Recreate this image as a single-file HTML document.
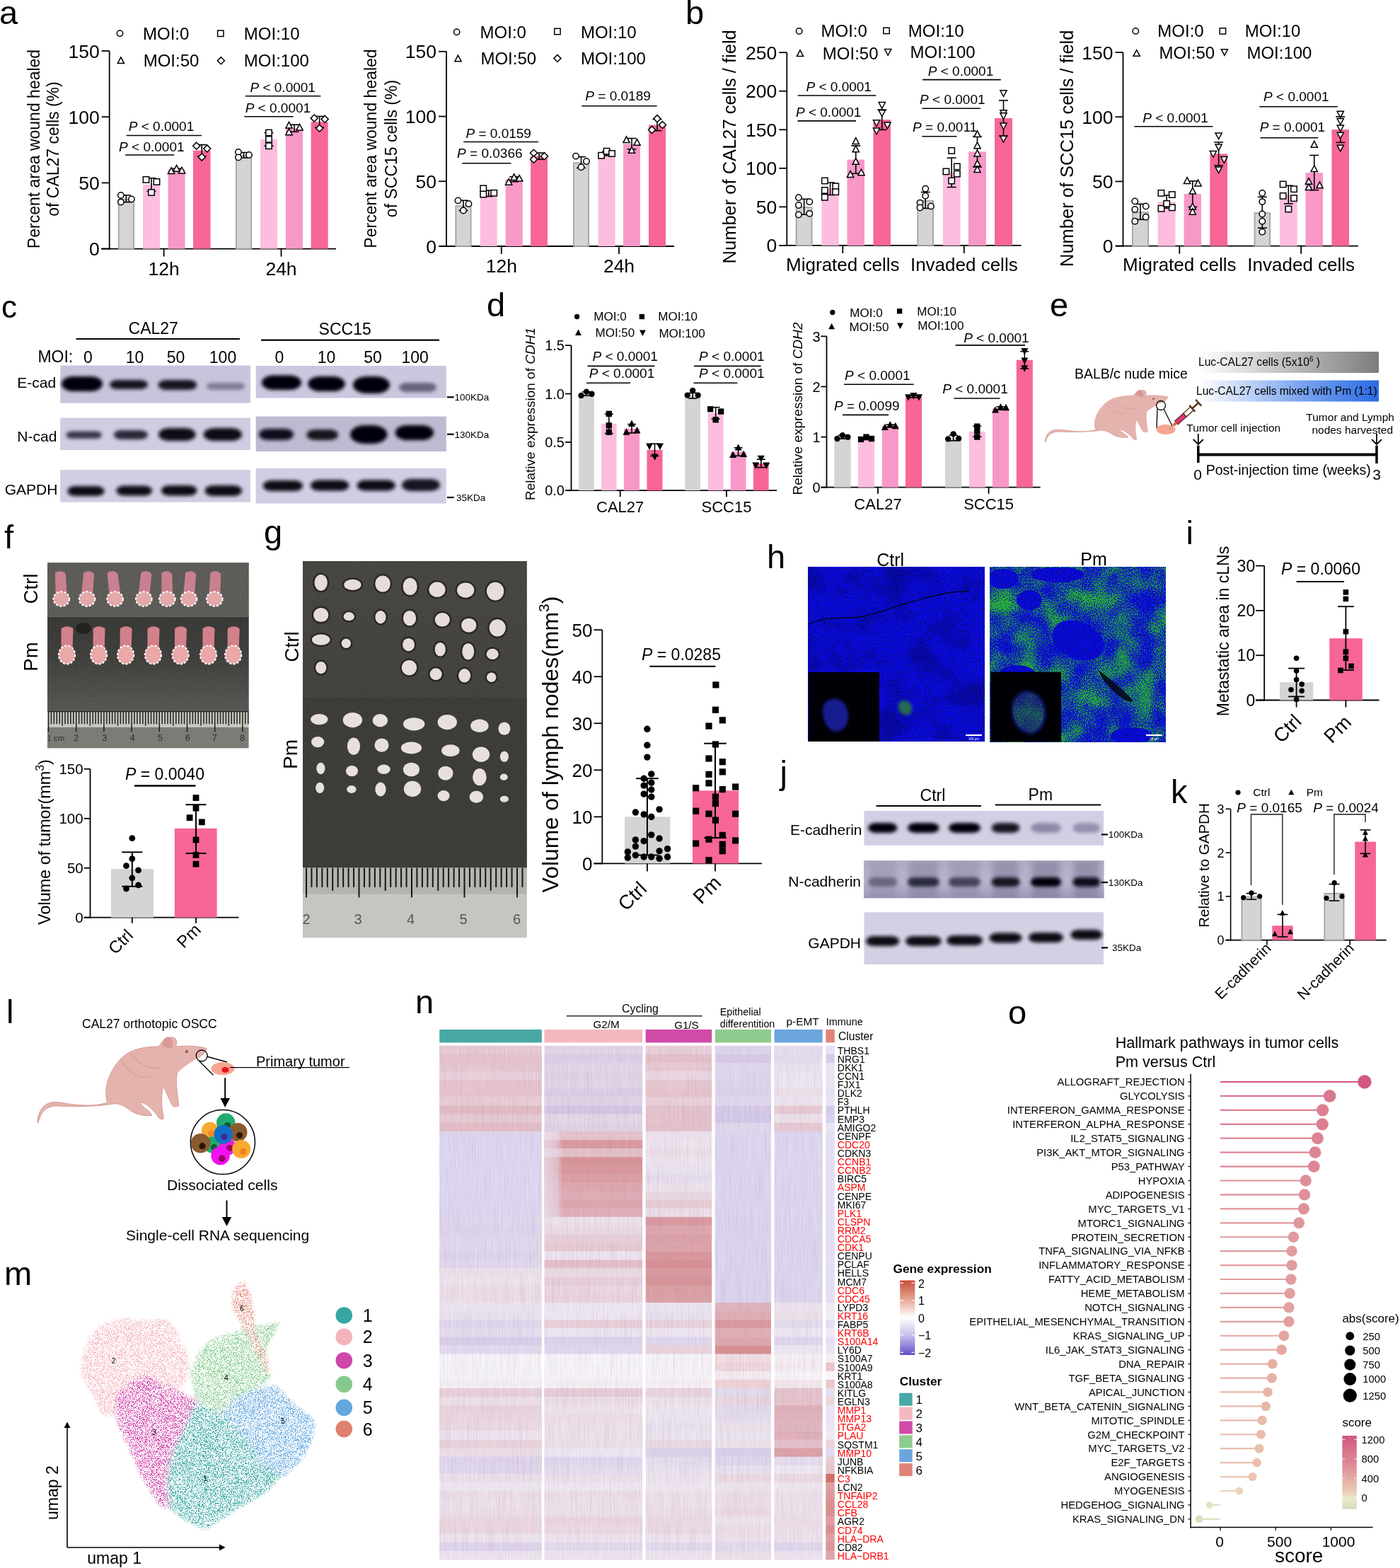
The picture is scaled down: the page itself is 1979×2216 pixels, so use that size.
<!DOCTYPE html>
<html><head><meta charset="utf-8"><title>Figure</title>
<style>html,body{margin:0;padding:0;background:#fff;overflow:hidden}svg{display:block}</style>
</head><body>
<svg width="1979" height="2216" viewBox="0 0 1979 2216" font-family="'Liberation Sans', Arial, Helvetica, sans-serif">
<defs><filter id="blb" x="-30%" y="-80%" width="160%" height="260%"><feGaussianBlur stdDeviation="2.6"/></filter>
<filter id="blb2" x="-30%" y="-80%" width="160%" height="260%"><feGaussianBlur stdDeviation="4"/></filter>
<linearGradient id="gg" x1="0" x2="1"><stop offset="0" stop-color="#fff"/><stop offset="1" stop-color="#7d7d7d"/></linearGradient>
<linearGradient id="gb" x1="0" x2="1"><stop offset="0" stop-color="#fff"/><stop offset="0.55" stop-color="#7ea6ee"/><stop offset="1" stop-color="#2a6be6"/></linearGradient>
<filter id="grain" x="0" y="0" width="100%" height="100%"><feTurbulence type="fractalNoise" baseFrequency="0.9" numOctaves="2" seed="3"/><feColorMatrix type="matrix" values="0 0 0 0 1  0 0 0 0 1  0 0 0 0 1  0 0 0 0 0"/></filter>
<filter id="grain2" x="0" y="0" width="100%" height="100%" color-interpolation-filters="sRGB"><feTurbulence type="fractalNoise" baseFrequency="0.7" numOctaves="2" seed="11" result="n"/><feColorMatrix in="n" type="matrix" values="0.35 0 0 0 0.0  0.35 0 0 0 0.0  0.35 0 0 0 0.0  0 0 0 0 0.35"/></filter>
<linearGradient id="fpm" x1="0" y1="0" x2="0" y2="1"><stop offset="0" stop-color="#3e3e3b"/><stop offset="0.45" stop-color="#4a4a46"/><stop offset="1" stop-color="#6c6c66"/></linearGradient>
<linearGradient id="gctl" x1="0" y1="0" x2="0" y2="1"><stop offset="0" stop-color="#504f48"/><stop offset="1" stop-color="#4b4a44"/></linearGradient>
<filter id="bluetex" x="0" y="0" width="100%" height="100%" color-interpolation-filters="sRGB"><feTurbulence type="fractalNoise" baseFrequency="0.6" numOctaves="2" seed="5" result="n"/><feColorMatrix in="n" type="matrix" values="0 0 0 0 0.04  0 0 0 0 0.04  1.9 0 0 0 -0.12  0 0 0 0 1"/></filter>
<filter id="bluetex2" x="0" y="0" width="100%" height="100%" color-interpolation-filters="sRGB"><feTurbulence type="fractalNoise" baseFrequency="0.6" numOctaves="2" seed="17" result="n"/><feColorMatrix in="n" type="matrix" values="0 0 0 0 0.04  0 0 0 0 0.05  1.9 0 0 0 -0.12  0 0 0 0 1"/></filter>
<filter id="darkpatch" x="0" y="0" width="100%" height="100%" color-interpolation-filters="sRGB"><feTurbulence type="fractalNoise" baseFrequency="0.025" numOctaves="3" seed="31" result="n"/><feColorMatrix in="n" type="matrix" values="0 0 0 0 0  0 0 0 0 0  0 0 0 0 0.1  3 0 0 0 -1.3"/></filter>
<filter id="greentex" x="0" y="0" width="100%" height="100%" color-interpolation-filters="sRGB"><feTurbulence type="fractalNoise" baseFrequency="0.03" numOctaves="2" seed="3" result="t1"/><feColorMatrix in="t1" type="matrix" values="1 0 0 0 0  0 0 0 0 0  0 0 0 0 0  0 0 0 0 1" result="u1"/><feTurbulence type="fractalNoise" baseFrequency="0.7" numOctaves="1" seed="9" result="t2"/><feColorMatrix in="t2" type="matrix" values="1 0 0 0 0  0 0 0 0 0  0 0 0 0 0  0 0 0 0 1" result="u2"/><feComposite in="u1" in2="u2" operator="arithmetic" k1="0" k2="0.55" k3="1" k4="-0.27" result="s"/><feColorMatrix in="s" type="matrix" values="0 0 0 0 0.16  0 0 0 0 0.72  0 0 0 0 0.16  4.0 0 0 0 -1.75"/></filter>
<filter id="soft" x="-20%" y="-20%" width="140%" height="140%"><feGaussianBlur stdDeviation="2"/></filter>
<linearGradient id="ncad" x1="0" y1="0" x2="0" y2="1"><stop offset="0" stop-color="#a9a5c0" stop-opacity="0.6"/><stop offset="0.5" stop-color="#a9a5c0" stop-opacity="0"/><stop offset="1" stop-color="#8f8aab" stop-opacity="0.7"/></linearGradient>
<filter id="dots" x="-5%" y="-5%" width="110%" height="110%" color-interpolation-filters="sRGB"><feGaussianBlur in="SourceGraphic" stdDeviation="3.5" result="b"/><feTurbulence type="fractalNoise" baseFrequency="1.3" numOctaves="1" seed="4" result="t"/><feColorMatrix in="t" type="matrix" values="0 0 0 0 1  0 0 0 0 1  0 0 0 0 1  7 0 0 0 -3.35" result="m"/><feComposite in="b" in2="m" operator="arithmetic" k1="1" k2="0" k3="0" k4="0" result="p"/><feColorMatrix in="p" type="matrix" values="1 0 0 0 0  0 1 0 0 0  0 0 1 0 0  0 0 0 2.2 -0.45"/></filter>
<filter id="streak" x="0" y="0" width="100%" height="100%" color-interpolation-filters="sRGB"><feTurbulence type="fractalNoise" baseFrequency="0.9 0.02" numOctaves="2" seed="8" result="t"/><feColorMatrix in="t" type="matrix" values="0 0 0 0 0.62  0 0 0 0 0.5  0 0 0 0 0.62  1.4 0 0 0 -0.55"/></filter>
<linearGradient id="g2fade" x1="0" x2="1"><stop offset="0" stop-color="#e8e2f2" stop-opacity="0.75"/><stop offset="0.7" stop-color="#e8e2f2" stop-opacity="0.5"/><stop offset="1" stop-color="#e8e2f2" stop-opacity="0"/></linearGradient>
<linearGradient id="hmg" x1="0" y1="0" x2="0" y2="1"><stop offset="0" stop-color="#c64e3a"/><stop offset="0.25" stop-color="#e6a490"/><stop offset="0.5" stop-color="#ffffff"/><stop offset="0.75" stop-color="#c2bbea"/><stop offset="1" stop-color="#6152cb"/></linearGradient>
<linearGradient id="scg" x1="0" y1="0" x2="0" y2="1"><stop offset="0" stop-color="#d2587f"/><stop offset="0.4" stop-color="#de8c98"/><stop offset="0.72" stop-color="#e8c4b0"/><stop offset="0.86" stop-color="#ece8c8"/><stop offset="1" stop-color="#d6dcbe"/></linearGradient></defs>
<rect width="100%" height="100%" fill="#fff"/>
<text x="-1" y="34" font-size="47">a</text>
<line x1="154.7" y1="352.5" x2="154.7" y2="72" stroke="#000" stroke-width="1.8" />
<line x1="143.7" y1="351.6" x2="154.7" y2="351.6" stroke="#000" stroke-width="1.8" />
<text x="140.7" y="361.14" font-size="26.5" text-anchor="end">0</text>
<line x1="143.7" y1="258.4" x2="154.7" y2="258.4" stroke="#000" stroke-width="1.8" />
<text x="140.7" y="267.94" font-size="26.5" text-anchor="end">50</text>
<line x1="143.7" y1="165.2" x2="154.7" y2="165.2" stroke="#000" stroke-width="1.8" />
<text x="140.7" y="174.74" font-size="26.5" text-anchor="end">100</text>
<line x1="143.7" y1="72" x2="154.7" y2="72" stroke="#000" stroke-width="1.8" />
<text x="140.7" y="81.54" font-size="26.5" text-anchor="end">150</text>
<line x1="143" y1="351.6" x2="475" y2="351.6" stroke="#000" stroke-width="1.8" />
<line x1="231.6" y1="351.6" x2="231.6" y2="362.6" stroke="#000" stroke-width="1.8" />
<text x="231.6" y="389.2" font-size="26.5" text-anchor="middle">12h</text>
<line x1="397.5" y1="351.6" x2="397.5" y2="362.6" stroke="#000" stroke-width="1.8" />
<text x="397.5" y="389.2" font-size="26.5" text-anchor="middle">24h</text>
<rect x="167.7" y="281.67" width="21.4" height="69.93" fill="#d4d4d4" stroke="#a3a3a7" stroke-width="1.8" />
<rect x="202" y="261.01" width="24" height="90.59" fill="#fdbddf" />
<rect x="237.6" y="239.76" width="23.9" height="111.84" fill="#f898c8" />
<rect x="273" y="212.73" width="24.5" height="138.87" fill="#f76694" />
<rect x="333.9" y="220.16" width="21.2" height="131.44" fill="#d4d4d4" stroke="#a3a3a7" stroke-width="1.8" />
<rect x="368" y="196.89" width="24" height="154.71" fill="#fdbddf" />
<rect x="404" y="181.23" width="24" height="170.37" fill="#f898c8" />
<rect x="439.6" y="172.28" width="24.1" height="179.32" fill="#f76694" />
<line x1="178.4" y1="275.92" x2="178.4" y2="285.61" stroke="#000" stroke-width="1.6" />
<line x1="171.9" y1="275.92" x2="184.9" y2="275.92" stroke="#000" stroke-width="1.6" />
<line x1="171.9" y1="285.61" x2="184.9" y2="285.61" stroke="#000" stroke-width="1.6" />
<circle cx="170.9" cy="275.92" r="4.2" fill="#fff" stroke="#000" stroke-width="1.5" />
<circle cx="170.9" cy="285.61" r="4.2" fill="#fff" stroke="#000" stroke-width="1.5" />
<circle cx="185.9" cy="281.51" r="4.2" fill="#fff" stroke="#000" stroke-width="1.5" />
<line x1="214" y1="251.69" x2="214" y2="270.33" stroke="#000" stroke-width="1.6" />
<line x1="207.5" y1="251.69" x2="220.5" y2="251.69" stroke="#000" stroke-width="1.6" />
<line x1="207.5" y1="270.33" x2="220.5" y2="270.33" stroke="#000" stroke-width="1.6" />
<rect x="202.3" y="249.73" width="8.4" height="8.4" fill="#fff" stroke="#000" stroke-width="1.5" />
<rect x="217.3" y="252.71" width="8.4" height="8.4" fill="#fff" stroke="#000" stroke-width="1.5" />
<rect x="209.8" y="267.81" width="8.4" height="8.4" fill="#fff" stroke="#000" stroke-width="1.5" />
<line x1="249.55" y1="238.27" x2="249.55" y2="241.25" stroke="#000" stroke-width="1.6" />
<line x1="243.05" y1="238.27" x2="256.05" y2="238.27" stroke="#000" stroke-width="1.6" />
<line x1="243.05" y1="241.25" x2="256.05" y2="241.25" stroke="#000" stroke-width="1.6" />
<path d="M242.05 236.79L246.67 245.49L237.43 245.49Z" fill="#fff" stroke="#000" stroke-width="1.5" />
<path d="M249.55 233.44L254.17 242.13L244.93 242.13Z" fill="#fff" stroke="#000" stroke-width="1.5" />
<path d="M257.05 236.23L261.67 244.93L252.43 244.93Z" fill="#fff" stroke="#000" stroke-width="1.5" />
<line x1="285.25" y1="204.53" x2="285.25" y2="220.93" stroke="#000" stroke-width="1.6" />
<line x1="278.75" y1="204.53" x2="291.75" y2="204.53" stroke="#000" stroke-width="1.6" />
<line x1="278.75" y1="220.93" x2="291.75" y2="220.93" stroke="#000" stroke-width="1.6" />
<path d="M277.75 201.17L282.79 206.21L277.75 211.25L272.71 206.21Z" fill="#fff" stroke="#000" stroke-width="1.5" />
<path d="M292.75 204.9L297.79 209.94L292.75 214.98L287.71 209.94Z" fill="#fff" stroke="#000" stroke-width="1.5" />
<path d="M285.25 217.01L290.29 222.05L285.25 227.09L280.21 222.05Z" fill="#fff" stroke="#000" stroke-width="1.5" />
<line x1="344.5" y1="215.53" x2="344.5" y2="222.98" stroke="#000" stroke-width="1.6" />
<line x1="338" y1="215.53" x2="351" y2="215.53" stroke="#000" stroke-width="1.6" />
<line x1="338" y1="222.98" x2="351" y2="222.98" stroke="#000" stroke-width="1.6" />
<circle cx="337" cy="214.97" r="4.2" fill="#fff" stroke="#000" stroke-width="1.5" />
<circle cx="337" cy="222.42" r="4.2" fill="#fff" stroke="#000" stroke-width="1.5" />
<circle cx="352" cy="219.07" r="4.2" fill="#fff" stroke="#000" stroke-width="1.5" />
<line x1="380" y1="187.57" x2="380" y2="206.21" stroke="#000" stroke-width="1.6" />
<line x1="373.5" y1="187.57" x2="386.5" y2="187.57" stroke="#000" stroke-width="1.6" />
<line x1="373.5" y1="206.21" x2="386.5" y2="206.21" stroke="#000" stroke-width="1.6" />
<rect x="375.8" y="183.37" width="8.4" height="8.4" fill="#fff" stroke="#000" stroke-width="1.5" />
<rect x="375.8" y="192.69" width="8.4" height="8.4" fill="#fff" stroke="#000" stroke-width="1.5" />
<rect x="375.8" y="202.01" width="8.4" height="8.4" fill="#fff" stroke="#000" stroke-width="1.5" />
<line x1="416" y1="176.2" x2="416" y2="186.26" stroke="#000" stroke-width="1.6" />
<line x1="409.5" y1="176.2" x2="422.5" y2="176.2" stroke="#000" stroke-width="1.6" />
<line x1="409.5" y1="186.26" x2="422.5" y2="186.26" stroke="#000" stroke-width="1.6" />
<path d="M408.5 172.3L413.12 180.99L403.88 180.99Z" fill="#fff" stroke="#000" stroke-width="1.5" />
<path d="M408.5 181.99L413.12 190.69L403.88 190.69Z" fill="#fff" stroke="#000" stroke-width="1.5" />
<path d="M423.5 175.28L428.12 183.98L418.88 183.98Z" fill="#fff" stroke="#000" stroke-width="1.5" />
<line x1="451.65" y1="164.45" x2="451.65" y2="180.11" stroke="#000" stroke-width="1.6" />
<line x1="445.15" y1="164.45" x2="458.15" y2="164.45" stroke="#000" stroke-width="1.6" />
<line x1="445.15" y1="180.11" x2="458.15" y2="180.11" stroke="#000" stroke-width="1.6" />
<path d="M444.15 162.02L449.19 167.06L444.15 172.1L439.11 167.06Z" fill="#fff" stroke="#000" stroke-width="1.5" />
<path d="M459.15 163.33L464.19 168.37L459.15 173.41L454.11 168.37Z" fill="#fff" stroke="#000" stroke-width="1.5" />
<path d="M451.65 176.19L456.69 181.23L451.65 186.27L446.61 181.23Z" fill="#fff" stroke="#000" stroke-width="1.5" />
<line x1="178.6" y1="191.5" x2="285" y2="191.5" stroke="#000" stroke-width="1.6" />
<text x="228" y="185.4" font-size="19" text-anchor="middle"><tspan font-style="italic">P</tspan> &lt; 0.0001</text>
<line x1="177.2" y1="219" x2="246.4" y2="219" stroke="#000" stroke-width="1.6" />
<text x="214.3" y="213.7" font-size="19" text-anchor="middle"><tspan font-style="italic">P</tspan> &lt; 0.0001</text>
<line x1="346.7" y1="135.7" x2="453.3" y2="135.7" stroke="#000" stroke-width="1.6" />
<text x="399.7" y="130.2" font-size="19" text-anchor="middle"><tspan font-style="italic">P</tspan> &lt; 0.0001</text>
<line x1="345.3" y1="164.8" x2="414.8" y2="164.8" stroke="#000" stroke-width="1.6" />
<text x="392.9" y="158.7" font-size="19" text-anchor="middle"><tspan font-style="italic">P</tspan> &lt; 0.0001</text>
<circle cx="169.5" cy="47.3" r="4.2" fill="#fff" stroke="#000" stroke-width="1.5" />
<text x="202" y="55.5" font-size="24">MOI:0</text>
<rect x="307.6" y="43.1" width="8.4" height="8.4" fill="#fff" stroke="#000" stroke-width="1.5" />
<text x="344.8" y="55.5" font-size="24">MOI:10</text>
<path d="M170.9 80.87L175.52 89.56L166.28 89.56Z" fill="#fff" stroke="#000" stroke-width="1.5" />
<text x="202.7" y="93.6" font-size="24">MOI:50</text>
<path d="M312.4 80.66L317.44 85.7L312.4 90.74L307.36 85.7Z" fill="#fff" stroke="#000" stroke-width="1.5" />
<text x="344.8" y="93.6" font-size="24">MOI:100</text>
<text x="55.5" y="210.5" font-size="23" text-anchor="middle" transform="rotate(-90 55.5 210.5)">Percent area wound healed</text>
<text x="82.5" y="210.5" font-size="23" text-anchor="middle" transform="rotate(-90 82.5 210.5)">of CAL27 cells (%)</text>
<line x1="631" y1="348.9" x2="631" y2="72.8" stroke="#000" stroke-width="1.8" />
<line x1="620" y1="348" x2="631" y2="348" stroke="#000" stroke-width="1.8" />
<text x="617" y="357.54" font-size="26.5" text-anchor="end">0</text>
<line x1="620" y1="256.26" x2="631" y2="256.26" stroke="#000" stroke-width="1.8" />
<text x="617" y="265.81" font-size="26.5" text-anchor="end">50</text>
<line x1="620" y1="164.53" x2="631" y2="164.53" stroke="#000" stroke-width="1.8" />
<text x="617" y="174.07" font-size="26.5" text-anchor="end">100</text>
<line x1="620" y1="72.8" x2="631" y2="72.8" stroke="#000" stroke-width="1.8" />
<text x="617" y="82.34" font-size="26.5" text-anchor="end">150</text>
<line x1="621" y1="348" x2="953" y2="348" stroke="#000" stroke-width="1.8" />
<line x1="708.8" y1="348" x2="708.8" y2="359" stroke="#000" stroke-width="1.8" />
<text x="708.8" y="385.1" font-size="26.5" text-anchor="middle">12h</text>
<line x1="875" y1="348" x2="875" y2="359" stroke="#000" stroke-width="1.8" />
<text x="875" y="385.1" font-size="26.5" text-anchor="middle">24h</text>
<rect x="644.3" y="291.29" width="21.3" height="56.71" fill="#d4d4d4" stroke="#a3a3a7" stroke-width="1.8" />
<rect x="678.8" y="273.33" width="23.9" height="74.67" fill="#fdbddf" />
<rect x="714.6" y="253.33" width="24.1" height="94.67" fill="#f898c8" />
<rect x="750" y="220.67" width="24" height="127.33" fill="#f76694" />
<rect x="810.9" y="230.38" width="21.2" height="117.62" fill="#d4d4d4" stroke="#a3a3a7" stroke-width="1.8" />
<rect x="845.6" y="217" width="23.9" height="131" fill="#fdbddf" />
<rect x="881" y="203.24" width="24" height="144.76" fill="#f898c8" />
<rect x="917" y="176.64" width="24" height="171.36" fill="#f76694" />
<line x1="654.95" y1="283.24" x2="654.95" y2="297.55" stroke="#000" stroke-width="1.6" />
<line x1="648.45" y1="283.24" x2="661.45" y2="283.24" stroke="#000" stroke-width="1.6" />
<line x1="648.45" y1="297.55" x2="661.45" y2="297.55" stroke="#000" stroke-width="1.6" />
<circle cx="647.45" cy="283.42" r="4.2" fill="#fff" stroke="#000" stroke-width="1.5" />
<circle cx="662.45" cy="288.01" r="4.2" fill="#fff" stroke="#000" stroke-width="1.5" />
<circle cx="654.95" cy="297.55" r="4.2" fill="#fff" stroke="#000" stroke-width="1.5" />
<line x1="690.75" y1="269.11" x2="690.75" y2="277.55" stroke="#000" stroke-width="1.6" />
<line x1="684.25" y1="269.11" x2="697.25" y2="269.11" stroke="#000" stroke-width="1.6" />
<line x1="684.25" y1="277.55" x2="697.25" y2="277.55" stroke="#000" stroke-width="1.6" />
<rect x="679.05" y="262.16" width="8.4" height="8.4" fill="#fff" stroke="#000" stroke-width="1.5" />
<rect x="679.05" y="270.41" width="8.4" height="8.4" fill="#fff" stroke="#000" stroke-width="1.5" />
<rect x="694.05" y="268.58" width="8.4" height="8.4" fill="#fff" stroke="#000" stroke-width="1.5" />
<line x1="726.65" y1="249.84" x2="726.65" y2="256.82" stroke="#000" stroke-width="1.6" />
<line x1="720.15" y1="249.84" x2="733.15" y2="249.84" stroke="#000" stroke-width="1.6" />
<line x1="720.15" y1="256.82" x2="733.15" y2="256.82" stroke="#000" stroke-width="1.6" />
<path d="M719.15 252.54L723.77 261.23L714.53 261.23Z" fill="#fff" stroke="#000" stroke-width="1.5" />
<path d="M726.65 245.93L731.27 254.62L722.03 254.62Z" fill="#fff" stroke="#000" stroke-width="1.5" />
<path d="M734.15 247.4L738.77 256.09L729.53 256.09Z" fill="#fff" stroke="#000" stroke-width="1.5" />
<line x1="762" y1="216.09" x2="762" y2="225.26" stroke="#000" stroke-width="1.6" />
<line x1="755.5" y1="216.09" x2="768.5" y2="216.09" stroke="#000" stroke-width="1.6" />
<line x1="755.5" y1="225.26" x2="768.5" y2="225.26" stroke="#000" stroke-width="1.6" />
<path d="M754.5 211.23L759.54 216.27L754.5 221.31L749.46 216.27Z" fill="#fff" stroke="#000" stroke-width="1.5" />
<path d="M769.5 215.63L774.54 220.67L769.5 225.71L764.46 220.67Z" fill="#fff" stroke="#000" stroke-width="1.5" />
<path d="M754.5 220.22L759.54 225.26L754.5 230.3L749.46 225.26Z" fill="#fff" stroke="#000" stroke-width="1.5" />
<line x1="821.5" y1="221.59" x2="821.5" y2="237.37" stroke="#000" stroke-width="1.6" />
<line x1="815" y1="221.59" x2="828" y2="221.59" stroke="#000" stroke-width="1.6" />
<line x1="815" y1="237.37" x2="828" y2="237.37" stroke="#000" stroke-width="1.6" />
<circle cx="814" cy="220.67" r="4.2" fill="#fff" stroke="#000" stroke-width="1.5" />
<circle cx="829" cy="228.01" r="4.2" fill="#fff" stroke="#000" stroke-width="1.5" />
<circle cx="821.5" cy="236.27" r="4.2" fill="#fff" stroke="#000" stroke-width="1.5" />
<line x1="857.55" y1="214.07" x2="857.55" y2="219.94" stroke="#000" stroke-width="1.6" />
<line x1="851.05" y1="214.07" x2="864.05" y2="214.07" stroke="#000" stroke-width="1.6" />
<line x1="851.05" y1="219.94" x2="864.05" y2="219.94" stroke="#000" stroke-width="1.6" />
<rect x="845.85" y="215.55" width="8.4" height="8.4" fill="#fff" stroke="#000" stroke-width="1.5" />
<rect x="853.35" y="209.5" width="8.4" height="8.4" fill="#fff" stroke="#000" stroke-width="1.5" />
<rect x="860.85" y="212.8" width="8.4" height="8.4" fill="#fff" stroke="#000" stroke-width="1.5" />
<line x1="893" y1="195.54" x2="893" y2="210.95" stroke="#000" stroke-width="1.6" />
<line x1="886.5" y1="195.54" x2="899.5" y2="195.54" stroke="#000" stroke-width="1.6" />
<line x1="886.5" y1="210.95" x2="899.5" y2="210.95" stroke="#000" stroke-width="1.6" />
<path d="M885.5 192.91L890.12 201.6L880.88 201.6Z" fill="#fff" stroke="#000" stroke-width="1.5" />
<path d="M900.5 196.58L905.12 205.27L895.88 205.27Z" fill="#fff" stroke="#000" stroke-width="1.5" />
<path d="M893 207.59L897.62 216.28L888.38 216.28Z" fill="#fff" stroke="#000" stroke-width="1.5" />
<line x1="929" y1="168.57" x2="929" y2="184.71" stroke="#000" stroke-width="1.6" />
<line x1="922.5" y1="168.57" x2="935.5" y2="168.57" stroke="#000" stroke-width="1.6" />
<line x1="922.5" y1="184.71" x2="935.5" y2="184.71" stroke="#000" stroke-width="1.6" />
<path d="M929 162.61L934.04 167.65L929 172.69L923.96 167.65Z" fill="#fff" stroke="#000" stroke-width="1.5" />
<path d="M936.5 171.42L941.54 176.46L936.5 181.5L931.46 176.46Z" fill="#fff" stroke="#000" stroke-width="1.5" />
<path d="M921.5 178.39L926.54 183.43L921.5 188.47L916.46 183.43Z" fill="#fff" stroke="#000" stroke-width="1.5" />
<line x1="655.2" y1="200.5" x2="761" y2="200.5" stroke="#000" stroke-width="1.6" />
<text x="704.7" y="195" font-size="19" text-anchor="middle"><tspan font-style="italic">P</tspan> = 0.0159</text>
<line x1="653.3" y1="230.8" x2="722.5" y2="230.8" stroke="#000" stroke-width="1.6" />
<text x="692.3" y="223" font-size="19" text-anchor="middle"><tspan font-style="italic">P</tspan> = 0.0366</text>
<line x1="822.3" y1="149.7" x2="928.6" y2="149.7" stroke="#000" stroke-width="1.6" />
<text x="873.6" y="142.3" font-size="19" text-anchor="middle"><tspan font-style="italic">P</tspan> = 0.0189</text>
<circle cx="645.6" cy="45.3" r="4.2" fill="#fff" stroke="#000" stroke-width="1.5" />
<text x="678.6" y="53.6" font-size="24">MOI:0</text>
<rect x="783.7" y="40.3" width="8.4" height="8.4" fill="#fff" stroke="#000" stroke-width="1.5" />
<text x="820.9" y="53.6" font-size="24">MOI:10</text>
<path d="M647.5 78.17L652.12 86.86L642.88 86.86Z" fill="#fff" stroke="#000" stroke-width="1.5" />
<text x="679.4" y="91" font-size="24">MOI:50</text>
<path d="M787.9 77.36L792.94 82.4L787.9 87.44L782.86 82.4Z" fill="#fff" stroke="#000" stroke-width="1.5" />
<text x="820.9" y="91" font-size="24">MOI:100</text>
<text x="532" y="210" font-size="23" text-anchor="middle" transform="rotate(-90 532 210)">Percent area wound healed</text>
<text x="561" y="210" font-size="23" text-anchor="middle" transform="rotate(-90 561 210)">of SCC15 cells (%)</text>
<text x="969" y="33.6" font-size="47">b</text>
<line x1="1112.3" y1="347.8" x2="1112.3" y2="74.2" stroke="#000" stroke-width="1.8" />
<line x1="1101.3" y1="346.9" x2="1112.3" y2="346.9" stroke="#000" stroke-width="1.8" />
<text x="1098.3" y="356.44" font-size="26.5" text-anchor="end">0</text>
<line x1="1101.3" y1="292.36" x2="1112.3" y2="292.36" stroke="#000" stroke-width="1.8" />
<text x="1098.3" y="301.9" font-size="26.5" text-anchor="end">50</text>
<line x1="1101.3" y1="237.82" x2="1112.3" y2="237.82" stroke="#000" stroke-width="1.8" />
<text x="1098.3" y="247.36" font-size="26.5" text-anchor="end">100</text>
<line x1="1101.3" y1="183.28" x2="1112.3" y2="183.28" stroke="#000" stroke-width="1.8" />
<text x="1098.3" y="192.82" font-size="26.5" text-anchor="end">150</text>
<line x1="1101.3" y1="128.74" x2="1112.3" y2="128.74" stroke="#000" stroke-width="1.8" />
<text x="1098.3" y="138.28" font-size="26.5" text-anchor="end">200</text>
<line x1="1101.3" y1="74.2" x2="1112.3" y2="74.2" stroke="#000" stroke-width="1.8" />
<text x="1098.3" y="83.74" font-size="26.5" text-anchor="end">250</text>
<line x1="1101.7" y1="346.9" x2="1443.5" y2="346.9" stroke="#000" stroke-width="1.8" />
<line x1="1191.3" y1="346.9" x2="1191.3" y2="357.9" stroke="#000" stroke-width="1.8" />
<text x="1191.3" y="382.8" font-size="26" text-anchor="middle">Migrated cells</text>
<line x1="1362.8" y1="346.9" x2="1362.8" y2="357.9" stroke="#000" stroke-width="1.8" />
<text x="1362.8" y="382.8" font-size="26" text-anchor="middle">Invaded cells</text>
<rect x="1125.6" y="293.15" width="22" height="53.75" fill="#d4d4d4" stroke="#a3a3a7" stroke-width="1.8" />
<rect x="1161.4" y="266.73" width="24.3" height="80.17" fill="#fdbddf" />
<rect x="1197.5" y="225.6" width="24.5" height="121.3" fill="#f898c8" />
<rect x="1234.5" y="169.21" width="24.5" height="177.69" fill="#f76694" />
<rect x="1297.3" y="283.88" width="21.8" height="63.02" fill="#d4d4d4" stroke="#a3a3a7" stroke-width="1.8" />
<rect x="1332.8" y="243.82" width="24.7" height="103.08" fill="#fdbddf" />
<rect x="1369" y="214.37" width="25" height="132.53" fill="#f898c8" />
<rect x="1406" y="167.03" width="25" height="179.87" fill="#f76694" />
<line x1="1136.6" y1="281.34" x2="1136.6" y2="303.16" stroke="#000" stroke-width="1.6" />
<line x1="1130.1" y1="281.34" x2="1143.1" y2="281.34" stroke="#000" stroke-width="1.6" />
<line x1="1130.1" y1="303.16" x2="1143.1" y2="303.16" stroke="#000" stroke-width="1.6" />
<circle cx="1128.9" cy="279.27" r="4.2" fill="#fff" stroke="#000" stroke-width="1.5" />
<circle cx="1144.3" cy="285.16" r="4.2" fill="#fff" stroke="#000" stroke-width="1.5" />
<circle cx="1128.9" cy="289.96" r="4.2" fill="#fff" stroke="#000" stroke-width="1.5" />
<circle cx="1128.9" cy="303.38" r="4.2" fill="#fff" stroke="#000" stroke-width="1.5" />
<circle cx="1144.3" cy="301.85" r="4.2" fill="#fff" stroke="#000" stroke-width="1.5" />
<line x1="1173.55" y1="258" x2="1173.55" y2="275.45" stroke="#000" stroke-width="1.6" />
<line x1="1167.05" y1="258" x2="1180.05" y2="258" stroke="#000" stroke-width="1.6" />
<line x1="1167.05" y1="275.45" x2="1180.05" y2="275.45" stroke="#000" stroke-width="1.6" />
<rect x="1161.65" y="251.29" width="8.4" height="8.4" fill="#fff" stroke="#000" stroke-width="1.5" />
<rect x="1161.65" y="264.82" width="8.4" height="8.4" fill="#fff" stroke="#000" stroke-width="1.5" />
<rect x="1177.05" y="259.14" width="8.4" height="8.4" fill="#fff" stroke="#000" stroke-width="1.5" />
<rect x="1177.05" y="267" width="8.4" height="8.4" fill="#fff" stroke="#000" stroke-width="1.5" />
<rect x="1161.65" y="274.63" width="8.4" height="8.4" fill="#fff" stroke="#000" stroke-width="1.5" />
<line x1="1209.75" y1="205.97" x2="1209.75" y2="245.24" stroke="#000" stroke-width="1.6" />
<line x1="1203.25" y1="205.97" x2="1216.25" y2="205.97" stroke="#000" stroke-width="1.6" />
<line x1="1203.25" y1="245.24" x2="1216.25" y2="245.24" stroke="#000" stroke-width="1.6" />
<path d="M1209.75 194.7L1214.37 203.4L1205.13 203.4Z" fill="#fff" stroke="#000" stroke-width="1.5" />
<path d="M1209.75 205.94L1214.37 214.63L1205.13 214.63Z" fill="#fff" stroke="#000" stroke-width="1.5" />
<path d="M1209.75 223.61L1214.37 232.3L1205.13 232.3Z" fill="#fff" stroke="#000" stroke-width="1.5" />
<path d="M1202.05 241.72L1206.67 250.41L1197.43 250.41Z" fill="#fff" stroke="#000" stroke-width="1.5" />
<path d="M1217.45 238.99L1222.07 247.68L1212.83 247.68Z" fill="#fff" stroke="#000" stroke-width="1.5" />
<line x1="1246.75" y1="155.03" x2="1246.75" y2="183.39" stroke="#000" stroke-width="1.6" />
<line x1="1240.25" y1="155.03" x2="1253.25" y2="155.03" stroke="#000" stroke-width="1.6" />
<line x1="1240.25" y1="183.39" x2="1253.25" y2="183.39" stroke="#000" stroke-width="1.6" />
<path d="M1246.75 153.31L1251.37 144.62L1242.13 144.62Z" fill="#fff" stroke="#000" stroke-width="1.5" />
<path d="M1246.75 164.55L1251.37 155.85L1242.13 155.85Z" fill="#fff" stroke="#000" stroke-width="1.5" />
<path d="M1239.05 178.51L1243.67 169.82L1234.43 169.82Z" fill="#fff" stroke="#000" stroke-width="1.5" />
<path d="M1254.45 181.78L1259.07 173.09L1249.83 173.09Z" fill="#fff" stroke="#000" stroke-width="1.5" />
<path d="M1239.05 189.75L1243.67 181.05L1234.43 181.05Z" fill="#fff" stroke="#000" stroke-width="1.5" />
<line x1="1308.2" y1="271.53" x2="1308.2" y2="294.43" stroke="#000" stroke-width="1.6" />
<line x1="1301.7" y1="271.53" x2="1314.7" y2="271.53" stroke="#000" stroke-width="1.6" />
<line x1="1301.7" y1="294.43" x2="1314.7" y2="294.43" stroke="#000" stroke-width="1.6" />
<circle cx="1308.2" cy="266.73" r="4.2" fill="#fff" stroke="#000" stroke-width="1.5" />
<circle cx="1308.2" cy="276.76" r="4.2" fill="#fff" stroke="#000" stroke-width="1.5" />
<circle cx="1300.5" cy="286.58" r="4.2" fill="#fff" stroke="#000" stroke-width="1.5" />
<circle cx="1315.9" cy="291.38" r="4.2" fill="#fff" stroke="#000" stroke-width="1.5" />
<circle cx="1300.5" cy="293.56" r="4.2" fill="#fff" stroke="#000" stroke-width="1.5" />
<line x1="1345.15" y1="223.09" x2="1345.15" y2="264.54" stroke="#000" stroke-width="1.6" />
<line x1="1338.65" y1="223.09" x2="1351.65" y2="223.09" stroke="#000" stroke-width="1.6" />
<line x1="1338.65" y1="264.54" x2="1351.65" y2="264.54" stroke="#000" stroke-width="1.6" />
<rect x="1340.95" y="208.75" width="8.4" height="8.4" fill="#fff" stroke="#000" stroke-width="1.5" />
<rect x="1348.65" y="231.22" width="8.4" height="8.4" fill="#fff" stroke="#000" stroke-width="1.5" />
<rect x="1333.25" y="238.2" width="8.4" height="8.4" fill="#fff" stroke="#000" stroke-width="1.5" />
<rect x="1348.65" y="241.47" width="8.4" height="8.4" fill="#fff" stroke="#000" stroke-width="1.5" />
<rect x="1340.95" y="251.29" width="8.4" height="8.4" fill="#fff" stroke="#000" stroke-width="1.5" />
<line x1="1381.5" y1="192.77" x2="1381.5" y2="235.97" stroke="#000" stroke-width="1.6" />
<line x1="1375" y1="192.77" x2="1388" y2="192.77" stroke="#000" stroke-width="1.6" />
<line x1="1375" y1="235.97" x2="1388" y2="235.97" stroke="#000" stroke-width="1.6" />
<path d="M1381.5 184.89L1386.12 193.58L1376.88 193.58Z" fill="#fff" stroke="#000" stroke-width="1.5" />
<path d="M1381.5 201.03L1386.12 209.72L1376.88 209.72Z" fill="#fff" stroke="#000" stroke-width="1.5" />
<path d="M1381.5 212.26L1386.12 220.96L1376.88 220.96Z" fill="#fff" stroke="#000" stroke-width="1.5" />
<path d="M1381.5 226.34L1386.12 235.03L1376.88 235.03Z" fill="#fff" stroke="#000" stroke-width="1.5" />
<path d="M1381.5 234.74L1386.12 243.43L1376.88 243.43Z" fill="#fff" stroke="#000" stroke-width="1.5" />
<line x1="1418.5" y1="141.94" x2="1418.5" y2="192.12" stroke="#000" stroke-width="1.6" />
<line x1="1412" y1="141.94" x2="1425" y2="141.94" stroke="#000" stroke-width="1.6" />
<line x1="1412" y1="192.12" x2="1425" y2="192.12" stroke="#000" stroke-width="1.6" />
<path d="M1418.5 136.52L1423.12 127.82L1413.88 127.82Z" fill="#fff" stroke="#000" stroke-width="1.5" />
<path d="M1418.5 164.55L1423.12 155.85L1413.88 155.85Z" fill="#fff" stroke="#000" stroke-width="1.5" />
<path d="M1418.5 182.77L1423.12 174.07L1413.88 174.07Z" fill="#fff" stroke="#000" stroke-width="1.5" />
<path d="M1418.5 200.98L1423.12 192.29L1413.88 192.29Z" fill="#fff" stroke="#000" stroke-width="1.5" />
<path d="M1418.5 168.48L1423.12 159.78L1413.88 159.78Z" fill="#fff" stroke="#000" stroke-width="1.5" />
<line x1="1127.7" y1="135" x2="1238.4" y2="135" stroke="#000" stroke-width="1.6" />
<text x="1185.7" y="128.9" font-size="19" text-anchor="middle"><tspan font-style="italic">P</tspan> &lt; 0.0001</text>
<line x1="1127.5" y1="170.9" x2="1210" y2="170.9" stroke="#000" stroke-width="1.6" />
<text x="1171.2" y="165.3" font-size="19" text-anchor="middle"><tspan font-style="italic">P</tspan> &lt; 0.0001</text>
<line x1="1304" y1="112.6" x2="1414.7" y2="112.6" stroke="#000" stroke-width="1.6" />
<text x="1358" y="106.5" font-size="19" text-anchor="middle"><tspan font-style="italic">P</tspan> &lt; 0.0001</text>
<line x1="1303.4" y1="153.3" x2="1386" y2="153.3" stroke="#000" stroke-width="1.6" />
<text x="1346.3" y="147.1" font-size="19" text-anchor="middle"><tspan font-style="italic">P</tspan> &lt; 0.0001</text>
<line x1="1303.4" y1="192.8" x2="1352.5" y2="192.8" stroke="#000" stroke-width="1.6" />
<text x="1335.6" y="185.8" font-size="19" text-anchor="middle"><tspan font-style="italic">P</tspan> = 0.0011</text>
<circle cx="1129.7" cy="44" r="4.2" fill="#fff" stroke="#000" stroke-width="1.5" />
<text x="1160.5" y="52" font-size="24">MOI:0</text>
<rect x="1248.8" y="39.2" width="8.4" height="8.4" fill="#fff" stroke="#000" stroke-width="1.5" />
<text x="1283.8" y="52" font-size="24">MOI:10</text>
<path d="M1131 70.87L1135.62 79.56L1126.38 79.56Z" fill="#fff" stroke="#000" stroke-width="1.5" />
<text x="1162.8" y="83.5" font-size="24">MOI:50</text>
<path d="M1255.2 78.23L1259.82 69.54L1250.58 69.54Z" fill="#fff" stroke="#000" stroke-width="1.5" />
<text x="1286.6" y="81.5" font-size="24">MOI:100</text>
<text x="1040" y="207.3" font-size="25.5" text-anchor="middle" transform="rotate(-90 1040 207.3)">Number of CAL27 cells / field</text>
<line x1="1587.5" y1="348.6" x2="1587.5" y2="74" stroke="#000" stroke-width="1.8" />
<line x1="1576.5" y1="347.7" x2="1587.5" y2="347.7" stroke="#000" stroke-width="1.8" />
<text x="1573.5" y="357.24" font-size="26.5" text-anchor="end">0</text>
<line x1="1576.5" y1="256.46" x2="1587.5" y2="256.46" stroke="#000" stroke-width="1.8" />
<text x="1573.5" y="266" font-size="26.5" text-anchor="end">50</text>
<line x1="1576.5" y1="165.23" x2="1587.5" y2="165.23" stroke="#000" stroke-width="1.8" />
<text x="1573.5" y="174.77" font-size="26.5" text-anchor="end">100</text>
<line x1="1576.5" y1="74" x2="1587.5" y2="74" stroke="#000" stroke-width="1.8" />
<text x="1573.5" y="83.53" font-size="26.5" text-anchor="end">150</text>
<line x1="1577.3" y1="347.7" x2="1920" y2="347.7" stroke="#000" stroke-width="1.8" />
<line x1="1667.3" y1="347.7" x2="1667.3" y2="358.7" stroke="#000" stroke-width="1.8" />
<text x="1667.3" y="382.8" font-size="26" text-anchor="middle">Migrated cells</text>
<line x1="1839.2" y1="347.7" x2="1839.2" y2="358.7" stroke="#000" stroke-width="1.8" />
<text x="1839.2" y="382.8" font-size="26" text-anchor="middle">Invaded cells</text>
<rect x="1600.9" y="300.25" width="22.2" height="47.45" fill="#d4d4d4" stroke="#a3a3a7" stroke-width="1.8" />
<rect x="1636.8" y="285.11" width="24.7" height="62.59" fill="#fdbddf" />
<rect x="1673.6" y="274.16" width="24.4" height="73.54" fill="#f898c8" />
<rect x="1710.3" y="217.42" width="24.7" height="130.28" fill="#f76694" />
<rect x="1773.5" y="301.16" width="21.6" height="46.54" fill="#d4d4d4" stroke="#a3a3a7" stroke-width="1.8" />
<rect x="1809" y="275.08" width="24.7" height="72.62" fill="#fdbddf" />
<rect x="1845.5" y="244.06" width="24.5" height="103.64" fill="#f898c8" />
<rect x="1882.5" y="183.11" width="24.5" height="164.59" fill="#f76694" />
<line x1="1612" y1="288.4" x2="1612" y2="310.29" stroke="#000" stroke-width="1.6" />
<line x1="1605.5" y1="288.4" x2="1618.5" y2="288.4" stroke="#000" stroke-width="1.6" />
<line x1="1605.5" y1="310.29" x2="1618.5" y2="310.29" stroke="#000" stroke-width="1.6" />
<circle cx="1604.3" cy="284.38" r="4.2" fill="#fff" stroke="#000" stroke-width="1.5" />
<circle cx="1619.7" cy="291.5" r="4.2" fill="#fff" stroke="#000" stroke-width="1.5" />
<circle cx="1604.3" cy="296.06" r="4.2" fill="#fff" stroke="#000" stroke-width="1.5" />
<circle cx="1619.7" cy="306.64" r="4.2" fill="#fff" stroke="#000" stroke-width="1.5" />
<circle cx="1604.3" cy="312.67" r="4.2" fill="#fff" stroke="#000" stroke-width="1.5" />
<line x1="1649.15" y1="275.99" x2="1649.15" y2="294.24" stroke="#000" stroke-width="1.6" />
<line x1="1642.65" y1="275.99" x2="1655.65" y2="275.99" stroke="#000" stroke-width="1.6" />
<line x1="1642.65" y1="294.24" x2="1655.65" y2="294.24" stroke="#000" stroke-width="1.6" />
<rect x="1637.25" y="268.69" width="8.4" height="8.4" fill="#fff" stroke="#000" stroke-width="1.5" />
<rect x="1652.65" y="270.88" width="8.4" height="8.4" fill="#fff" stroke="#000" stroke-width="1.5" />
<rect x="1637.25" y="290.58" width="8.4" height="8.4" fill="#fff" stroke="#000" stroke-width="1.5" />
<rect x="1652.65" y="289.12" width="8.4" height="8.4" fill="#fff" stroke="#000" stroke-width="1.5" />
<rect x="1644.95" y="283.65" width="8.4" height="8.4" fill="#fff" stroke="#000" stroke-width="1.5" />
<line x1="1685.8" y1="255.92" x2="1685.8" y2="292.41" stroke="#000" stroke-width="1.6" />
<line x1="1679.3" y1="255.92" x2="1692.3" y2="255.92" stroke="#000" stroke-width="1.6" />
<line x1="1679.3" y1="292.41" x2="1692.3" y2="292.41" stroke="#000" stroke-width="1.6" />
<path d="M1678.1 250.72L1682.72 259.42L1673.48 259.42Z" fill="#fff" stroke="#000" stroke-width="1.5" />
<path d="M1693.5 254.19L1698.12 262.88L1688.88 262.88Z" fill="#fff" stroke="#000" stroke-width="1.5" />
<path d="M1685.8 265.32L1690.42 274.01L1681.18 274.01Z" fill="#fff" stroke="#000" stroke-width="1.5" />
<path d="M1685.8 287.22L1690.42 295.91L1681.18 295.91Z" fill="#fff" stroke="#000" stroke-width="1.5" />
<path d="M1685.8 294.52L1690.42 303.21L1681.18 303.21Z" fill="#fff" stroke="#000" stroke-width="1.5" />
<line x1="1722.65" y1="200.99" x2="1722.65" y2="233.84" stroke="#000" stroke-width="1.6" />
<line x1="1716.15" y1="200.99" x2="1729.15" y2="200.99" stroke="#000" stroke-width="1.6" />
<line x1="1716.15" y1="233.84" x2="1729.15" y2="233.84" stroke="#000" stroke-width="1.6" />
<path d="M1722.65 196.7L1727.27 188.01L1718.03 188.01Z" fill="#fff" stroke="#000" stroke-width="1.5" />
<path d="M1714.95 222.25L1719.57 213.55L1710.33 213.55Z" fill="#fff" stroke="#000" stroke-width="1.5" />
<path d="M1730.35 230.28L1734.97 221.58L1725.73 221.58Z" fill="#fff" stroke="#000" stroke-width="1.5" />
<path d="M1722.65 212.58L1727.27 203.88L1718.03 203.88Z" fill="#fff" stroke="#000" stroke-width="1.5" />
<path d="M1722.65 244.69L1727.27 236L1718.03 236Z" fill="#fff" stroke="#000" stroke-width="1.5" />
<line x1="1784.3" y1="278.36" x2="1784.3" y2="322.15" stroke="#000" stroke-width="1.6" />
<line x1="1777.8" y1="278.36" x2="1790.8" y2="278.36" stroke="#000" stroke-width="1.6" />
<line x1="1777.8" y1="322.15" x2="1790.8" y2="322.15" stroke="#000" stroke-width="1.6" />
<circle cx="1784.3" cy="272.89" r="4.2" fill="#fff" stroke="#000" stroke-width="1.5" />
<circle cx="1784.3" cy="285.11" r="4.2" fill="#fff" stroke="#000" stroke-width="1.5" />
<circle cx="1784.3" cy="302.45" r="4.2" fill="#fff" stroke="#000" stroke-width="1.5" />
<circle cx="1784.3" cy="312.67" r="4.2" fill="#fff" stroke="#000" stroke-width="1.5" />
<circle cx="1784.3" cy="327.63" r="4.2" fill="#fff" stroke="#000" stroke-width="1.5" />
<line x1="1821.35" y1="262.3" x2="1821.35" y2="287.85" stroke="#000" stroke-width="1.6" />
<line x1="1814.85" y1="262.3" x2="1827.85" y2="262.3" stroke="#000" stroke-width="1.6" />
<line x1="1814.85" y1="287.85" x2="1827.85" y2="287.85" stroke="#000" stroke-width="1.6" />
<rect x="1809.45" y="256.28" width="8.4" height="8.4" fill="#fff" stroke="#000" stroke-width="1.5" />
<rect x="1824.85" y="263.03" width="8.4" height="8.4" fill="#fff" stroke="#000" stroke-width="1.5" />
<rect x="1809.45" y="272.7" width="8.4" height="8.4" fill="#fff" stroke="#000" stroke-width="1.5" />
<rect x="1824.85" y="275.99" width="8.4" height="8.4" fill="#fff" stroke="#000" stroke-width="1.5" />
<rect x="1817.15" y="291.31" width="8.4" height="8.4" fill="#fff" stroke="#000" stroke-width="1.5" />
<line x1="1857.75" y1="219.42" x2="1857.75" y2="268.69" stroke="#000" stroke-width="1.6" />
<line x1="1851.25" y1="219.42" x2="1864.25" y2="219.42" stroke="#000" stroke-width="1.6" />
<line x1="1851.25" y1="268.69" x2="1864.25" y2="268.69" stroke="#000" stroke-width="1.6" />
<path d="M1857.75 199.45L1862.37 208.14L1853.13 208.14Z" fill="#fff" stroke="#000" stroke-width="1.5" />
<path d="M1857.75 233.75L1862.37 242.45L1853.13 242.45Z" fill="#fff" stroke="#000" stroke-width="1.5" />
<path d="M1850.05 251.63L1854.67 260.33L1845.43 260.33Z" fill="#fff" stroke="#000" stroke-width="1.5" />
<path d="M1865.45 257.11L1870.07 265.8L1860.83 265.8Z" fill="#fff" stroke="#000" stroke-width="1.5" />
<path d="M1850.05 259.85L1854.67 268.54L1845.43 268.54Z" fill="#fff" stroke="#000" stroke-width="1.5" />
<line x1="1894.75" y1="164.87" x2="1894.75" y2="201.36" stroke="#000" stroke-width="1.6" />
<line x1="1888.25" y1="164.87" x2="1901.25" y2="164.87" stroke="#000" stroke-width="1.6" />
<line x1="1888.25" y1="201.36" x2="1901.25" y2="201.36" stroke="#000" stroke-width="1.6" />
<path d="M1894.75 166.05L1899.37 157.35L1890.13 157.35Z" fill="#fff" stroke="#000" stroke-width="1.5" />
<path d="M1894.75 176.26L1899.37 167.57L1890.13 167.57Z" fill="#fff" stroke="#000" stroke-width="1.5" />
<path d="M1894.75 185.75L1899.37 177.06L1890.13 177.06Z" fill="#fff" stroke="#000" stroke-width="1.5" />
<path d="M1894.75 195.97L1899.37 187.28L1890.13 187.28Z" fill="#fff" stroke="#000" stroke-width="1.5" />
<path d="M1894.75 213.85L1899.37 205.16L1890.13 205.16Z" fill="#fff" stroke="#000" stroke-width="1.5" />
<line x1="1603.4" y1="178.8" x2="1714.4" y2="178.8" stroke="#000" stroke-width="1.6" />
<text x="1661.5" y="173.3" font-size="19" text-anchor="middle"><tspan font-style="italic">P</tspan> &lt; 0.0001</text>
<line x1="1780.2" y1="150.8" x2="1890.8" y2="150.8" stroke="#000" stroke-width="1.6" />
<text x="1832.3" y="142.6" font-size="19" text-anchor="middle"><tspan font-style="italic">P</tspan> &lt; 0.0001</text>
<line x1="1781.6" y1="194.7" x2="1863.3" y2="194.7" stroke="#000" stroke-width="1.6" />
<text x="1826.9" y="185.9" font-size="19" text-anchor="middle"><tspan font-style="italic">P</tspan> = 0.0001</text>
<circle cx="1605.3" cy="43.9" r="4.2" fill="#fff" stroke="#000" stroke-width="1.5" />
<text x="1636.3" y="52.1" font-size="24">MOI:0</text>
<rect x="1724.2" y="39.7" width="8.4" height="8.4" fill="#fff" stroke="#000" stroke-width="1.5" />
<text x="1759.7" y="52.1" font-size="24">MOI:10</text>
<path d="M1606.7 70.57L1611.32 79.26L1602.08 79.26Z" fill="#fff" stroke="#000" stroke-width="1.5" />
<text x="1638.5" y="82.8" font-size="24">MOI:50</text>
<path d="M1730.9 78.33L1735.52 69.64L1726.28 69.64Z" fill="#fff" stroke="#000" stroke-width="1.5" />
<text x="1762.4" y="82.8" font-size="24">MOI:100</text>
<text x="1517" y="209.8" font-size="25.5" text-anchor="middle" transform="rotate(-90 1517 209.8)">Number of SCC15 cells / field</text>
<text x="2" y="449" font-size="44">c</text>
<text x="216.7" y="471.7" font-size="23" text-anchor="middle">CAL27</text>
<line x1="107.6" y1="479" x2="339" y2="479" stroke="#000" stroke-width="2.2" />
<text x="487.7" y="473" font-size="23" text-anchor="middle">SCC15</text>
<line x1="369" y1="480.6" x2="621" y2="480.6" stroke="#000" stroke-width="2.2" />
<text x="53.4" y="511.6" font-size="23">MOI:</text>
<text x="124.4" y="512.5" font-size="23" text-anchor="middle">0</text>
<text x="190.6" y="512.5" font-size="23" text-anchor="middle">10</text>
<text x="248.5" y="512.5" font-size="23" text-anchor="middle">50</text>
<text x="315" y="512.5" font-size="23" text-anchor="middle">100</text>
<text x="395" y="512.5" font-size="23" text-anchor="middle">0</text>
<text x="461.5" y="512.5" font-size="23" text-anchor="middle">10</text>
<text x="527" y="512.5" font-size="23" text-anchor="middle">50</text>
<text x="586.7" y="512.5" font-size="23" text-anchor="middle">100</text>
<rect x="85.2" y="516.5" width="268.7" height="53.1" fill="#c7c5dc" />
<g filter="url(#blb)">
<rect x="87" y="532" width="58" height="21" rx="16.8" ry="10.5" fill="#050510"/>
<rect x="155" y="537" width="54" height="13" rx="10.4" ry="6.5" fill="#141220"/>
<rect x="223.5" y="537" width="54.9" height="14" rx="11.2" ry="7" fill="#161422"/>
<rect x="292" y="541" width="54" height="10" rx="8" ry="5" fill="#7e7b96"/>
</g>
<rect x="361.7" y="517" width="269.1" height="45.5" fill="#cac8df" />
<g filter="url(#blb)">
<rect x="370" y="530.5" width="56" height="20.5" rx="16.4" ry="10.25" fill="#050510"/>
<rect x="435.3" y="532" width="52.4" height="21" rx="16.8" ry="10.5" fill="#050510"/>
<rect x="499" y="532" width="52" height="24" rx="19.2" ry="12" fill="#050510"/>
<rect x="564" y="541" width="53" height="13" rx="10.4" ry="6.5" fill="#66637d"/>
</g>
<rect x="85.2" y="590.5" width="268.7" height="45.5" fill="#cfcde2" />
<g filter="url(#blb)">
<rect x="93.4" y="609.5" width="50.6" height="10.5" rx="8.4" ry="5.25" fill="#3a384c"/>
<rect x="160.7" y="608" width="48.3" height="13" rx="10.4" ry="6.5" fill="#2a2838"/>
<rect x="224" y="605" width="52.5" height="18" rx="14.4" ry="9" fill="#0e0c18"/>
<rect x="287.7" y="605" width="54.3" height="18" rx="14.4" ry="9" fill="#0e0c18"/>
</g>
<rect x="361.7" y="588.6" width="269.1" height="49.4" fill="#bdbad2" />
<g filter="url(#blb)">
<rect x="366" y="606" width="49" height="16" rx="12.8" ry="8" fill="#100e1a"/>
<rect x="433.5" y="607" width="44.5" height="15" rx="12" ry="7.5" fill="#18161f"/>
<rect x="495" y="601" width="52.5" height="26" rx="20.8" ry="13" fill="#050510"/>
<rect x="558.7" y="601" width="54.3" height="21" rx="16.8" ry="10.5" fill="#050510"/>
</g>
<rect x="85.2" y="664" width="268.7" height="45.7" fill="#d0cee3" />
<g filter="url(#blb)">
<rect x="95.3" y="687" width="52.3" height="14" rx="11.2" ry="7" fill="#0c0a16"/>
<rect x="164.4" y="686.5" width="50.6" height="14" rx="11.2" ry="7" fill="#0c0a16"/>
<rect x="228" y="686" width="50.4" height="14.5" rx="11.6" ry="7.25" fill="#0c0a16"/>
<rect x="289.6" y="686" width="52.4" height="15" rx="12" ry="7.5" fill="#0c0a16"/>
</g>
<rect x="361.7" y="662" width="269.1" height="49.6" fill="#d0cee3" />
<g filter="url(#blb)">
<rect x="371.8" y="679" width="56.2" height="15" rx="12" ry="7.5" fill="#0c0a16"/>
<rect x="439" y="678.5" width="54.3" height="15" rx="12" ry="7.5" fill="#0c0a16"/>
<rect x="504.5" y="678.5" width="54.2" height="15" rx="12" ry="7.5" fill="#0c0a16"/>
<rect x="568" y="677" width="54" height="17" rx="13.6" ry="8.5" fill="#141220"/>
</g>
<text x="24.3" y="548" font-size="21">E-cad</text>
<text x="24.3" y="623.7" font-size="21">N-cad</text>
<text x="6.7" y="698.5" font-size="21">GAPDH</text>
<line x1="632" y1="561.3" x2="641.7" y2="561.3" stroke="#000" stroke-width="2.2" />
<text x="642.5" y="566.3" font-size="13.5">100KDa</text>
<line x1="632" y1="613.7" x2="641.7" y2="613.7" stroke="#000" stroke-width="2.2" />
<text x="642.5" y="618.7" font-size="13.5">130KDa</text>
<line x1="632" y1="703" x2="641.7" y2="703" stroke="#000" stroke-width="2.2" />
<text x="645" y="708" font-size="13.5">35KDa</text>
<text x="688" y="447" font-size="47">d</text>
<line x1="807.5" y1="694.1" x2="807.5" y2="488.15" stroke="#000" stroke-width="1.8" />
<line x1="799" y1="693.2" x2="807.5" y2="693.2" stroke="#000" stroke-width="1.8" />
<text x="798" y="700.4" font-size="20" text-anchor="end">0.0</text>
<line x1="799" y1="624.85" x2="807.5" y2="624.85" stroke="#000" stroke-width="1.8" />
<text x="798" y="632.05" font-size="20" text-anchor="end">0.5</text>
<line x1="799" y1="556.5" x2="807.5" y2="556.5" stroke="#000" stroke-width="1.8" />
<text x="798" y="563.7" font-size="20" text-anchor="end">1.0</text>
<line x1="799" y1="488.15" x2="807.5" y2="488.15" stroke="#000" stroke-width="1.8" />
<text x="798" y="495.35" font-size="20" text-anchor="end">1.5</text>
<line x1="799" y1="693.2" x2="1098" y2="693.2" stroke="#000" stroke-width="1.8" />
<line x1="876.7" y1="693.2" x2="876.7" y2="702.2" stroke="#000" stroke-width="1.8" />
<text x="876.7" y="723.7" font-size="22" text-anchor="middle">CAL27</text>
<line x1="1027" y1="693.2" x2="1027" y2="702.2" stroke="#000" stroke-width="1.8" />
<text x="1027" y="723.7" font-size="22" text-anchor="middle">SCC15</text>
<rect x="818.2" y="556.5" width="21.6" height="136.7" fill="#d4d4d4" />
<rect x="850" y="598.88" width="21.6" height="94.32" fill="#fdbddf" />
<rect x="882" y="605.71" width="22" height="87.49" fill="#f898c8" />
<rect x="914.5" y="635.79" width="22" height="57.41" fill="#f76694" />
<rect x="968.4" y="559.23" width="21.6" height="133.97" fill="#d4d4d4" />
<rect x="1000.7" y="583.84" width="21.9" height="109.36" fill="#fdbddf" />
<rect x="1032.7" y="638.52" width="21.8" height="54.68" fill="#f898c8" />
<rect x="1065" y="654.92" width="21.6" height="38.28" fill="#f76694" />
<line x1="829" y1="553.77" x2="829" y2="559.23" stroke="#000" stroke-width="1.6" />
<line x1="823" y1="553.77" x2="835" y2="553.77" stroke="#000" stroke-width="1.6" />
<line x1="823" y1="559.23" x2="835" y2="559.23" stroke="#000" stroke-width="1.6" />
<circle cx="821.5" cy="558.96" r="3.4" fill="#000" stroke="#000" stroke-width="1.5" />
<circle cx="829" cy="553.63" r="3.4" fill="#000" stroke="#000" stroke-width="1.5" />
<circle cx="836.5" cy="556.77" r="3.4" fill="#000" stroke="#000" stroke-width="1.5" />
<line x1="860.8" y1="585.21" x2="860.8" y2="612.55" stroke="#000" stroke-width="1.6" />
<line x1="854.8" y1="585.21" x2="866.8" y2="585.21" stroke="#000" stroke-width="1.6" />
<line x1="854.8" y1="612.55" x2="866.8" y2="612.55" stroke="#000" stroke-width="1.6" />
<rect x="857.4" y="581.4" width="6.8" height="6.8" fill="#000" stroke="#000" stroke-width="1.5" />
<rect x="857.4" y="597.94" width="6.8" height="6.8" fill="#000" stroke="#000" stroke-width="1.5" />
<rect x="857.4" y="607.37" width="6.8" height="6.8" fill="#000" stroke="#000" stroke-width="1.5" />
<line x1="893" y1="599.56" x2="893" y2="611.86" stroke="#000" stroke-width="1.6" />
<line x1="887" y1="599.56" x2="899" y2="599.56" stroke="#000" stroke-width="1.6" />
<line x1="887" y1="611.86" x2="899" y2="611.86" stroke="#000" stroke-width="1.6" />
<path d="M893 595.1L896.74 602.14L889.26 602.14Z" fill="#000" stroke="#000" stroke-width="1.5" />
<path d="M885.5 606.86L889.24 613.9L881.76 613.9Z" fill="#000" stroke="#000" stroke-width="1.5" />
<path d="M900.5 604.67L904.24 611.71L896.76 611.71Z" fill="#000" stroke="#000" stroke-width="1.5" />
<line x1="925.5" y1="627.17" x2="925.5" y2="644.4" stroke="#000" stroke-width="1.6" />
<line x1="919.5" y1="627.17" x2="931.5" y2="627.17" stroke="#000" stroke-width="1.6" />
<line x1="919.5" y1="644.4" x2="931.5" y2="644.4" stroke="#000" stroke-width="1.6" />
<path d="M918 634.36L921.74 627.33L914.26 627.33Z" fill="#000" stroke="#000" stroke-width="1.5" />
<path d="M933 634.36L936.74 627.33L929.26 627.33Z" fill="#000" stroke="#000" stroke-width="1.5" />
<path d="M925.5 649.26L929.24 642.23L921.76 642.23Z" fill="#000" stroke="#000" stroke-width="1.5" />
<line x1="979.2" y1="555.41" x2="979.2" y2="563.06" stroke="#000" stroke-width="1.6" />
<line x1="973.2" y1="555.41" x2="985.2" y2="555.41" stroke="#000" stroke-width="1.6" />
<line x1="973.2" y1="563.06" x2="985.2" y2="563.06" stroke="#000" stroke-width="1.6" />
<circle cx="971.7" cy="558.55" r="3.4" fill="#000" stroke="#000" stroke-width="1.5" />
<circle cx="979.2" cy="551.99" r="3.4" fill="#000" stroke="#000" stroke-width="1.5" />
<circle cx="986.7" cy="558.55" r="3.4" fill="#000" stroke="#000" stroke-width="1.5" />
<line x1="1011.65" y1="575.64" x2="1011.65" y2="592.04" stroke="#000" stroke-width="1.6" />
<line x1="1005.65" y1="575.64" x2="1017.65" y2="575.64" stroke="#000" stroke-width="1.6" />
<line x1="1005.65" y1="592.04" x2="1017.65" y2="592.04" stroke="#000" stroke-width="1.6" />
<rect x="1000.75" y="574.84" width="6.8" height="6.8" fill="#000" stroke="#000" stroke-width="1.5" />
<rect x="1015.75" y="578.12" width="6.8" height="6.8" fill="#000" stroke="#000" stroke-width="1.5" />
<rect x="1008.25" y="589.87" width="6.8" height="6.8" fill="#000" stroke="#000" stroke-width="1.5" />
<line x1="1043.6" y1="632.78" x2="1043.6" y2="644.26" stroke="#000" stroke-width="1.6" />
<line x1="1037.6" y1="632.78" x2="1049.6" y2="632.78" stroke="#000" stroke-width="1.6" />
<line x1="1037.6" y1="644.26" x2="1049.6" y2="644.26" stroke="#000" stroke-width="1.6" />
<path d="M1043.6 628.73L1047.34 635.77L1039.86 635.77Z" fill="#000" stroke="#000" stroke-width="1.5" />
<path d="M1036.1 639.12L1039.84 646.16L1032.36 646.16Z" fill="#000" stroke="#000" stroke-width="1.5" />
<path d="M1051.1 638.16L1054.84 645.2L1047.36 645.2Z" fill="#000" stroke="#000" stroke-width="1.5" />
<line x1="1075.8" y1="649.18" x2="1075.8" y2="660.67" stroke="#000" stroke-width="1.6" />
<line x1="1069.8" y1="649.18" x2="1081.8" y2="649.18" stroke="#000" stroke-width="1.6" />
<line x1="1069.8" y1="660.67" x2="1081.8" y2="660.67" stroke="#000" stroke-width="1.6" />
<path d="M1075.8 651.45L1079.54 644.41L1072.06 644.41Z" fill="#000" stroke="#000" stroke-width="1.5" />
<path d="M1068.3 661.29L1072.04 654.26L1064.56 654.26Z" fill="#000" stroke="#000" stroke-width="1.5" />
<path d="M1083.3 661.29L1087.04 654.26L1079.56 654.26Z" fill="#000" stroke="#000" stroke-width="1.5" />
<line x1="830.5" y1="517.4" x2="925.5" y2="517.4" stroke="#000" stroke-width="1.6" />
<text x="883.7" y="510" font-size="19" text-anchor="middle"><tspan font-style="italic">P</tspan> &lt; 0.0001</text>
<line x1="829" y1="541.3" x2="891" y2="541.3" stroke="#000" stroke-width="1.6" />
<text x="879" y="534.3" font-size="19" text-anchor="middle"><tspan font-style="italic">P</tspan> &lt; 0.0001</text>
<line x1="980.9" y1="517.4" x2="1075.6" y2="517.4" stroke="#000" stroke-width="1.6" />
<text x="1034.3" y="510" font-size="19" text-anchor="middle"><tspan font-style="italic">P</tspan> &lt; 0.0001</text>
<line x1="980.4" y1="541.3" x2="1042.4" y2="541.3" stroke="#000" stroke-width="1.6" />
<text x="1034.3" y="534.3" font-size="19" text-anchor="middle"><tspan font-style="italic">P</tspan> &lt; 0.0001</text>
<circle cx="815.6" cy="447.5" r="2.9" fill="#000" stroke="#000" stroke-width="1.5" />
<text x="839.3" y="453.4" font-size="17">MOI:0</text>
<rect x="904.4" y="444.6" width="5.8" height="5.8" fill="#000" stroke="#000" stroke-width="1.5" />
<text x="930.3" y="453.4" font-size="17">MOI:10</text>
<path d="M817.4 467.17L820.59 473.17L814.21 473.17Z" fill="#000" stroke="#000" stroke-width="1.5" />
<text x="841.5" y="476" font-size="17">MOI:50</text>
<path d="M908.4 473.33L911.59 467.33L905.21 467.33Z" fill="#000" stroke="#000" stroke-width="1.5" />
<text x="931.4" y="476.7" font-size="17">MOI:100</text>
<text x="755.5" y="585" font-size="19" text-anchor="middle" transform="rotate(-90 755.5 585)">Relative expression of <tspan font-style="italic">CDH1</tspan></text>
<line x1="1168.5" y1="689.6" x2="1168.5" y2="475.31" stroke="#000" stroke-width="1.8" />
<line x1="1160.5" y1="688.7" x2="1168.5" y2="688.7" stroke="#000" stroke-width="1.8" />
<text x="1159.5" y="695.9" font-size="20" text-anchor="end">0</text>
<line x1="1160.5" y1="617.57" x2="1168.5" y2="617.57" stroke="#000" stroke-width="1.8" />
<text x="1159.5" y="624.77" font-size="20" text-anchor="end">1</text>
<line x1="1160.5" y1="546.44" x2="1168.5" y2="546.44" stroke="#000" stroke-width="1.8" />
<text x="1159.5" y="553.64" font-size="20" text-anchor="end">2</text>
<line x1="1160.5" y1="475.31" x2="1168.5" y2="475.31" stroke="#000" stroke-width="1.8" />
<text x="1159.5" y="482.51" font-size="20" text-anchor="end">3</text>
<line x1="1160.6" y1="688.7" x2="1470.6" y2="688.7" stroke="#000" stroke-width="1.8" />
<line x1="1241" y1="688.7" x2="1241" y2="697.7" stroke="#000" stroke-width="1.8" />
<text x="1241" y="720.2" font-size="22" text-anchor="middle">CAL27</text>
<line x1="1397.6" y1="688.7" x2="1397.6" y2="697.7" stroke="#000" stroke-width="1.8" />
<text x="1397.6" y="720.2" font-size="22" text-anchor="middle">SCC15</text>
<rect x="1179.3" y="617.57" width="23.4" height="71.13" fill="#d4d4d4" />
<rect x="1213" y="619.7" width="23" height="69" fill="#fdbddf" />
<rect x="1246.8" y="601.92" width="23" height="86.78" fill="#f898c8" />
<rect x="1280" y="560.67" width="23" height="128.03" fill="#f76694" />
<rect x="1336" y="618.99" width="23.3" height="69.71" fill="#d4d4d4" />
<rect x="1369.8" y="609.75" width="22.9" height="78.95" fill="#fdbddf" />
<rect x="1403" y="577.03" width="23" height="111.67" fill="#f898c8" />
<rect x="1436.8" y="508.74" width="23" height="179.96" fill="#f76694" />
<line x1="1191" y1="615.08" x2="1191" y2="620.06" stroke="#000" stroke-width="1.6" />
<line x1="1185" y1="615.08" x2="1197" y2="615.08" stroke="#000" stroke-width="1.6" />
<line x1="1185" y1="620.06" x2="1197" y2="620.06" stroke="#000" stroke-width="1.6" />
<circle cx="1183.5" cy="619.99" r="3.4" fill="#000" stroke="#000" stroke-width="1.5" />
<circle cx="1191" cy="615.22" r="3.4" fill="#000" stroke="#000" stroke-width="1.5" />
<circle cx="1198.5" cy="617.71" r="3.4" fill="#000" stroke="#000" stroke-width="1.5" />
<line x1="1224.5" y1="617.93" x2="1224.5" y2="621.48" stroke="#000" stroke-width="1.6" />
<line x1="1218.5" y1="617.93" x2="1230.5" y2="617.93" stroke="#000" stroke-width="1.6" />
<line x1="1218.5" y1="621.48" x2="1230.5" y2="621.48" stroke="#000" stroke-width="1.6" />
<rect x="1213.6" y="617.51" width="6.8" height="6.8" fill="#000" stroke="#000" stroke-width="1.5" />
<rect x="1221.1" y="614.17" width="6.8" height="6.8" fill="#000" stroke="#000" stroke-width="1.5" />
<rect x="1228.6" y="616.59" width="6.8" height="6.8" fill="#000" stroke="#000" stroke-width="1.5" />
<line x1="1258.3" y1="600.14" x2="1258.3" y2="603.7" stroke="#000" stroke-width="1.6" />
<line x1="1252.3" y1="600.14" x2="1264.3" y2="600.14" stroke="#000" stroke-width="1.6" />
<line x1="1252.3" y1="603.7" x2="1264.3" y2="603.7" stroke="#000" stroke-width="1.6" />
<path d="M1250.8 600.29L1254.54 607.33L1247.06 607.33Z" fill="#000" stroke="#000" stroke-width="1.5" />
<path d="M1258.3 596.66L1262.04 603.7L1254.56 603.7Z" fill="#000" stroke="#000" stroke-width="1.5" />
<path d="M1265.8 598.37L1269.54 605.41L1262.06 605.41Z" fill="#000" stroke="#000" stroke-width="1.5" />
<line x1="1291.5" y1="559.46" x2="1291.5" y2="561.88" stroke="#000" stroke-width="1.6" />
<line x1="1285.5" y1="559.46" x2="1297.5" y2="559.46" stroke="#000" stroke-width="1.6" />
<line x1="1285.5" y1="561.88" x2="1297.5" y2="561.88" stroke="#000" stroke-width="1.6" />
<path d="M1284 564.93L1287.74 557.89L1280.26 557.89Z" fill="#000" stroke="#000" stroke-width="1.5" />
<path d="M1291.5 562.87L1295.24 555.83L1287.76 555.83Z" fill="#000" stroke="#000" stroke-width="1.5" />
<path d="M1299 564.93L1302.74 557.89L1295.26 557.89Z" fill="#000" stroke="#000" stroke-width="1.5" />
<line x1="1347.65" y1="615.08" x2="1347.65" y2="622.9" stroke="#000" stroke-width="1.6" />
<line x1="1341.65" y1="615.08" x2="1353.65" y2="615.08" stroke="#000" stroke-width="1.6" />
<line x1="1341.65" y1="622.9" x2="1353.65" y2="622.9" stroke="#000" stroke-width="1.6" />
<circle cx="1340.15" cy="620.42" r="3.4" fill="#000" stroke="#000" stroke-width="1.5" />
<circle cx="1347.65" cy="613.3" r="3.4" fill="#000" stroke="#000" stroke-width="1.5" />
<circle cx="1355.15" cy="619.7" r="3.4" fill="#000" stroke="#000" stroke-width="1.5" />
<line x1="1381.25" y1="602.28" x2="1381.25" y2="617.21" stroke="#000" stroke-width="1.6" />
<line x1="1375.25" y1="602.28" x2="1387.25" y2="602.28" stroke="#000" stroke-width="1.6" />
<line x1="1375.25" y1="617.21" x2="1387.25" y2="617.21" stroke="#000" stroke-width="1.6" />
<rect x="1377.85" y="599.23" width="6.8" height="6.8" fill="#000" stroke="#000" stroke-width="1.5" />
<rect x="1377.85" y="605.63" width="6.8" height="6.8" fill="#000" stroke="#000" stroke-width="1.5" />
<rect x="1377.85" y="614.17" width="6.8" height="6.8" fill="#000" stroke="#000" stroke-width="1.5" />
<line x1="1414.5" y1="574.89" x2="1414.5" y2="579.16" stroke="#000" stroke-width="1.6" />
<line x1="1408.5" y1="574.89" x2="1420.5" y2="574.89" stroke="#000" stroke-width="1.6" />
<line x1="1408.5" y1="579.16" x2="1420.5" y2="579.16" stroke="#000" stroke-width="1.6" />
<path d="M1407 575.82L1410.74 582.86L1403.26 582.86Z" fill="#000" stroke="#000" stroke-width="1.5" />
<path d="M1414.5 571.69L1418.24 578.73L1410.76 578.73Z" fill="#000" stroke="#000" stroke-width="1.5" />
<path d="M1422 572.4L1425.74 579.44L1418.26 579.44Z" fill="#000" stroke="#000" stroke-width="1.5" />
<line x1="1448.3" y1="496.65" x2="1448.3" y2="520.83" stroke="#000" stroke-width="1.6" />
<line x1="1442.3" y1="496.65" x2="1454.3" y2="496.65" stroke="#000" stroke-width="1.6" />
<line x1="1442.3" y1="520.83" x2="1454.3" y2="520.83" stroke="#000" stroke-width="1.6" />
<path d="M1448.3 499.85L1452.04 492.81L1444.56 492.81Z" fill="#000" stroke="#000" stroke-width="1.5" />
<path d="M1448.3 513.36L1452.04 506.32L1444.56 506.32Z" fill="#000" stroke="#000" stroke-width="1.5" />
<path d="M1448.3 524.03L1452.04 516.99L1444.56 516.99Z" fill="#000" stroke="#000" stroke-width="1.5" />
<line x1="1193" y1="543.2" x2="1291.7" y2="543.2" stroke="#000" stroke-width="1.6" />
<text x="1240.3" y="537.4" font-size="19" text-anchor="middle"><tspan font-style="italic">P</tspan> &lt; 0.0001</text>
<line x1="1191" y1="586.4" x2="1256" y2="586.4" stroke="#000" stroke-width="1.6" />
<text x="1225.3" y="579.7" font-size="19" text-anchor="middle"><tspan font-style="italic">P</tspan> = 0.0099</text>
<line x1="1350.6" y1="487.9" x2="1449" y2="487.9" stroke="#000" stroke-width="1.6" />
<text x="1408.4" y="483.7" font-size="19" text-anchor="middle"><tspan font-style="italic">P</tspan> &lt; 0.0001</text>
<line x1="1348.5" y1="563" x2="1413.6" y2="563" stroke="#000" stroke-width="1.6" />
<text x="1378.5" y="555.7" font-size="19" text-anchor="middle"><tspan font-style="italic">P</tspan> &lt; 0.0001</text>
<circle cx="1176.8" cy="441.5" r="2.9" fill="#000" stroke="#000" stroke-width="1.5" />
<text x="1201.3" y="447.8" font-size="17">MOI:0</text>
<rect x="1268.7" y="436.9" width="5.8" height="5.8" fill="#000" stroke="#000" stroke-width="1.5" />
<text x="1296.3" y="445.5" font-size="17">MOI:10</text>
<path d="M1175.6 458.47L1178.79 464.47L1172.41 464.47Z" fill="#000" stroke="#000" stroke-width="1.5" />
<text x="1200.6" y="467.6" font-size="17">MOI:50</text>
<path d="M1272.5 463.33L1275.69 457.33L1269.31 457.33Z" fill="#000" stroke="#000" stroke-width="1.5" />
<text x="1297.3" y="466.4" font-size="17">MOI:100</text>
<text x="1134" y="577.5" font-size="19" text-anchor="middle" transform="rotate(-90 1134 577.5)">Relative expression of <tspan font-style="italic">CDH2</tspan></text>
<text x="1484" y="447" font-size="47">e</text>
<g transform="translate(1438.64 499.28) scale(0.24 0.2)">
<path d="M160,625 C165,560 200,530 260,540 C330,552 400,560 460,540 C440,480 470,400 520,350 C560,310 620,300 680,300 C700,270 720,255 745,262 C760,270 760,290 750,300 C800,295 850,298 885,308 C880,330 860,345 840,350 C810,370 780,390 760,410 C750,450 760,500 765,545 C770,555 760,560 740,555 C720,520 710,490 700,470 C690,500 690,560 700,600 C705,615 690,615 680,605 C650,560 620,540 600,540 C610,560 650,580 650,595 C620,600 580,590 560,575 C540,560 520,545 490,545 C430,555 330,560 260,555 C210,550 175,570 165,625 Z" fill="#e5b3ae" stroke="#d49a95" stroke-width="3"/>
<path d="M700,300 C690,280 700,262 720,258 C740,262 745,290 735,310 Z" fill="#d99a96"/>
<circle cx="800" cy="322" r="7" fill="#a86060"/>
<path d="M520,360 C560,420 600,440 640,430 M560,330 C600,380 640,400 690,390" fill="none" stroke="#d6a09b" stroke-width="4"/>
</g>
<circle cx="1641" cy="573" r="6.5" fill="none" stroke="#000" stroke-width="1.3" />
<line x1="1636" y1="578" x2="1635" y2="605" stroke="#000" stroke-width="1.3" />
<line x1="1645" y1="578" x2="1659" y2="606" stroke="#000" stroke-width="1.3" />
<ellipse cx="1648" cy="607" rx="13.5" ry="7" fill="#f6a58f" />
<g transform="translate(1660 600) rotate(-42)"><rect x="4" y="-3.2" width="16" height="6.4" fill="#e8327a" stroke="#5a3520" stroke-width="1.4"/><rect x="20" y="-3.2" width="14" height="6.4" fill="#fff" stroke="#5a3520" stroke-width="1.4"/><line x1="34" y1="0" x2="46" y2="0" stroke="#5a3520" stroke-width="2.5"/><line x1="34" y1="-6" x2="34" y2="6" stroke="#5a3520" stroke-width="2.5"/><line x1="46" y1="-6" x2="46" y2="6" stroke="#5a3520" stroke-width="2.5"/><rect x="-2" y="-2" width="6" height="4" fill="#e06a30"/><line x1="-10" y1="0" x2="-2" y2="0" stroke="#999" stroke-width="1.2"/></g>
<rect x="1693.8" y="497" width="255.2" height="30" fill="url(#gg)" />
<rect x="1693.8" y="537.5" width="255.2" height="30" fill="url(#gb)" />
<text x="1694" y="517" font-size="15.6">Luc-CAL27 cells (5x10<tspan font-size="10" dy="-6">6</tspan><tspan dy="6"> )</tspan></text>
<text x="1691" y="558.3" font-size="15.6">Luc-CAL27 cells mixed with Pm (1:1)</text>
<text x="1519" y="534.6" font-size="19.45">BALB/c nude mice</text>
<line x1="1693.8" y1="642.4" x2="1946" y2="642.4" stroke="#000" stroke-width="4" />
<line x1="1693.8" y1="629.6" x2="1693.8" y2="654" stroke="#000" stroke-width="3.5" />
<line x1="1946" y1="629.6" x2="1946" y2="655" stroke="#000" stroke-width="3.5" />
<line x1="1693.8" y1="613" x2="1693.8" y2="627" stroke="#000" stroke-width="1.8" />
<path d="M1686.8 621 L1693.8 628 L1700.8 621" fill="none" stroke="#000" stroke-width="1.8" />
<line x1="1946" y1="613" x2="1946" y2="627" stroke="#000" stroke-width="1.8" />
<path d="M1939 621 L1946 628 L1953 621" fill="none" stroke="#000" stroke-width="1.8" />
<text x="1677.3" y="609.6" font-size="15.5">Tumor cell injection</text>
<text x="1971" y="594.8" font-size="15.5" text-anchor="end">Tumor and Lymph</text>
<text x="1969" y="613" font-size="15.5" text-anchor="end">nodes harvested</text>
<text x="1693" y="678" font-size="21" text-anchor="middle">0</text>
<text x="1946" y="678" font-size="21" text-anchor="middle">3</text>
<text x="1704.7" y="671" font-size="19.5">Post-injection time (weeks)</text>
<text x="6" y="775" font-size="47">f</text>
<rect x="67" y="795.2" width="284.6" height="76.4" fill="#73726c" />
<rect x="67" y="871.6" width="284.6" height="134.1" fill="url(#fpm)" />
<rect x="67" y="795.2" width="284.6" height="210.5" filter="url(#grain2)" opacity="0.9"/>
<rect x="67" y="1005.7" width="284.6" height="22" fill="#c8c8c0" />
<rect x="67" y="1027.7" width="284.6" height="29.7" fill="#7c7b76" />
<line x1="68.5" y1="1005.7" x2="68.5" y2="1034.3" stroke="#1e1e1c" stroke-width="1.5" />
<line x1="72.42" y1="1005.7" x2="72.42" y2="1023.3" stroke="#1e1e1c" stroke-width="1.5" />
<line x1="76.34" y1="1005.7" x2="76.34" y2="1023.3" stroke="#1e1e1c" stroke-width="1.5" />
<line x1="80.26" y1="1005.7" x2="80.26" y2="1023.3" stroke="#1e1e1c" stroke-width="1.5" />
<line x1="84.18" y1="1005.7" x2="84.18" y2="1023.3" stroke="#1e1e1c" stroke-width="1.5" />
<line x1="88.1" y1="1005.7" x2="88.1" y2="1025.5" stroke="#1e1e1c" stroke-width="1.5" />
<line x1="92.02" y1="1005.7" x2="92.02" y2="1023.3" stroke="#1e1e1c" stroke-width="1.5" />
<line x1="95.94" y1="1005.7" x2="95.94" y2="1023.3" stroke="#1e1e1c" stroke-width="1.5" />
<line x1="99.86" y1="1005.7" x2="99.86" y2="1023.3" stroke="#1e1e1c" stroke-width="1.5" />
<line x1="103.78" y1="1005.7" x2="103.78" y2="1023.3" stroke="#1e1e1c" stroke-width="1.5" />
<line x1="107.7" y1="1005.7" x2="107.7" y2="1034.3" stroke="#1e1e1c" stroke-width="1.5" />
<line x1="111.62" y1="1005.7" x2="111.62" y2="1023.3" stroke="#1e1e1c" stroke-width="1.5" />
<line x1="115.54" y1="1005.7" x2="115.54" y2="1023.3" stroke="#1e1e1c" stroke-width="1.5" />
<line x1="119.46" y1="1005.7" x2="119.46" y2="1023.3" stroke="#1e1e1c" stroke-width="1.5" />
<line x1="123.38" y1="1005.7" x2="123.38" y2="1023.3" stroke="#1e1e1c" stroke-width="1.5" />
<line x1="127.3" y1="1005.7" x2="127.3" y2="1025.5" stroke="#1e1e1c" stroke-width="1.5" />
<line x1="131.22" y1="1005.7" x2="131.22" y2="1023.3" stroke="#1e1e1c" stroke-width="1.5" />
<line x1="135.14" y1="1005.7" x2="135.14" y2="1023.3" stroke="#1e1e1c" stroke-width="1.5" />
<line x1="139.06" y1="1005.7" x2="139.06" y2="1023.3" stroke="#1e1e1c" stroke-width="1.5" />
<line x1="142.98" y1="1005.7" x2="142.98" y2="1023.3" stroke="#1e1e1c" stroke-width="1.5" />
<line x1="146.9" y1="1005.7" x2="146.9" y2="1034.3" stroke="#1e1e1c" stroke-width="1.5" />
<line x1="150.82" y1="1005.7" x2="150.82" y2="1023.3" stroke="#1e1e1c" stroke-width="1.5" />
<line x1="154.74" y1="1005.7" x2="154.74" y2="1023.3" stroke="#1e1e1c" stroke-width="1.5" />
<line x1="158.66" y1="1005.7" x2="158.66" y2="1023.3" stroke="#1e1e1c" stroke-width="1.5" />
<line x1="162.58" y1="1005.7" x2="162.58" y2="1023.3" stroke="#1e1e1c" stroke-width="1.5" />
<line x1="166.5" y1="1005.7" x2="166.5" y2="1025.5" stroke="#1e1e1c" stroke-width="1.5" />
<line x1="170.42" y1="1005.7" x2="170.42" y2="1023.3" stroke="#1e1e1c" stroke-width="1.5" />
<line x1="174.34" y1="1005.7" x2="174.34" y2="1023.3" stroke="#1e1e1c" stroke-width="1.5" />
<line x1="178.26" y1="1005.7" x2="178.26" y2="1023.3" stroke="#1e1e1c" stroke-width="1.5" />
<line x1="182.18" y1="1005.7" x2="182.18" y2="1023.3" stroke="#1e1e1c" stroke-width="1.5" />
<line x1="186.1" y1="1005.7" x2="186.1" y2="1034.3" stroke="#1e1e1c" stroke-width="1.5" />
<line x1="190.02" y1="1005.7" x2="190.02" y2="1023.3" stroke="#1e1e1c" stroke-width="1.5" />
<line x1="193.94" y1="1005.7" x2="193.94" y2="1023.3" stroke="#1e1e1c" stroke-width="1.5" />
<line x1="197.86" y1="1005.7" x2="197.86" y2="1023.3" stroke="#1e1e1c" stroke-width="1.5" />
<line x1="201.78" y1="1005.7" x2="201.78" y2="1023.3" stroke="#1e1e1c" stroke-width="1.5" />
<line x1="205.7" y1="1005.7" x2="205.7" y2="1025.5" stroke="#1e1e1c" stroke-width="1.5" />
<line x1="209.62" y1="1005.7" x2="209.62" y2="1023.3" stroke="#1e1e1c" stroke-width="1.5" />
<line x1="213.54" y1="1005.7" x2="213.54" y2="1023.3" stroke="#1e1e1c" stroke-width="1.5" />
<line x1="217.46" y1="1005.7" x2="217.46" y2="1023.3" stroke="#1e1e1c" stroke-width="1.5" />
<line x1="221.38" y1="1005.7" x2="221.38" y2="1023.3" stroke="#1e1e1c" stroke-width="1.5" />
<line x1="225.3" y1="1005.7" x2="225.3" y2="1034.3" stroke="#1e1e1c" stroke-width="1.5" />
<line x1="229.22" y1="1005.7" x2="229.22" y2="1023.3" stroke="#1e1e1c" stroke-width="1.5" />
<line x1="233.14" y1="1005.7" x2="233.14" y2="1023.3" stroke="#1e1e1c" stroke-width="1.5" />
<line x1="237.06" y1="1005.7" x2="237.06" y2="1023.3" stroke="#1e1e1c" stroke-width="1.5" />
<line x1="240.98" y1="1005.7" x2="240.98" y2="1023.3" stroke="#1e1e1c" stroke-width="1.5" />
<line x1="244.9" y1="1005.7" x2="244.9" y2="1025.5" stroke="#1e1e1c" stroke-width="1.5" />
<line x1="248.82" y1="1005.7" x2="248.82" y2="1023.3" stroke="#1e1e1c" stroke-width="1.5" />
<line x1="252.74" y1="1005.7" x2="252.74" y2="1023.3" stroke="#1e1e1c" stroke-width="1.5" />
<line x1="256.66" y1="1005.7" x2="256.66" y2="1023.3" stroke="#1e1e1c" stroke-width="1.5" />
<line x1="260.58" y1="1005.7" x2="260.58" y2="1023.3" stroke="#1e1e1c" stroke-width="1.5" />
<line x1="264.5" y1="1005.7" x2="264.5" y2="1034.3" stroke="#1e1e1c" stroke-width="1.5" />
<line x1="268.42" y1="1005.7" x2="268.42" y2="1023.3" stroke="#1e1e1c" stroke-width="1.5" />
<line x1="272.34" y1="1005.7" x2="272.34" y2="1023.3" stroke="#1e1e1c" stroke-width="1.5" />
<line x1="276.26" y1="1005.7" x2="276.26" y2="1023.3" stroke="#1e1e1c" stroke-width="1.5" />
<line x1="280.18" y1="1005.7" x2="280.18" y2="1023.3" stroke="#1e1e1c" stroke-width="1.5" />
<line x1="284.1" y1="1005.7" x2="284.1" y2="1025.5" stroke="#1e1e1c" stroke-width="1.5" />
<line x1="288.02" y1="1005.7" x2="288.02" y2="1023.3" stroke="#1e1e1c" stroke-width="1.5" />
<line x1="291.94" y1="1005.7" x2="291.94" y2="1023.3" stroke="#1e1e1c" stroke-width="1.5" />
<line x1="295.86" y1="1005.7" x2="295.86" y2="1023.3" stroke="#1e1e1c" stroke-width="1.5" />
<line x1="299.78" y1="1005.7" x2="299.78" y2="1023.3" stroke="#1e1e1c" stroke-width="1.5" />
<line x1="303.7" y1="1005.7" x2="303.7" y2="1034.3" stroke="#1e1e1c" stroke-width="1.5" />
<line x1="307.62" y1="1005.7" x2="307.62" y2="1023.3" stroke="#1e1e1c" stroke-width="1.5" />
<line x1="311.54" y1="1005.7" x2="311.54" y2="1023.3" stroke="#1e1e1c" stroke-width="1.5" />
<line x1="315.46" y1="1005.7" x2="315.46" y2="1023.3" stroke="#1e1e1c" stroke-width="1.5" />
<line x1="319.38" y1="1005.7" x2="319.38" y2="1023.3" stroke="#1e1e1c" stroke-width="1.5" />
<line x1="323.3" y1="1005.7" x2="323.3" y2="1025.5" stroke="#1e1e1c" stroke-width="1.5" />
<line x1="327.22" y1="1005.7" x2="327.22" y2="1023.3" stroke="#1e1e1c" stroke-width="1.5" />
<line x1="331.14" y1="1005.7" x2="331.14" y2="1023.3" stroke="#1e1e1c" stroke-width="1.5" />
<line x1="335.06" y1="1005.7" x2="335.06" y2="1023.3" stroke="#1e1e1c" stroke-width="1.5" />
<line x1="338.98" y1="1005.7" x2="338.98" y2="1023.3" stroke="#1e1e1c" stroke-width="1.5" />
<line x1="342.9" y1="1005.7" x2="342.9" y2="1034.3" stroke="#1e1e1c" stroke-width="1.5" />
<line x1="346.82" y1="1005.7" x2="346.82" y2="1023.3" stroke="#1e1e1c" stroke-width="1.5" />
<line x1="350.74" y1="1005.7" x2="350.74" y2="1023.3" stroke="#1e1e1c" stroke-width="1.5" />
<text x="147.7" y="1047" font-size="12.5" text-anchor="middle" fill="#2e2e2c">3</text>
<text x="187.3" y="1047" font-size="12.5" text-anchor="middle" fill="#2e2e2c">4</text>
<text x="226.4" y="1047" font-size="12.5" text-anchor="middle" fill="#2e2e2c">5</text>
<text x="265.3" y="1047" font-size="12.5" text-anchor="middle" fill="#2e2e2c">6</text>
<text x="303.3" y="1047" font-size="12.5" text-anchor="middle" fill="#2e2e2c">7</text>
<text x="342.4" y="1047" font-size="12.5" text-anchor="middle" fill="#2e2e2c">8</text>
<text x="107.7" y="1047" font-size="12.5" text-anchor="middle" fill="#2e2e2c">2</text>
<text x="79" y="1047" font-size="11.5" text-anchor="middle" fill="#2e2e2c">1 cm</text>
<line x1="67" y1="1005.7" x2="351.6" y2="1005.7" stroke="#222" stroke-width="1.2" />
<path d="M77.8 810 C80.8 806 90.8 806 92.8 812 L94.8 842 L78.8 842 Z" fill="#c9808f" />
<ellipse cx="86.8" cy="846.5" rx="11.2" ry="10.3" fill="#e3a9a9" stroke="#fff" stroke-width="2.2" stroke-dasharray="3.2 2.2"/>
<path d="M118 810 C121 806 131 806 133 812 L131 842 L115 842 Z" fill="#c9808f" />
<ellipse cx="123" cy="846.5" rx="11.2" ry="10.3" fill="#e3a9a9" stroke="#fff" stroke-width="2.2" stroke-dasharray="3.2 2.2"/>
<path d="M151.6 810 C154.6 806 164.6 806 166.6 812 L170.6 842 L154.6 842 Z" fill="#c9808f" />
<ellipse cx="162.6" cy="846.5" rx="11.2" ry="10.3" fill="#e3a9a9" stroke="#fff" stroke-width="2.2" stroke-dasharray="3.2 2.2"/>
<path d="M199.3 810 C202.3 806 212.3 806 214.3 812 L211.3 842 L195.3 842 Z" fill="#c9808f" />
<ellipse cx="203.3" cy="846.5" rx="11.2" ry="10.3" fill="#e3a9a9" stroke="#fff" stroke-width="2.2" stroke-dasharray="3.2 2.2"/>
<path d="M228.3 810 C231.3 806 241.3 806 243.3 812 L244.3 842 L228.3 842 Z" fill="#c9808f" />
<ellipse cx="236.3" cy="846.5" rx="11.2" ry="10.3" fill="#e3a9a9" stroke="#fff" stroke-width="2.2" stroke-dasharray="3.2 2.2"/>
<path d="M262 810 C265 806 275 806 277 812 L275 842 L259 842 Z" fill="#c9808f" />
<ellipse cx="267" cy="846.5" rx="11.2" ry="10.3" fill="#e3a9a9" stroke="#fff" stroke-width="2.2" stroke-dasharray="3.2 2.2"/>
<path d="M297.3 810 C300.3 806 310.3 806 312.3 812 L311.3 842 L295.3 842 Z" fill="#c9808f" />
<ellipse cx="303.3" cy="846.5" rx="11.2" ry="10.3" fill="#e3a9a9" stroke="#fff" stroke-width="2.2" stroke-dasharray="3.2 2.2"/>
<path d="M86.5 889 C90.5 884 99.5 884 103.5 889 L102.5 918 L86.5 918 Z" fill="#d2818b" />
<ellipse cx="94.5" cy="925.5" rx="11.5" ry="13" fill="#eaa9a8" stroke="#fff" stroke-width="2.2" stroke-dasharray="3.2 2.2"/>
<path d="M131.6 889 C135.6 884 144.6 884 148.6 889 L147.6 918 L131.6 918 Z" fill="#d2818b" />
<ellipse cx="139.6" cy="925.5" rx="11.5" ry="13" fill="#eaa9a8" stroke="#fff" stroke-width="2.2" stroke-dasharray="3.2 2.2"/>
<path d="M169.6 889 C173.6 884 182.6 884 186.6 889 L185.6 918 L169.6 918 Z" fill="#d2818b" />
<ellipse cx="177.6" cy="925.5" rx="11.5" ry="13" fill="#eaa9a8" stroke="#fff" stroke-width="2.2" stroke-dasharray="3.2 2.2"/>
<path d="M208.5 889 C212.5 884 221.5 884 225.5 889 L224.5 918 L208.5 918 Z" fill="#d2818b" />
<ellipse cx="216.5" cy="925.5" rx="11.5" ry="13" fill="#eaa9a8" stroke="#fff" stroke-width="2.2" stroke-dasharray="3.2 2.2"/>
<path d="M247 889 C251 884 260 884 264 889 L263 918 L247 918 Z" fill="#d2818b" />
<ellipse cx="255" cy="925.5" rx="11.5" ry="13" fill="#eaa9a8" stroke="#fff" stroke-width="2.2" stroke-dasharray="3.2 2.2"/>
<path d="M286.5 889 C290.5 884 299.5 884 303.5 889 L302.5 918 L286.5 918 Z" fill="#d2818b" />
<ellipse cx="294.5" cy="925.5" rx="11.5" ry="13" fill="#eaa9a8" stroke="#fff" stroke-width="2.2" stroke-dasharray="3.2 2.2"/>
<path d="M321.7 889 C325.7 884 334.7 884 338.7 889 L337.7 918 L321.7 918 Z" fill="#d2818b" />
<ellipse cx="329.7" cy="925.5" rx="11.5" ry="13" fill="#eaa9a8" stroke="#fff" stroke-width="2.2" stroke-dasharray="3.2 2.2"/>
<ellipse cx="118" cy="888" rx="11" ry="8" fill="#232220" />
<text x="52.8" y="832" font-size="27.5" text-anchor="middle" transform="rotate(-90 52.8 832)">Ctrl</text>
<text x="52.8" y="928" font-size="27.5" text-anchor="middle" transform="rotate(-90 52.8 928)">Pm</text>
<line x1="127.5" y1="1297.6" x2="127.5" y2="1086.81" stroke="#000" stroke-width="1.8" />
<line x1="118.7" y1="1296.7" x2="127.5" y2="1296.7" stroke="#000" stroke-width="1.8" />
<text x="117.7" y="1304.08" font-size="20.5" text-anchor="end">0</text>
<line x1="118.7" y1="1226.74" x2="127.5" y2="1226.74" stroke="#000" stroke-width="1.8" />
<text x="117.7" y="1234.12" font-size="20.5" text-anchor="end">50</text>
<line x1="118.7" y1="1156.77" x2="127.5" y2="1156.77" stroke="#000" stroke-width="1.8" />
<text x="117.7" y="1164.15" font-size="20.5" text-anchor="end">100</text>
<line x1="118.7" y1="1086.81" x2="127.5" y2="1086.81" stroke="#000" stroke-width="1.8" />
<text x="117.7" y="1094.19" font-size="20.5" text-anchor="end">150</text>
<line x1="118.7" y1="1296.7" x2="337.4" y2="1296.7" stroke="#000" stroke-width="1.8" />
<rect x="157" y="1228.13" width="60" height="68.57" fill="#d4d4d4" />
<rect x="246.8" y="1170.76" width="59.8" height="125.94" fill="#f76694" />
<line x1="186.8" y1="1204.35" x2="186.8" y2="1252.76" stroke="#000" stroke-width="2" />
<line x1="172.3" y1="1204.35" x2="201.3" y2="1204.35" stroke="#000" stroke-width="2" />
<line x1="172.3" y1="1252.76" x2="201.3" y2="1252.76" stroke="#000" stroke-width="2" />
<line x1="277" y1="1137.18" x2="277" y2="1206.03" stroke="#000" stroke-width="2" />
<line x1="262.5" y1="1137.18" x2="291.5" y2="1137.18" stroke="#000" stroke-width="2" />
<line x1="262.5" y1="1206.03" x2="291.5" y2="1206.03" stroke="#000" stroke-width="2" />
<circle cx="186.8" cy="1184.62" r="4.4" fill="#000" />
<circle cx="186.8" cy="1213.72" r="4.4" fill="#000" />
<circle cx="178.5" cy="1223.66" r="4.4" fill="#000" />
<circle cx="195.6" cy="1229.81" r="4.4" fill="#000" />
<circle cx="186.8" cy="1240.87" r="4.4" fill="#000" />
<circle cx="195.6" cy="1250.8" r="4.4" fill="#000" />
<circle cx="178.5" cy="1255.98" r="4.4" fill="#000" />
<rect x="272.6" y="1123.12" width="8.8" height="8.8" fill="#000" />
<rect x="272.6" y="1137.68" width="8.8" height="8.8" fill="#000" />
<rect x="263.7" y="1151.25" width="8.8" height="8.8" fill="#000" />
<rect x="280.9" y="1157.41" width="8.8" height="8.8" fill="#000" />
<rect x="272.6" y="1182.59" width="8.8" height="8.8" fill="#000" />
<rect x="272.6" y="1204" width="8.8" height="8.8" fill="#000" />
<rect x="272.6" y="1216.74" width="8.8" height="8.8" fill="#000" />
<line x1="186.8" y1="1296.7" x2="186.8" y2="1304.7" stroke="#000" stroke-width="1.8" />
<text x="189.5" y="1323.6" font-size="24" text-anchor="end" transform="rotate(-45 189.5 1323.6)">Ctrl</text>
<line x1="277" y1="1296.7" x2="277" y2="1304.7" stroke="#000" stroke-width="1.8" />
<text x="285.3" y="1315.7" font-size="24" text-anchor="end" transform="rotate(-45 285.3 1315.7)">Pm</text>
<line x1="190" y1="1110.5" x2="276.5" y2="1110.5" stroke="#000" stroke-width="2.4" />
<text x="233" y="1101.8" font-size="23" text-anchor="middle"><tspan font-style="italic">P</tspan> = 0.0040</text>
<text x="71" y="1190" font-size="23.4" text-anchor="middle" transform="rotate(-90 71 1190)">Volume of tumor(mm<tspan font-size="16" dy="-9">3</tspan><tspan dy="9">)</tspan></text>
<text x="373" y="768" font-size="47">g</text>
<rect x="428" y="793" width="316.8" height="193" fill="url(#gctl)" />
<rect x="428" y="986" width="316.8" height="240.5" fill="#43433b" />
<rect x="428" y="793" width="316.8" height="433.5" filter="url(#grain2)" opacity="0.7"/>
<ellipse cx="453.7" cy="823.44" rx="11.63" ry="14.06" fill="#1e1d1b" opacity="0.7"/>
<ellipse cx="453.7" cy="823.44" rx="9.13" ry="11.56" fill="#e6dcda" />
<ellipse cx="498.42" cy="826.48" rx="14.67" ry="10.11" fill="#1e1d1b" opacity="0.7"/>
<ellipse cx="498.42" cy="826.48" rx="12.17" ry="7.61" fill="#e6dcda" />
<ellipse cx="541.02" cy="824.96" rx="13.15" ry="14.06" fill="#1e1d1b" opacity="0.7"/>
<ellipse cx="541.02" cy="824.96" rx="10.65" ry="11.56" fill="#e6dcda" />
<ellipse cx="579.65" cy="828.91" rx="12.54" ry="14.67" fill="#1e1d1b" opacity="0.7"/>
<ellipse cx="579.65" cy="828.91" rx="10.04" ry="12.17" fill="#e6dcda" />
<ellipse cx="617.99" cy="833.17" rx="14.06" ry="13.15" fill="#1e1d1b" opacity="0.7"/>
<ellipse cx="617.99" cy="833.17" rx="11.56" ry="10.65" fill="#e6dcda" />
<ellipse cx="658.14" cy="834.09" rx="14.67" ry="13.15" fill="#1e1d1b" opacity="0.7"/>
<ellipse cx="658.14" cy="834.09" rx="12.17" ry="10.65" fill="#e6dcda" />
<ellipse cx="700.13" cy="835.61" rx="14.67" ry="15.28" fill="#1e1d1b" opacity="0.7"/>
<ellipse cx="700.13" cy="835.61" rx="12.17" ry="12.78" fill="#e6dcda" />
<ellipse cx="453.7" cy="869.07" rx="13.15" ry="12.54" fill="#1e1d1b" opacity="0.7"/>
<ellipse cx="453.7" cy="869.07" rx="10.65" ry="10.04" fill="#e6dcda" />
<ellipse cx="493.25" cy="871.2" rx="10.11" ry="8.58" fill="#1e1d1b" opacity="0.7"/>
<ellipse cx="493.25" cy="871.2" rx="7.61" ry="6.08" fill="#e6dcda" />
<ellipse cx="537.97" cy="872.11" rx="10.11" ry="11.63" fill="#1e1d1b" opacity="0.7"/>
<ellipse cx="537.97" cy="872.11" rx="7.61" ry="9.13" fill="#e6dcda" />
<ellipse cx="579.04" cy="873.64" rx="11.63" ry="13.15" fill="#1e1d1b" opacity="0.7"/>
<ellipse cx="579.04" cy="873.64" rx="9.13" ry="10.65" fill="#e6dcda" />
<ellipse cx="625.29" cy="875.77" rx="13.15" ry="12.24" fill="#1e1d1b" opacity="0.7"/>
<ellipse cx="625.29" cy="875.77" rx="10.65" ry="9.74" fill="#e6dcda" />
<ellipse cx="662.71" cy="883.68" rx="13.15" ry="12.54" fill="#1e1d1b" opacity="0.7"/>
<ellipse cx="662.71" cy="883.68" rx="10.65" ry="10.04" fill="#e6dcda" />
<ellipse cx="703.17" cy="887.33" rx="14.06" ry="14.67" fill="#1e1d1b" opacity="0.7"/>
<ellipse cx="703.17" cy="887.33" rx="11.56" ry="12.17" fill="#e6dcda" />
<ellipse cx="453.7" cy="904.06" rx="15.28" ry="10.11" fill="#1e1d1b" opacity="0.7"/>
<ellipse cx="453.7" cy="904.06" rx="12.78" ry="7.61" fill="#e6dcda" />
<ellipse cx="489.3" cy="909.23" rx="9.19" ry="9.19" fill="#1e1d1b" opacity="0.7"/>
<ellipse cx="489.3" cy="909.23" rx="6.69" ry="6.69" fill="#e6dcda" />
<ellipse cx="577.52" cy="911.06" rx="11.02" ry="11.63" fill="#1e1d1b" opacity="0.7"/>
<ellipse cx="577.52" cy="911.06" rx="8.52" ry="9.13" fill="#e6dcda" />
<ellipse cx="622.25" cy="917.75" rx="10.11" ry="12.24" fill="#1e1d1b" opacity="0.7"/>
<ellipse cx="622.25" cy="917.75" rx="7.61" ry="9.74" fill="#e6dcda" />
<ellipse cx="661.79" cy="920.79" rx="11.02" ry="14.06" fill="#1e1d1b" opacity="0.7"/>
<ellipse cx="661.79" cy="920.79" rx="8.52" ry="11.56" fill="#e6dcda" />
<ellipse cx="696.17" cy="924.44" rx="11.02" ry="10.11" fill="#1e1d1b" opacity="0.7"/>
<ellipse cx="696.17" cy="924.44" rx="8.52" ry="7.61" fill="#e6dcda" />
<ellipse cx="453.7" cy="943.61" rx="10.11" ry="11.02" fill="#1e1d1b" opacity="0.7"/>
<ellipse cx="453.7" cy="943.61" rx="7.61" ry="8.52" fill="#e6dcda" />
<ellipse cx="578.44" cy="943.61" rx="13.15" ry="13.15" fill="#1e1d1b" opacity="0.7"/>
<ellipse cx="578.44" cy="943.61" rx="10.65" ry="10.65" fill="#e6dcda" />
<ellipse cx="616.16" cy="952.74" rx="11.02" ry="11.02" fill="#1e1d1b" opacity="0.7"/>
<ellipse cx="616.16" cy="952.74" rx="8.52" ry="8.52" fill="#e6dcda" />
<ellipse cx="656.62" cy="954.86" rx="11.02" ry="12.24" fill="#1e1d1b" opacity="0.7"/>
<ellipse cx="656.62" cy="954.86" rx="8.52" ry="9.74" fill="#e6dcda" />
<ellipse cx="694.65" cy="957.3" rx="9.19" ry="9.19" fill="#1e1d1b" opacity="0.7"/>
<ellipse cx="694.65" cy="957.3" rx="6.69" ry="6.69" fill="#e6dcda" />
<ellipse cx="451.27" cy="1016.62" rx="12.17" ry="7.61" fill="#e8e0dc" />
<ellipse cx="498.42" cy="1017.54" rx="13.69" ry="10.65" fill="#e8e0dc" />
<ellipse cx="537.37" cy="1018.14" rx="10.65" ry="9.13" fill="#e8e0dc" />
<ellipse cx="585.13" cy="1023.32" rx="15.21" ry="9.13" fill="#e8e0dc" />
<ellipse cx="632.28" cy="1020.58" rx="13.69" ry="10.65" fill="#e8e0dc" />
<ellipse cx="677.92" cy="1025.75" rx="12.78" ry="9.13" fill="#e8e0dc" />
<ellipse cx="712.91" cy="1029.7" rx="8.52" ry="9.13" fill="#e8e0dc" />
<ellipse cx="449.14" cy="1048.57" rx="9.13" ry="7.61" fill="#e8e0dc" />
<ellipse cx="499.95" cy="1054.65" rx="9.13" ry="12.17" fill="#e8e0dc" />
<ellipse cx="539.49" cy="1053.13" rx="10.04" ry="9.74" fill="#e8e0dc" />
<ellipse cx="581.48" cy="1057.09" rx="14.6" ry="8.52" fill="#e8e0dc" />
<ellipse cx="636.85" cy="1060.74" rx="12.78" ry="8.52" fill="#e8e0dc" />
<ellipse cx="680.05" cy="1066.21" rx="12.17" ry="10.65" fill="#e8e0dc" />
<ellipse cx="712.91" cy="1069.25" rx="6.08" ry="7.61" fill="#e8e0dc" />
<ellipse cx="453.4" cy="1085.99" rx="6.08" ry="8.21" fill="#e8e0dc" />
<ellipse cx="497.51" cy="1089.64" rx="8.52" ry="7.61" fill="#e8e0dc" />
<ellipse cx="542.54" cy="1087.2" rx="9.13" ry="6.69" fill="#e8e0dc" />
<ellipse cx="581.48" cy="1087.51" rx="11.56" ry="9.74" fill="#e8e0dc" />
<ellipse cx="629.85" cy="1092.68" rx="10.65" ry="10.04" fill="#e8e0dc" />
<ellipse cx="677.92" cy="1098.16" rx="9.74" ry="12.17" fill="#e8e0dc" />
<ellipse cx="712.3" cy="1098.16" rx="5.48" ry="4.56" fill="#e8e0dc" />
<ellipse cx="452.18" cy="1113.37" rx="6.08" ry="7.61" fill="#e8e0dc" />
<ellipse cx="496.9" cy="1115.5" rx="6.69" ry="5.48" fill="#e8e0dc" />
<ellipse cx="537.97" cy="1115.5" rx="7.61" ry="10.04" fill="#e8e0dc" />
<ellipse cx="583" cy="1114.89" rx="12.17" ry="11.26" fill="#e8e0dc" />
<ellipse cx="627.11" cy="1124.62" rx="8.52" ry="7.61" fill="#e8e0dc" />
<ellipse cx="673.36" cy="1126.15" rx="9.74" ry="8.52" fill="#e8e0dc" />
<ellipse cx="712.91" cy="1129.19" rx="6.08" ry="4.56" fill="#e8e0dc" />
<rect x="428" y="1226.5" width="316.8" height="38" fill="#b4b4b0" />
<rect x="428" y="1264.5" width="316.8" height="60.9" fill="#c6c6c1" />
<line x1="433" y1="1226.5" x2="433" y2="1268.3" stroke="#161616" stroke-width="2" />
<line x1="440.45" y1="1226.5" x2="440.45" y2="1253.86" stroke="#161616" stroke-width="2" />
<line x1="447.9" y1="1226.5" x2="447.9" y2="1253.86" stroke="#161616" stroke-width="2" />
<line x1="455.35" y1="1226.5" x2="455.35" y2="1253.86" stroke="#161616" stroke-width="2" />
<line x1="462.8" y1="1226.5" x2="462.8" y2="1253.86" stroke="#161616" stroke-width="2" />
<line x1="470.25" y1="1226.5" x2="470.25" y2="1258.8" stroke="#161616" stroke-width="2" />
<line x1="477.7" y1="1226.5" x2="477.7" y2="1253.86" stroke="#161616" stroke-width="2" />
<line x1="485.15" y1="1226.5" x2="485.15" y2="1253.86" stroke="#161616" stroke-width="2" />
<line x1="492.6" y1="1226.5" x2="492.6" y2="1253.86" stroke="#161616" stroke-width="2" />
<line x1="500.05" y1="1226.5" x2="500.05" y2="1253.86" stroke="#161616" stroke-width="2" />
<line x1="507.5" y1="1226.5" x2="507.5" y2="1268.3" stroke="#161616" stroke-width="2" />
<line x1="514.95" y1="1226.5" x2="514.95" y2="1253.86" stroke="#161616" stroke-width="2" />
<line x1="522.4" y1="1226.5" x2="522.4" y2="1253.86" stroke="#161616" stroke-width="2" />
<line x1="529.85" y1="1226.5" x2="529.85" y2="1253.86" stroke="#161616" stroke-width="2" />
<line x1="537.3" y1="1226.5" x2="537.3" y2="1253.86" stroke="#161616" stroke-width="2" />
<line x1="544.75" y1="1226.5" x2="544.75" y2="1258.8" stroke="#161616" stroke-width="2" />
<line x1="552.2" y1="1226.5" x2="552.2" y2="1253.86" stroke="#161616" stroke-width="2" />
<line x1="559.65" y1="1226.5" x2="559.65" y2="1253.86" stroke="#161616" stroke-width="2" />
<line x1="567.1" y1="1226.5" x2="567.1" y2="1253.86" stroke="#161616" stroke-width="2" />
<line x1="574.55" y1="1226.5" x2="574.55" y2="1253.86" stroke="#161616" stroke-width="2" />
<line x1="582" y1="1226.5" x2="582" y2="1268.3" stroke="#161616" stroke-width="2" />
<line x1="589.45" y1="1226.5" x2="589.45" y2="1253.86" stroke="#161616" stroke-width="2" />
<line x1="596.9" y1="1226.5" x2="596.9" y2="1253.86" stroke="#161616" stroke-width="2" />
<line x1="604.35" y1="1226.5" x2="604.35" y2="1253.86" stroke="#161616" stroke-width="2" />
<line x1="611.8" y1="1226.5" x2="611.8" y2="1253.86" stroke="#161616" stroke-width="2" />
<line x1="619.25" y1="1226.5" x2="619.25" y2="1258.8" stroke="#161616" stroke-width="2" />
<line x1="626.7" y1="1226.5" x2="626.7" y2="1253.86" stroke="#161616" stroke-width="2" />
<line x1="634.15" y1="1226.5" x2="634.15" y2="1253.86" stroke="#161616" stroke-width="2" />
<line x1="641.6" y1="1226.5" x2="641.6" y2="1253.86" stroke="#161616" stroke-width="2" />
<line x1="649.05" y1="1226.5" x2="649.05" y2="1253.86" stroke="#161616" stroke-width="2" />
<line x1="656.5" y1="1226.5" x2="656.5" y2="1268.3" stroke="#161616" stroke-width="2" />
<line x1="663.95" y1="1226.5" x2="663.95" y2="1253.86" stroke="#161616" stroke-width="2" />
<line x1="671.4" y1="1226.5" x2="671.4" y2="1253.86" stroke="#161616" stroke-width="2" />
<line x1="678.85" y1="1226.5" x2="678.85" y2="1253.86" stroke="#161616" stroke-width="2" />
<line x1="686.3" y1="1226.5" x2="686.3" y2="1253.86" stroke="#161616" stroke-width="2" />
<line x1="693.75" y1="1226.5" x2="693.75" y2="1258.8" stroke="#161616" stroke-width="2" />
<line x1="701.2" y1="1226.5" x2="701.2" y2="1253.86" stroke="#161616" stroke-width="2" />
<line x1="708.65" y1="1226.5" x2="708.65" y2="1253.86" stroke="#161616" stroke-width="2" />
<line x1="716.1" y1="1226.5" x2="716.1" y2="1253.86" stroke="#161616" stroke-width="2" />
<line x1="723.55" y1="1226.5" x2="723.55" y2="1253.86" stroke="#161616" stroke-width="2" />
<line x1="731" y1="1226.5" x2="731" y2="1268.3" stroke="#161616" stroke-width="2" />
<line x1="738.45" y1="1226.5" x2="738.45" y2="1253.86" stroke="#161616" stroke-width="2" />
<text x="433" y="1305.6" font-size="20" text-anchor="middle" fill="#555">2</text>
<text x="506" y="1305.6" font-size="20" text-anchor="middle" fill="#555">3</text>
<text x="580.6" y="1305.6" font-size="20" text-anchor="middle" fill="#555">4</text>
<text x="655" y="1305.6" font-size="20" text-anchor="middle" fill="#555">5</text>
<text x="730.6" y="1305.6" font-size="20" text-anchor="middle" fill="#555">6</text>
<text x="422" y="914" font-size="28" text-anchor="middle" transform="rotate(-90 422 914)">Ctrl</text>
<text x="419.5" y="1066" font-size="28" text-anchor="middle" transform="rotate(-90 419.5 1066)">Pm</text>
<line x1="851.3" y1="1221.3" x2="851.3" y2="890.2" stroke="#000" stroke-width="1.8" />
<line x1="839.5" y1="1220.4" x2="851.3" y2="1220.4" stroke="#000" stroke-width="1.8" />
<text x="837.5" y="1229.76" font-size="26" text-anchor="end">0</text>
<line x1="839.5" y1="1154.36" x2="851.3" y2="1154.36" stroke="#000" stroke-width="1.8" />
<text x="837.5" y="1163.72" font-size="26" text-anchor="end">10</text>
<line x1="839.5" y1="1088.32" x2="851.3" y2="1088.32" stroke="#000" stroke-width="1.8" />
<text x="837.5" y="1097.68" font-size="26" text-anchor="end">20</text>
<line x1="839.5" y1="1022.28" x2="851.3" y2="1022.28" stroke="#000" stroke-width="1.8" />
<text x="837.5" y="1031.64" font-size="26" text-anchor="end">30</text>
<line x1="839.5" y1="956.24" x2="851.3" y2="956.24" stroke="#000" stroke-width="1.8" />
<text x="837.5" y="965.6" font-size="26" text-anchor="end">40</text>
<line x1="839.5" y1="890.2" x2="851.3" y2="890.2" stroke="#000" stroke-width="1.8" />
<text x="837.5" y="899.56" font-size="26" text-anchor="end">50</text>
<line x1="839.5" y1="1220.4" x2="1076.9" y2="1220.4" stroke="#000" stroke-width="1.8" />
<rect x="883" y="1154.36" width="64.4" height="66.04" fill="#d4d4d4" />
<rect x="979" y="1117.38" width="65" height="103.02" fill="#f76694" />
<line x1="914.9" y1="1100.21" x2="914.9" y2="1208.51" stroke="#000" stroke-width="2" />
<line x1="899.1" y1="1100.21" x2="930.7" y2="1100.21" stroke="#000" stroke-width="2" />
<line x1="899.1" y1="1208.51" x2="930.7" y2="1208.51" stroke="#000" stroke-width="2" />
<line x1="1011" y1="1050.68" x2="1011" y2="1184.08" stroke="#000" stroke-width="2" />
<line x1="995.2" y1="1050.68" x2="1026.8" y2="1050.68" stroke="#000" stroke-width="2" />
<line x1="995.2" y1="1184.08" x2="1026.8" y2="1184.08" stroke="#000" stroke-width="2" />
<circle cx="914.86" cy="1030.32" r="4.7" fill="#000" />
<circle cx="914.86" cy="1053.16" r="4.7" fill="#000" />
<circle cx="914.86" cy="1070.12" r="4.7" fill="#000" />
<circle cx="920.75" cy="1093.9" r="4.7" fill="#000" />
<circle cx="910.15" cy="1100.26" r="4.7" fill="#000" />
<circle cx="920.75" cy="1106.15" r="4.7" fill="#000" />
<circle cx="910.15" cy="1110.16" r="4.7" fill="#000" />
<circle cx="920.75" cy="1116.04" r="4.7" fill="#000" />
<circle cx="910.15" cy="1122.17" r="4.7" fill="#000" />
<circle cx="920.75" cy="1126.17" r="4.7" fill="#000" />
<circle cx="898.37" cy="1148.07" r="4.7" fill="#000" />
<circle cx="910.15" cy="1150.9" r="4.7" fill="#000" />
<circle cx="932.05" cy="1143.83" r="4.7" fill="#000" />
<circle cx="920.75" cy="1154.43" r="4.7" fill="#000" />
<circle cx="920.75" cy="1179.87" r="4.7" fill="#000" />
<circle cx="898.37" cy="1186.93" r="4.7" fill="#000" />
<circle cx="910.15" cy="1188.58" r="4.7" fill="#000" />
<circle cx="932.05" cy="1185.05" r="4.7" fill="#000" />
<circle cx="898.37" cy="1196.12" r="4.7" fill="#000" />
<circle cx="887.31" cy="1203.89" r="4.7" fill="#000" />
<circle cx="932.05" cy="1202.71" r="4.7" fill="#000" />
<circle cx="943.59" cy="1199.65" r="4.7" fill="#000" />
<circle cx="898.37" cy="1208.6" r="4.7" fill="#000" />
<circle cx="910.15" cy="1210.96" r="4.7" fill="#000" />
<circle cx="920.75" cy="1210.96" r="4.7" fill="#000" />
<circle cx="887.31" cy="1212.13" r="4.7" fill="#000" />
<circle cx="932.05" cy="1213.31" r="4.7" fill="#000" />
<circle cx="943.59" cy="1210.96" r="4.7" fill="#000" />
<rect x="1007.29" y="963.3" width="9.2" height="9.2" fill="#000" />
<rect x="1006.82" y="998.63" width="9.2" height="9.2" fill="#000" />
<rect x="1016.71" y="1013.23" width="9.2" height="9.2" fill="#000" />
<rect x="997.4" y="1021.48" width="9.2" height="9.2" fill="#000" />
<rect x="1006.82" y="1047.38" width="9.2" height="9.2" fill="#000" />
<rect x="997.4" y="1067.4" width="9.2" height="9.2" fill="#000" />
<rect x="1016.71" y="1072.11" width="9.2" height="9.2" fill="#000" />
<rect x="1016.71" y="1086.24" width="9.2" height="9.2" fill="#000" />
<rect x="997.4" y="1089.78" width="9.2" height="9.2" fill="#000" />
<rect x="997.4" y="1102.26" width="9.2" height="9.2" fill="#000" />
<rect x="979.03" y="1109.09" width="9.2" height="9.2" fill="#000" />
<rect x="1016.71" y="1110.97" width="9.2" height="9.2" fill="#000" />
<rect x="1035.08" y="1107.44" width="9.2" height="9.2" fill="#000" />
<rect x="1006.82" y="1121.57" width="9.2" height="9.2" fill="#000" />
<rect x="1006.82" y="1130.99" width="9.2" height="9.2" fill="#000" />
<rect x="979.03" y="1141.59" width="9.2" height="9.2" fill="#000" />
<rect x="997.4" y="1145.59" width="9.2" height="9.2" fill="#000" />
<rect x="1035.08" y="1145.59" width="9.2" height="9.2" fill="#000" />
<rect x="1006.82" y="1154.54" width="9.2" height="9.2" fill="#000" />
<rect x="1016.71" y="1175.74" width="9.2" height="9.2" fill="#000" />
<rect x="997.4" y="1181.63" width="9.2" height="9.2" fill="#000" />
<rect x="1035.08" y="1183.28" width="9.2" height="9.2" fill="#000" />
<rect x="979.03" y="1187.51" width="9.2" height="9.2" fill="#000" />
<rect x="1016.71" y="1188.69" width="9.2" height="9.2" fill="#000" />
<rect x="1016.71" y="1198.11" width="9.2" height="9.2" fill="#000" />
<rect x="997.4" y="1211.07" width="9.2" height="9.2" fill="#000" />
<line x1="914.9" y1="1220.4" x2="914.9" y2="1231.4" stroke="#000" stroke-width="1.8" />
<text x="915.9" y="1257.9" font-size="28" text-anchor="end" transform="rotate(-45 915.9 1257.9)">Ctrl</text>
<line x1="1011" y1="1220.4" x2="1011" y2="1231.4" stroke="#000" stroke-width="1.8" />
<text x="1021" y="1249.4" font-size="28" text-anchor="end" transform="rotate(-45 1021 1249.4)">Pm</text>
<line x1="918.4" y1="941.8" x2="1011.4" y2="941.8" stroke="#000" stroke-width="2" />
<text x="963" y="933" font-size="23" text-anchor="middle"><tspan font-style="italic">P</tspan> = 0.0285</text>
<text x="789" y="1052" font-size="32" text-anchor="middle" transform="rotate(-90 789 1052)">Volume of lymph nodes(mm<tspan font-size="21" dy="-13">3</tspan><tspan dy="13">)</tspan></text>
<text x="1084" y="803" font-size="47">h</text>
<rect x="1142.9" y="801.4" width="249.1" height="246.6" filter="url(#bluetex)"/>
<rect x="1142.9" y="801.4" width="249.1" height="246.6" filter="url(#darkpatch)" opacity="0.25"/>
<path d="M1143 882 C1170 870 1190 875 1215 872 C1240 868 1260 858 1290 850 C1320 842 1340 836 1370 835" fill="none" stroke="#05051c" stroke-width="1.4" filter="url(#darkvein)"/>
<path d="M1270 1000 C1268 992 1276 988 1283 991 C1290 995 1292 1005 1285 1010 C1278 1012 1271 1008 1270 1000 Z" fill="#2f8a2a" opacity="0.75" filter="url(#soft)"/>
<rect x="1142.9" y="950" width="100" height="98" fill="#000005" />
<path d="M1163 1007 C1161 992 1172 986 1183 988 C1194 990 1199 1000 1199 1012 C1199 1025 1192 1034 1181 1034 C1170 1033 1164 1020 1163 1007 Z" fill="#1c22a8" opacity="0.85" filter="url(#soft)"/>
<line x1="1365" y1="1039" x2="1388" y2="1039" stroke="#fff" stroke-width="2.2" />
<text x="1376.5" y="1045.5" font-size="4.5" text-anchor="middle" fill="#fff">100 μm</text>
<rect x="1399" y="801.9" width="249" height="246.5" filter="url(#bluetex2)"/>
<rect x="1399" y="801.9" width="249" height="246.5" filter="url(#greentex)"/>
<clipPath id="pmclip"><rect x="1399" y="801.9" width="249" height="246.5"/></clipPath>
<clipPath id="ovclip"><ellipse cx="1524" cy="905" rx="38" ry="26" transform="rotate(25 1524 905)"/><ellipse cx="1418" cy="818" rx="22" ry="14" transform="rotate(0 1418 818)"/><ellipse cx="1495" cy="812" rx="38" ry="11" transform="rotate(0 1495 812)"/><ellipse cx="1438" cy="960" rx="30" ry="20" transform="rotate(0 1438 960)"/><ellipse cx="1600" cy="1040" rx="30" ry="12" transform="rotate(0 1600 1040)"/><ellipse cx="1455" cy="848" rx="18" ry="14" transform="rotate(0 1455 848)"/></clipPath>
<g clip-path="url(#pmclip)"><rect x="1399" y="801.9" width="249" height="246.5" filter="url(#bluetex)" clip-path="url(#ovclip)"/></g>
<path d="M1553 948 C1565 955 1585 972 1602 990 C1598 994 1590 990 1580 982 C1568 972 1558 962 1553 948 Z" fill="#050518" filter="url(#darkvein)" opacity="0.85"/>
<rect x="1400.4" y="949.7" width="99.6" height="98.7" fill="#000005" />
<path d="M1430 1005 C1429 986 1442 975 1456 977 C1471 980 1479 995 1478 1011 C1477 1027 1467 1039 1455 1037 C1440 1035 1431 1022 1430 1005 Z" fill="#1a26a0" opacity="0.75" filter="url(#soft)"/>
<clipPath id="insclip"><path d="M1432 1005 C1431 988 1443 978 1456 980 C1469 983 1476 996 1475 1011 C1474 1025 1465 1035 1455 1034 C1442 1032 1433 1021 1432 1005 Z"/></clipPath>
<rect x="1425" y="970" width="60" height="75" filter="url(#greentex)" clip-path="url(#insclip)" opacity="0.55"/>
<line x1="1620" y1="1039" x2="1643" y2="1039" stroke="#fff" stroke-width="2.2" />
<text x="1631.5" y="1045.5" font-size="4.5" text-anchor="middle" fill="#fff">20 μm</text>
<text x="1258.6" y="800" font-size="25" text-anchor="middle">Ctrl</text>
<text x="1546" y="799" font-size="25" text-anchor="middle">Pm</text>
<text x="1676.5" y="769" font-size="47">i</text>
<line x1="1787.2" y1="990.4" x2="1787.2" y2="799.6" stroke="#000" stroke-width="1.8" />
<line x1="1775.2" y1="989.5" x2="1787.2" y2="989.5" stroke="#000" stroke-width="1.8" />
<text x="1774.2" y="997.78" font-size="23" text-anchor="end">0</text>
<line x1="1775.2" y1="926.2" x2="1787.2" y2="926.2" stroke="#000" stroke-width="1.8" />
<text x="1774.2" y="934.48" font-size="23" text-anchor="end">10</text>
<line x1="1775.2" y1="862.9" x2="1787.2" y2="862.9" stroke="#000" stroke-width="1.8" />
<text x="1774.2" y="871.18" font-size="23" text-anchor="end">20</text>
<line x1="1775.2" y1="799.6" x2="1787.2" y2="799.6" stroke="#000" stroke-width="1.8" />
<text x="1774.2" y="807.88" font-size="23" text-anchor="end">30</text>
<line x1="1775" y1="989.5" x2="1949.5" y2="989.5" stroke="#000" stroke-width="1.8" />
<rect x="1809" y="964.18" width="47.3" height="25.32" fill="#d4d4d4" />
<rect x="1879.3" y="902.15" width="46.5" height="87.35" fill="#f76694" />
<line x1="1832.6" y1="944.56" x2="1832.6" y2="984.44" stroke="#000" stroke-width="1.8" />
<line x1="1821.1" y1="944.56" x2="1844.1" y2="944.56" stroke="#000" stroke-width="1.8" />
<line x1="1821.1" y1="984.44" x2="1844.1" y2="984.44" stroke="#000" stroke-width="1.8" />
<line x1="1902.4" y1="857.2" x2="1902.4" y2="947.09" stroke="#000" stroke-width="1.8" />
<line x1="1890.9" y1="857.2" x2="1913.9" y2="857.2" stroke="#000" stroke-width="1.8" />
<line x1="1890.9" y1="947.09" x2="1913.9" y2="947.09" stroke="#000" stroke-width="1.8" />
<circle cx="1832.6" cy="930.31" r="3.8" fill="#000" />
<circle cx="1832.6" cy="947.98" r="3.8" fill="#000" />
<circle cx="1832.6" cy="960.51" r="3.8" fill="#000" />
<circle cx="1825" cy="974.69" r="3.8" fill="#000" />
<circle cx="1840.2" cy="967.09" r="3.8" fill="#000" />
<circle cx="1840.2" cy="976.33" r="3.8" fill="#000" />
<circle cx="1832.6" cy="988.49" r="3.8" fill="#000" />
<rect x="1898.6" y="833.15" width="7.6" height="7.6" fill="#000" />
<rect x="1898.6" y="842.64" width="7.6" height="7.6" fill="#000" />
<rect x="1898.6" y="888.85" width="7.6" height="7.6" fill="#000" />
<rect x="1898.6" y="917.34" width="7.6" height="7.6" fill="#000" />
<rect x="1898.6" y="926.51" width="7.6" height="7.6" fill="#000" />
<rect x="1906.2" y="937.59" width="7.6" height="7.6" fill="#000" />
<rect x="1891.2" y="943.61" width="7.6" height="7.6" fill="#000" />
<line x1="1832.6" y1="989.5" x2="1832.6" y2="999.5" stroke="#000" stroke-width="1.8" />
<text x="1841.4" y="1021.2" font-size="27.5" text-anchor="end" transform="rotate(-45 1841.4 1021.2)">Ctrl</text>
<line x1="1902.4" y1="989.5" x2="1902.4" y2="999.5" stroke="#000" stroke-width="1.8" />
<text x="1911.9" y="1022.6" font-size="27.5" text-anchor="end" transform="rotate(-45 1911.9 1022.6)">Pm</text>
<line x1="1832.6" y1="822" x2="1900" y2="822" stroke="#000" stroke-width="1.8" />
<text x="1867" y="812.4" font-size="23" text-anchor="middle"><tspan font-style="italic">P</tspan> = 0.0060</text>
<text x="1737" y="892" font-size="23" text-anchor="middle" transform="rotate(-90 1737 892)">Metastatic area in cLNs</text>
<text x="1102.5" y="1108" font-size="47">j</text>
<text x="1318.5" y="1132.3" font-size="23" text-anchor="middle">Ctrl</text>
<line x1="1238.5" y1="1139" x2="1387" y2="1139" stroke="#000" stroke-width="2.2" />
<text x="1470.8" y="1130.8" font-size="23" text-anchor="middle">Pm</text>
<line x1="1406.8" y1="1137.5" x2="1556.3" y2="1137.5" stroke="#000" stroke-width="2.2" />
<rect x="1221.5" y="1146" width="338.5" height="48.8" fill="#d2cfe4" />
<g filter="url(#blb)">
<rect x="1227" y="1163" width="41.3" height="14" rx="11.2" ry="7" fill="#050510"/>
<rect x="1283" y="1163" width="44.7" height="14" rx="11.2" ry="7" fill="#050510"/>
<rect x="1341" y="1163" width="45" height="14" rx="11.2" ry="7" fill="#050510"/>
<rect x="1401.5" y="1163" width="40" height="14" rx="11.2" ry="7" fill="#141220"/>
<rect x="1457" y="1163" width="43" height="14" rx="11.2" ry="7" fill="#8c88a8"/>
<rect x="1516.3" y="1163" width="39.1" height="14" rx="11.2" ry="7" fill="#9591ae"/>
</g>
<rect x="1221" y="1216.3" width="339.6" height="52.9" fill="#b9b5cd" />
<rect x="1221" y="1216.3" width="339.6" height="52.9" fill="url(#ncad)"/>
<clipPath id="ncclip"><rect x="1221" y="1216.3" width="339.6" height="52.9"/></clipPath>
<g clip-path="url(#ncclip)"><g filter="url(#blb2)" opacity="0.45">
<rect x="1229" y="1216" width="37.3" height="54" fill="#6e6a8a" opacity="0.5"/>
<rect x="1285" y="1216" width="40.7" height="54" fill="#6e6a8a" opacity="0.8"/>
<rect x="1343" y="1216" width="41" height="54" fill="#6e6a8a" opacity="0.6"/>
<rect x="1403.5" y="1216" width="36" height="54" fill="#6e6a8a" opacity="0.9"/>
<rect x="1459" y="1216" width="39" height="54" fill="#6e6a8a" opacity="1"/>
<rect x="1518.3" y="1216" width="35.1" height="54" fill="#6e6a8a" opacity="1"/>
</g></g>
<g filter="url(#blb)">
<rect x="1227" y="1240" width="41.3" height="13" rx="8" ry="6.5" fill="#6a6682"/>
<rect x="1283" y="1240" width="44.7" height="13" rx="8" ry="6.5" fill="#2c2a3c"/>
<rect x="1341" y="1240" width="45" height="13" rx="8" ry="6.5" fill="#45425a"/>
<rect x="1401.5" y="1240" width="40" height="13" rx="8" ry="6.5" fill="#141220"/>
<rect x="1457" y="1240" width="43" height="13" rx="8" ry="6.5" fill="#050510"/>
<rect x="1516.3" y="1240" width="39.1" height="13" rx="8" ry="6.5" fill="#100e1a"/>
</g>
<rect x="1221.5" y="1289.2" width="338.5" height="73.8" fill="#d3d0e4" />
<g filter="url(#blb)">
<rect x="1224" y="1323" width="47.3" height="14" rx="11.2" ry="7" fill="#0c0a16"/>
<rect x="1280" y="1323" width="50.7" height="14" rx="11.2" ry="7" fill="#0c0a16"/>
<rect x="1338" y="1322" width="51" height="14" rx="11.2" ry="7" fill="#0c0a16"/>
<rect x="1398.5" y="1318.5" width="46" height="14" rx="11.2" ry="7" fill="#0c0a16"/>
<rect x="1454" y="1318" width="49" height="14" rx="11.2" ry="7" fill="#0c0a16"/>
<rect x="1513.3" y="1314" width="45.1" height="14" rx="11.2" ry="7" fill="#0c0a16"/>
</g>
<text x="1218.5" y="1180" font-size="21" text-anchor="end">E-cadherin</text>
<text x="1217" y="1253.2" font-size="21" text-anchor="end">N-cadherin</text>
<text x="1217" y="1340" font-size="21" text-anchor="end">GAPDH</text>
<line x1="1557" y1="1179.4" x2="1566" y2="1179.4" stroke="#000" stroke-width="2.2" />
<text x="1566.8" y="1184.4" font-size="13.5">100KDa</text>
<line x1="1557" y1="1247" x2="1566" y2="1247" stroke="#000" stroke-width="2.2" />
<text x="1566.8" y="1252" font-size="13.5">130KDa</text>
<line x1="1557" y1="1339.4" x2="1566" y2="1339.4" stroke="#000" stroke-width="2.2" />
<text x="1572" y="1344.4" font-size="13.5">35KDa</text>
<text x="1655" y="1135" font-size="47">k</text>
<line x1="1739.6" y1="1329.4" x2="1739.6" y2="1143.29" stroke="#000" stroke-width="1.6" />
<line x1="1732.6" y1="1328.6" x2="1739.6" y2="1328.6" stroke="#000" stroke-width="1.6" />
<text x="1730.6" y="1335.08" font-size="18" text-anchor="end">0</text>
<line x1="1732.6" y1="1266.83" x2="1739.6" y2="1266.83" stroke="#000" stroke-width="1.6" />
<text x="1730.6" y="1273.31" font-size="18" text-anchor="end">1</text>
<line x1="1732.6" y1="1205.06" x2="1739.6" y2="1205.06" stroke="#000" stroke-width="1.6" />
<text x="1730.6" y="1211.54" font-size="18" text-anchor="end">2</text>
<line x1="1732.6" y1="1143.29" x2="1739.6" y2="1143.29" stroke="#000" stroke-width="1.6" />
<text x="1730.6" y="1149.77" font-size="18" text-anchor="end">3</text>
<line x1="1732.6" y1="1328.6" x2="1959.8" y2="1328.6" stroke="#000" stroke-width="1.6" />
<rect x="1755.4" y="1267.73" width="27.1" height="60.87" fill="#d4d4d4" stroke="#a3a3a7" stroke-width="1.8" />
<rect x="1798.3" y="1308.22" width="29.4" height="20.38" fill="#f76694" />
<rect x="1872.4" y="1262.79" width="27.1" height="65.81" fill="#d4d4d4" stroke="#a3a3a7" stroke-width="1.8" />
<rect x="1915.3" y="1189.62" width="29.7" height="138.98" fill="#f76694" />
<line x1="1769" y1="1262.51" x2="1769" y2="1271.15" stroke="#000" stroke-width="1.6" />
<line x1="1761.5" y1="1262.51" x2="1776.5" y2="1262.51" stroke="#000" stroke-width="1.6" />
<line x1="1761.5" y1="1271.15" x2="1776.5" y2="1271.15" stroke="#000" stroke-width="1.6" />
<line x1="1813" y1="1292.4" x2="1813" y2="1324.03" stroke="#000" stroke-width="1.6" />
<line x1="1805.5" y1="1292.4" x2="1820.5" y2="1292.4" stroke="#000" stroke-width="1.6" />
<line x1="1805.5" y1="1324.03" x2="1820.5" y2="1324.03" stroke="#000" stroke-width="1.6" />
<line x1="1886" y1="1249.53" x2="1886" y2="1273.01" stroke="#000" stroke-width="1.6" />
<line x1="1878.5" y1="1249.53" x2="1893.5" y2="1249.53" stroke="#000" stroke-width="1.6" />
<line x1="1878.5" y1="1273.01" x2="1893.5" y2="1273.01" stroke="#000" stroke-width="1.6" />
<line x1="1930" y1="1172.94" x2="1930" y2="1206.3" stroke="#000" stroke-width="1.6" />
<line x1="1922.5" y1="1172.94" x2="1937.5" y2="1172.94" stroke="#000" stroke-width="1.6" />
<line x1="1922.5" y1="1206.3" x2="1937.5" y2="1206.3" stroke="#000" stroke-width="1.6" />
<circle cx="1757.7" cy="1268.68" r="3.6" fill="#000" />
<circle cx="1769" cy="1261.89" r="3.6" fill="#000" />
<circle cx="1780.6" cy="1266.83" r="3.6" fill="#000" />
<circle cx="1886.2" cy="1247.68" r="3.6" fill="#000" />
<circle cx="1875" cy="1269.3" r="3.6" fill="#000" />
<circle cx="1897" cy="1266.83" r="3.6" fill="#000" />
<path d="M1812.8 1286.51L1816.43 1293.34L1809.17 1293.34Z" fill="#000" stroke="#000" stroke-width="0.5" />
<path d="M1802 1316.16L1805.63 1322.99L1798.37 1322.99Z" fill="#000" stroke="#000" stroke-width="0.5" />
<path d="M1824 1313.07L1827.63 1319.9L1820.37 1319.9Z" fill="#000" stroke="#000" stroke-width="0.5" />
<path d="M1930 1172.85L1933.63 1179.68L1926.37 1179.68Z" fill="#000" stroke="#000" stroke-width="0.5" />
<path d="M1930 1181.5L1933.63 1188.33L1926.37 1188.33Z" fill="#000" stroke="#000" stroke-width="0.5" />
<path d="M1930 1204.35L1933.63 1211.18L1926.37 1211.18Z" fill="#000" stroke="#000" stroke-width="0.5" />
<line x1="1790.9" y1="1328.6" x2="1790.9" y2="1335.6" stroke="#000" stroke-width="1.6" />
<text x="1797.9" y="1341.6" font-size="21" text-anchor="end" transform="rotate(-45 1797.9 1341.6)">E-cadherin</text>
<line x1="1908.2" y1="1328.6" x2="1908.2" y2="1335.6" stroke="#000" stroke-width="1.6" />
<text x="1915.2" y="1341.6" font-size="21" text-anchor="end" transform="rotate(-45 1915.2 1341.6)">N-cadherin</text>
<path d="M1768.5 1251 L1768.5 1150.9 L1812.8 1150.9 L1812.8 1278.8" fill="none" stroke="#3a3a3a" stroke-width="1.6" />
<path d="M1885.9 1236 L1885.9 1150.9 L1930 1150.9 L1930 1162" fill="none" stroke="#3a3a3a" stroke-width="1.6" />
<text x="1794.6" y="1147.5" font-size="19" text-anchor="middle"><tspan font-style="italic">P</tspan> = 0.0165</text>
<text x="1902.6" y="1147.5" font-size="19" text-anchor="middle"><tspan font-style="italic">P</tspan> = 0.0024</text>
<circle cx="1750" cy="1120" r="3.6" fill="#000" />
<text x="1771.3" y="1125.2" font-size="15.5">Ctrl</text>
<path d="M1825.3 1116.2L1828.93 1123.04L1821.67 1123.04Z" fill="#000" stroke="#000" stroke-width="0.5" />
<text x="1846.7" y="1125.2" font-size="15.5">Pm</text>
<text x="1709" y="1223" font-size="20.5" text-anchor="middle" transform="rotate(-90 1709 1223)">Relative to GAPDH</text>
<text x="9" y="1446" font-size="47">l</text>
<text x="116" y="1453.2" font-size="17.5">CAL27 orthotopic OSCC</text>
<g transform="translate(0 1380) scale(0.33)">
<path d="M160,625 C165,560 200,530 260,540 C330,552 400,560 460,540 C440,480 470,400 520,350 C560,310 620,300 680,300 C700,270 720,255 745,262 C760,270 760,290 750,300 C800,295 850,298 885,308 C880,330 860,345 840,350 C810,370 780,390 760,410 C750,450 760,500 765,545 C770,555 760,560 740,555 C720,520 710,490 700,470 C690,500 690,560 700,600 C705,615 690,615 680,605 C650,560 620,540 600,540 C610,560 650,580 650,595 C620,600 580,590 560,575 C540,560 520,545 490,545 C430,555 330,560 260,555 C210,550 175,570 165,625 Z" fill="#e5b3ae" stroke="#d49a95" stroke-width="3"/>
<path d="M700,300 C690,280 700,262 720,258 C740,262 745,290 735,310 Z" fill="#d99a96"/>
<circle cx="800" cy="322" r="7" fill="#a86060"/>
<path d="M520,360 C560,420 600,440 640,430 M560,330 C600,380 640,400 690,390" fill="none" stroke="#d6a09b" stroke-width="4"/>
</g>
<circle cx="285.2" cy="1492" r="8" fill="none" stroke="#000" stroke-width="1.3" />
<line x1="281" y1="1499" x2="301.5" y2="1519.5" stroke="#000" stroke-width="1.3" />
<line x1="292" y1="1493" x2="321" y2="1501" stroke="#000" stroke-width="1.3" />
<ellipse cx="314.9" cy="1510.2" rx="16.5" ry="9.2" fill="#f8a590" />
<ellipse cx="318.5" cy="1512" rx="5.2" ry="4" fill="#e8141e" />
<line x1="324.8" y1="1508.6" x2="494" y2="1508.6" stroke="#000" stroke-width="1.3" />
<text x="362" y="1507" font-size="20">Primary tumor</text>
<line x1="318.2" y1="1523.4" x2="318.2" y2="1556" stroke="#000" stroke-width="2" />
<path d="M311.5 1552 L318.2 1565 L325 1552 Z" fill="#000" />
<circle cx="314.9" cy="1614.1" r="45.5" fill="#fff" stroke="#000" stroke-width="1.5" />
<circle cx="319.2" cy="1586.5" r="13.2" fill="#22aa6e" />
<circle cx="321.5" cy="1590.5" r="4.6" fill="#0f5a34" />
<circle cx="296.7" cy="1597.6" r="11.8" fill="#f8aa30" />
<circle cx="298.5" cy="1601.5" r="4.6" fill="#f48a20" />
<circle cx="336.3" cy="1600.2" r="13.2" fill="#8a5a30" />
<circle cx="338.5" cy="1604.5" r="4.6" fill="#301a08" />
<circle cx="300" cy="1618" r="11.8" fill="#22aa6e" />
<circle cx="302.5" cy="1621.5" r="4.6" fill="#0f5a34" />
<circle cx="321.5" cy="1620.7" r="12" fill="#e020e0" />
<circle cx="324.5" cy="1622.5" r="4.6" fill="#a00060" />
<circle cx="315.5" cy="1603.2" r="13.2" fill="#1070c8" />
<circle cx="317" cy="1606.5" r="4.6" fill="#402a90" />
<circle cx="283.5" cy="1615.7" r="13.8" fill="#8a5a30" />
<circle cx="286" cy="1619.7" r="4.6" fill="#2a1508" />
<circle cx="341.2" cy="1624" r="13" fill="#f8aa30" />
<circle cx="343.8" cy="1627.3" r="4.6" fill="#f08020" />
<circle cx="311.6" cy="1633.2" r="13.2" fill="#f010f0" />
<circle cx="313.9" cy="1637.2" r="4.6" fill="#900060" />
<text x="314.2" y="1681.7" font-size="21" text-anchor="middle">Dissociated cells</text>
<line x1="320.5" y1="1696.5" x2="320.5" y2="1724" stroke="#000" stroke-width="2" />
<path d="M313.8 1720 L320.5 1733 L327.2 1720 Z" fill="#000" />
<text x="307.6" y="1752.6" font-size="21" text-anchor="middle">Single-cell RNA sequencing</text>
<text x="6" y="1816" font-size="47">m</text>
<g filter="url(#dots)">
<path d="M115.4 1924.96 L125.29 1888.69 L148.37 1868.91 L174.74 1862.32 L204.42 1865.61 L237.39 1863.97 L250.58 1882.1 L263.77 1908.48 L267.06 1928.26 L260.47 1957.93 L237.39 1959.58 L214.31 1944.74 L197.82 1954.64 L171.45 1974.42 L158.26 2000.79 L145.07 2000.79 L131.88 1974.42 L115.4 1944.74 Z" fill="#f2aeb8" opacity="0.85" stroke="#f2aeb8" stroke-width="2" stroke-linejoin="round"/>
<path d="M164.85 1974.42 L184.64 1954.64 L211.01 1944.74 L237.39 1961.23 L257.17 1967.82 L276.95 1981.01 L273.66 2007.39 L260.47 2030.47 L250.58 2043.66 L237.39 2083.22 L240.69 2119.49 L240.69 2132.68 L224.2 2126.08 L207.72 2099.71 L191.23 2066.74 L178.04 2037.06 L164.85 2007.39 Z" fill="#cf3fa8" opacity="1" stroke="#cf3fa8" stroke-width="2" stroke-linejoin="round"/>
<path d="M270.36 1941.45 L280.25 1911.77 L296.74 1895.29 L323.11 1885.4 L356.08 1875.51 L379.16 1872.21 L395.65 1867.26 L389.05 1882.1 L379.16 1895.29 L375.87 1918.37 L382.46 1948.04 L362.68 1961.23 L336.3 1974.42 L313.22 1994.2 L290.14 1987.61 L276.95 1974.42 Z" fill="#83c98a" opacity="1" stroke="#83c98a" stroke-width="2" stroke-linejoin="round"/>
<path d="M313.22 1997.5 L336.3 1974.42 L362.68 1964.53 L389.05 1957.93 L412.13 1981.01 L445.1 2007.39 L441.81 2033.77 L428.62 2060.14 L402.24 2086.52 L379.16 2079.92 L362.68 2060.14 L336.3 2033.77 L316.52 2020.58 Z" fill="#62a6de" opacity="1" stroke="#62a6de" stroke-width="2" stroke-linejoin="round"/>
<path d="M250.58 2040.36 L260.47 2020.58 L276.95 1984.31 L296.74 1990.9 L316.52 2000.79 L346.19 2033.77 L369.27 2066.74 L395.65 2086.52 L379.16 2106.3 L346.19 2126.08 L313.22 2145.87 L290.14 2162.35 L263.77 2149.16 L240.69 2132.68 L237.39 2099.71 L240.69 2066.74 Z" fill="#33a5a2" opacity="1" stroke="#33a5a2" stroke-width="2" stroke-linejoin="round"/>
<path d="M328.06 1832.64 L333 1819.46 L346.19 1808.91 L353.45 1827.7 L360.04 1863.97 L357.73 1878.8 L370.92 1905.18 L382.46 1936.5 L379.16 1939.8 L364.33 1911.77 L350.15 1883.75 L339.6 1868.91 L329.71 1850.78 Z" fill="#e0806e" opacity="0.85" stroke="#e0806e" stroke-width="2" stroke-linejoin="round"/>
</g>
<text x="160.57" y="1926.81" font-size="10" text-anchor="middle">2</text>
<text x="217.61" y="2028.36" font-size="10" text-anchor="middle">3</text>
<text x="319.82" y="1950.88" font-size="10" text-anchor="middle">4</text>
<text x="399.93" y="2011.55" font-size="10" text-anchor="middle">5</text>
<text x="290.14" y="2092.66" font-size="10" text-anchor="middle">1</text>
<text x="341.91" y="1852.63" font-size="10" text-anchor="middle">6</text>
<line x1="95" y1="2187" x2="95" y2="2016" stroke="#000" stroke-width="1.6" />
<path d="M90.5 2018 L95 2009.5 L99.5 2018 Z" fill="#000" />
<line x1="95" y1="2187" x2="312" y2="2187" stroke="#000" stroke-width="1.6" />
<path d="M310 2182.5 L318.5 2187 L310 2191.5 Z" fill="#000" />
<text x="82" y="2109.6" font-size="23" text-anchor="middle" transform="rotate(-90 82 2109.6)">umap 2</text>
<text x="161.6" y="2210" font-size="23" text-anchor="middle">umap 1</text>
<circle cx="486.3" cy="1859" r="11.8" fill="#36a6a2" />
<text x="512.7" y="1868" font-size="25">1</text>
<circle cx="486.3" cy="1889.4" r="11.8" fill="#f3b4bc" />
<text x="512.7" y="1898.4" font-size="25">2</text>
<circle cx="486.3" cy="1922.7" r="11.8" fill="#cf45aa" />
<text x="512.7" y="1931.7" font-size="25">3</text>
<circle cx="486.3" cy="1956.3" r="11.8" fill="#86c98e" />
<text x="512.7" y="1965.3" font-size="25">4</text>
<circle cx="486.3" cy="1989.3" r="11.8" fill="#64a6de" />
<text x="512.7" y="1998.3" font-size="25">5</text>
<circle cx="486.3" cy="2019.6" r="11.8" fill="#e0806e" />
<text x="512.7" y="2028.6" font-size="25">6</text>
<text x="587" y="1432" font-size="47">n</text>
<rect x="621.2" y="1455" width="144.6" height="18.5" fill="#48a8a6" />
<rect x="769.5" y="1455" width="138.6" height="18.5" fill="#f4b8c0" />
<rect x="912.7" y="1455" width="93.5" height="18.5" fill="#d04aa8" />
<rect x="1010.8" y="1455" width="79.2" height="18.5" fill="#8ecb8e" />
<rect x="1094.6" y="1455" width="68.1" height="18.5" fill="#6aa6dc" />
<rect x="1167.3" y="1455" width="12.5" height="18.5" fill="#e08478" />
<text x="1185" y="1470.4" font-size="15.6">Cluster</text>
<text x="905" y="1431" font-size="15.8" text-anchor="middle">Cycling</text>
<line x1="801" y1="1435.8" x2="992.7" y2="1435.8" stroke="#000" stroke-width="1.2" />
<text x="857" y="1453" font-size="15.1" text-anchor="middle">G2/M</text>
<text x="970.4" y="1453.8" font-size="15.1" text-anchor="middle">G1/S</text>
<text x="1017.7" y="1435" font-size="14.3">Epithelial</text>
<text x="1017.7" y="1452" font-size="14.3">differentition</text>
<text x="1134.6" y="1449" font-size="15.4" text-anchor="middle">p-EMT</text>
<text x="1167.7" y="1448.5" font-size="14.4">Immune</text>
<rect x="621.2" y="1477.8" width="144.6" height="12.5" fill="#e8cbd4" />
<rect x="769.5" y="1477.8" width="138.6" height="12.5" fill="#e2d7e9" />
<rect x="912.7" y="1477.8" width="93.5" height="12.5" fill="#e9d1db" />
<rect x="1010.8" y="1477.8" width="79.2" height="12.5" fill="#dfd6ed" />
<rect x="1094.6" y="1477.8" width="68.1" height="12.5" fill="#e8e0ef" />
<rect x="1167.3" y="1477.8" width="12.5" height="12.5" fill="#e7e1f3" />
<rect x="621.2" y="1489.9" width="144.6" height="12.5" fill="#e6c5ce" />
<rect x="769.5" y="1489.9" width="138.6" height="12.5" fill="#ddd1e7" />
<rect x="912.7" y="1489.9" width="93.5" height="12.5" fill="#e5c2cb" />
<rect x="1010.8" y="1489.9" width="79.2" height="12.5" fill="#d7ccea" />
<rect x="1094.6" y="1489.9" width="68.1" height="12.5" fill="#e6deef" />
<rect x="1167.3" y="1489.9" width="12.5" height="12.5" fill="#d5ccec" />
<rect x="621.2" y="1502.01" width="144.6" height="12.5" fill="#e6c8d1" />
<rect x="769.5" y="1502.01" width="138.6" height="12.5" fill="#e2d7e9" />
<rect x="912.7" y="1502.01" width="93.5" height="12.5" fill="#e8cbd4" />
<rect x="1010.8" y="1502.01" width="79.2" height="12.5" fill="#e2d9ee" />
<rect x="1094.6" y="1502.01" width="68.1" height="12.5" fill="#eae3f0" />
<rect x="1167.3" y="1502.01" width="12.5" height="12.5" fill="#e9e3f3" />
<rect x="621.2" y="1514.11" width="144.6" height="12.5" fill="#e9d1db" />
<rect x="769.5" y="1514.11" width="138.6" height="12.5" fill="#e0d5e8" />
<rect x="912.7" y="1514.11" width="93.5" height="12.5" fill="#ebd8e1" />
<rect x="1010.8" y="1514.11" width="79.2" height="12.5" fill="#e2d9ee" />
<rect x="1094.6" y="1514.11" width="68.1" height="12.5" fill="#ede6f1" />
<rect x="1167.3" y="1514.11" width="12.5" height="12.5" fill="#e9e3f3" />
<rect x="621.2" y="1526.21" width="144.6" height="12.5" fill="#e6c5ce" />
<rect x="769.5" y="1526.21" width="138.6" height="12.5" fill="#e2d7e9" />
<rect x="912.7" y="1526.21" width="93.5" height="12.5" fill="#e6c8d1" />
<rect x="1010.8" y="1526.21" width="79.2" height="12.5" fill="#dfd6ed" />
<rect x="1094.6" y="1526.21" width="68.1" height="12.5" fill="#efe8f2" />
<rect x="1167.3" y="1526.21" width="12.5" height="12.5" fill="#e9e3f3" />
<rect x="621.2" y="1538.32" width="144.6" height="12.5" fill="#e6c5ce" />
<rect x="769.5" y="1538.32" width="138.6" height="12.5" fill="#dccfe7" />
<rect x="912.7" y="1538.32" width="93.5" height="12.5" fill="#e6c5ce" />
<rect x="1010.8" y="1538.32" width="79.2" height="12.5" fill="#ddd4ec" />
<rect x="1094.6" y="1538.32" width="68.1" height="12.5" fill="#ede2eb" />
<rect x="1167.3" y="1538.32" width="12.5" height="12.5" fill="#e4def2" />
<rect x="621.2" y="1550.42" width="144.6" height="12.5" fill="#e9ced7" />
<rect x="769.5" y="1550.42" width="138.6" height="12.5" fill="#e0d5e8" />
<rect x="912.7" y="1550.42" width="93.5" height="12.5" fill="#e9d1db" />
<rect x="1010.8" y="1550.42" width="79.2" height="12.5" fill="#e2d9ee" />
<rect x="1094.6" y="1550.42" width="68.1" height="12.5" fill="#eee5ef" />
<rect x="1167.3" y="1550.42" width="12.5" height="12.5" fill="#e9e3f3" />
<rect x="621.2" y="1562.52" width="144.6" height="12.5" fill="#e3bcc4" />
<rect x="769.5" y="1562.52" width="138.6" height="12.5" fill="#d6c9e5" />
<rect x="912.7" y="1562.52" width="93.5" height="12.5" fill="#e6c5ce" />
<rect x="1010.8" y="1562.52" width="79.2" height="12.5" fill="#d7ccea" />
<rect x="1094.6" y="1562.52" width="68.1" height="12.5" fill="#e8cbd4" />
<rect x="1167.3" y="1562.52" width="12.5" height="12.5" fill="#d5ccec" />
<rect x="621.2" y="1574.63" width="144.6" height="12.5" fill="#e8cbd4" />
<rect x="769.5" y="1574.63" width="138.6" height="12.5" fill="#e4d9ea" />
<rect x="912.7" y="1574.63" width="93.5" height="12.5" fill="#e6c5ce" />
<rect x="1010.8" y="1574.63" width="79.2" height="12.5" fill="#d4cae9" />
<rect x="1094.6" y="1574.63" width="68.1" height="12.5" fill="#ede2eb" />
<rect x="1167.3" y="1574.63" width="12.5" height="12.5" fill="#d9d1ee" />
<rect x="621.2" y="1586.73" width="144.6" height="12.5" fill="#e4bfc7" />
<rect x="769.5" y="1586.73" width="138.6" height="12.5" fill="#e0d5e8" />
<rect x="912.7" y="1586.73" width="93.5" height="12.5" fill="#e5c2cb" />
<rect x="1010.8" y="1586.73" width="79.2" height="12.5" fill="#e2d9ee" />
<rect x="1094.6" y="1586.73" width="68.1" height="12.5" fill="#e8cbd4" />
<rect x="1167.3" y="1586.73" width="12.5" height="12.5" fill="#e9e3f3" />
<rect x="621.2" y="1598.83" width="144.6" height="12.5" fill="#dfd8f1" />
<rect x="769.5" y="1598.83" width="138.6" height="12.5" fill="#e6c5ce" />
<rect x="912.7" y="1598.83" width="93.5" height="12.5" fill="#eee3ed" />
<rect x="1010.8" y="1598.83" width="79.2" height="12.5" fill="#ded7f0" />
<rect x="1094.6" y="1598.83" width="68.1" height="12.5" fill="#dfd8f1" />
<rect x="1167.3" y="1598.83" width="12.5" height="12.5" fill="#e4def2" />
<rect x="621.2" y="1610.94" width="144.6" height="12.5" fill="#dfd8f1" />
<rect x="769.5" y="1610.94" width="138.6" height="12.5" fill="#db9ba0" />
<rect x="912.7" y="1610.94" width="93.5" height="12.5" fill="#efe6f0" />
<rect x="1010.8" y="1610.94" width="79.2" height="12.5" fill="#ded7f0" />
<rect x="1094.6" y="1610.94" width="68.1" height="12.5" fill="#dfd8f1" />
<rect x="1167.3" y="1610.94" width="12.5" height="12.5" fill="#e4def2" />
<rect x="621.2" y="1623.04" width="144.6" height="12.5" fill="#dfd8f1" />
<rect x="769.5" y="1623.04" width="138.6" height="12.5" fill="#e5c2cb" />
<rect x="912.7" y="1623.04" width="93.5" height="12.5" fill="#ede0ea" />
<rect x="1010.8" y="1623.04" width="79.2" height="12.5" fill="#ded7f0" />
<rect x="1094.6" y="1623.04" width="68.1" height="12.5" fill="#dfd8f1" />
<rect x="1167.3" y="1623.04" width="12.5" height="12.5" fill="#e4def2" />
<rect x="621.2" y="1635.14" width="144.6" height="12.5" fill="#dfd8f1" />
<rect x="769.5" y="1635.14" width="138.6" height="12.5" fill="#d89597" />
<rect x="912.7" y="1635.14" width="93.5" height="12.5" fill="#efe6f0" />
<rect x="1010.8" y="1635.14" width="79.2" height="12.5" fill="#ded7f0" />
<rect x="1094.6" y="1635.14" width="68.1" height="12.5" fill="#dfd8f1" />
<rect x="1167.3" y="1635.14" width="12.5" height="12.5" fill="#e4def2" />
<rect x="621.2" y="1647.25" width="144.6" height="12.5" fill="#dfd8f1" />
<rect x="769.5" y="1647.25" width="138.6" height="12.5" fill="#da989c" />
<rect x="912.7" y="1647.25" width="93.5" height="12.5" fill="#ebe4f1" />
<rect x="1010.8" y="1647.25" width="79.2" height="12.5" fill="#ded7f0" />
<rect x="1094.6" y="1647.25" width="68.1" height="12.5" fill="#dfd8f1" />
<rect x="1167.3" y="1647.25" width="12.5" height="12.5" fill="#e4def2" />
<rect x="621.2" y="1659.35" width="144.6" height="12.5" fill="#dfd8f1" />
<rect x="769.5" y="1659.35" width="138.6" height="12.5" fill="#db9fa4" />
<rect x="912.7" y="1659.35" width="93.5" height="12.5" fill="#e7dfef" />
<rect x="1010.8" y="1659.35" width="79.2" height="12.5" fill="#ded7f0" />
<rect x="1094.6" y="1659.35" width="68.1" height="12.5" fill="#dfd8f1" />
<rect x="1167.3" y="1659.35" width="12.5" height="12.5" fill="#e4def2" />
<rect x="621.2" y="1671.45" width="144.6" height="12.5" fill="#dfd8f1" />
<rect x="769.5" y="1671.45" width="138.6" height="12.5" fill="#dea8b0" />
<rect x="912.7" y="1671.45" width="93.5" height="12.5" fill="#eee3ed" />
<rect x="1010.8" y="1671.45" width="79.2" height="12.5" fill="#ded7f0" />
<rect x="1094.6" y="1671.45" width="68.1" height="12.5" fill="#dfd8f1" />
<rect x="1167.3" y="1671.45" width="12.5" height="12.5" fill="#e4def2" />
<rect x="621.2" y="1683.56" width="144.6" height="12.5" fill="#dfd8f1" />
<rect x="769.5" y="1683.56" width="138.6" height="12.5" fill="#e0aeb6" />
<rect x="912.7" y="1683.56" width="93.5" height="12.5" fill="#ebdae4" />
<rect x="1010.8" y="1683.56" width="79.2" height="12.5" fill="#ded7f0" />
<rect x="1094.6" y="1683.56" width="68.1" height="12.5" fill="#dfd8f1" />
<rect x="1167.3" y="1683.56" width="12.5" height="12.5" fill="#e4def2" />
<rect x="621.2" y="1695.66" width="144.6" height="12.5" fill="#dfd8f1" />
<rect x="769.5" y="1695.66" width="138.6" height="12.5" fill="#dea8b0" />
<rect x="912.7" y="1695.66" width="93.5" height="12.5" fill="#e8ced6" />
<rect x="1010.8" y="1695.66" width="79.2" height="12.5" fill="#ded7f0" />
<rect x="1094.6" y="1695.66" width="68.1" height="12.5" fill="#dfd8f1" />
<rect x="1167.3" y="1695.66" width="12.5" height="12.5" fill="#e4def2" />
<rect x="621.2" y="1707.76" width="144.6" height="12.5" fill="#dfd8f1" />
<rect x="769.5" y="1707.76" width="138.6" height="12.5" fill="#e1b1ba" />
<rect x="912.7" y="1707.76" width="93.5" height="12.5" fill="#ede0ea" />
<rect x="1010.8" y="1707.76" width="79.2" height="12.5" fill="#ded7f0" />
<rect x="1094.6" y="1707.76" width="68.1" height="12.5" fill="#dfd8f1" />
<rect x="1167.3" y="1707.76" width="12.5" height="12.5" fill="#e4def2" />
<rect x="621.2" y="1719.87" width="144.6" height="12.5" fill="#e2d9ee" />
<rect x="769.5" y="1719.87" width="138.6" height="12.5" fill="#ede2eb" />
<rect x="912.7" y="1719.87" width="93.5" height="12.5" fill="#db9ba0" />
<rect x="1010.8" y="1719.87" width="79.2" height="12.5" fill="#dcd6f0" />
<rect x="1094.6" y="1719.87" width="68.1" height="12.5" fill="#ded7f0" />
<rect x="1167.3" y="1719.87" width="12.5" height="12.5" fill="#e4def2" />
<rect x="621.2" y="1731.97" width="144.6" height="12.5" fill="#dfd6ed" />
<rect x="769.5" y="1731.97" width="138.6" height="12.5" fill="#ecdce4" />
<rect x="912.7" y="1731.97" width="93.5" height="12.5" fill="#dea8b0" />
<rect x="1010.8" y="1731.97" width="79.2" height="12.5" fill="#dcd6f0" />
<rect x="1094.6" y="1731.97" width="68.1" height="12.5" fill="#ded7f0" />
<rect x="1167.3" y="1731.97" width="12.5" height="12.5" fill="#e4def2" />
<rect x="621.2" y="1744.07" width="144.6" height="12.5" fill="#e2d9ee" />
<rect x="769.5" y="1744.07" width="138.6" height="12.5" fill="#e9d1db" />
<rect x="912.7" y="1744.07" width="93.5" height="12.5" fill="#dca2a8" />
<rect x="1010.8" y="1744.07" width="79.2" height="12.5" fill="#dcd6f0" />
<rect x="1094.6" y="1744.07" width="68.1" height="12.5" fill="#ded7f0" />
<rect x="1167.3" y="1744.07" width="12.5" height="12.5" fill="#e4def2" />
<rect x="621.2" y="1756.18" width="144.6" height="12.5" fill="#e2d9ee" />
<rect x="769.5" y="1756.18" width="138.6" height="12.5" fill="#e8cbd4" />
<rect x="912.7" y="1756.18" width="93.5" height="12.5" fill="#dea5ac" />
<rect x="1010.8" y="1756.18" width="79.2" height="12.5" fill="#dcd6f0" />
<rect x="1094.6" y="1756.18" width="68.1" height="12.5" fill="#ded7f0" />
<rect x="1167.3" y="1756.18" width="12.5" height="12.5" fill="#e4def2" />
<rect x="621.2" y="1768.28" width="144.6" height="12.5" fill="#dfd6ed" />
<rect x="769.5" y="1768.28" width="138.6" height="12.5" fill="#eee5ef" />
<rect x="912.7" y="1768.28" width="93.5" height="12.5" fill="#da989c" />
<rect x="1010.8" y="1768.28" width="79.2" height="12.5" fill="#dcd6f0" />
<rect x="1094.6" y="1768.28" width="68.1" height="12.5" fill="#ded7f0" />
<rect x="1167.3" y="1768.28" width="12.5" height="12.5" fill="#e4def2" />
<rect x="621.2" y="1780.38" width="144.6" height="12.5" fill="#e2d9ee" />
<rect x="769.5" y="1780.38" width="138.6" height="12.5" fill="#e5c2cb" />
<rect x="912.7" y="1780.38" width="93.5" height="12.5" fill="#d79193" />
<rect x="1010.8" y="1780.38" width="79.2" height="12.5" fill="#dcd6f0" />
<rect x="1094.6" y="1780.38" width="68.1" height="12.5" fill="#ded7f0" />
<rect x="1167.3" y="1780.38" width="12.5" height="12.5" fill="#e4def2" />
<rect x="621.2" y="1792.49" width="144.6" height="12.5" fill="#ede2eb" />
<rect x="769.5" y="1792.49" width="138.6" height="12.5" fill="#ecdce4" />
<rect x="912.7" y="1792.49" width="93.5" height="12.5" fill="#db9ba0" />
<rect x="1010.8" y="1792.49" width="79.2" height="12.5" fill="#dcd6f0" />
<rect x="1094.6" y="1792.49" width="68.1" height="12.5" fill="#ded7f0" />
<rect x="1167.3" y="1792.49" width="12.5" height="12.5" fill="#e4def2" />
<rect x="621.2" y="1804.59" width="144.6" height="12.5" fill="#eee5ef" />
<rect x="769.5" y="1804.59" width="138.6" height="12.5" fill="#e9d1db" />
<rect x="912.7" y="1804.59" width="93.5" height="12.5" fill="#d89597" />
<rect x="1010.8" y="1804.59" width="79.2" height="12.5" fill="#dcd6f0" />
<rect x="1094.6" y="1804.59" width="68.1" height="12.5" fill="#ded7f0" />
<rect x="1167.3" y="1804.59" width="12.5" height="12.5" fill="#e4def2" />
<rect x="621.2" y="1816.69" width="144.6" height="12.5" fill="#eddfe8" />
<rect x="769.5" y="1816.69" width="138.6" height="12.5" fill="#ebd8e1" />
<rect x="912.7" y="1816.69" width="93.5" height="12.5" fill="#db9fa4" />
<rect x="1010.8" y="1816.69" width="79.2" height="12.5" fill="#dcd6f0" />
<rect x="1094.6" y="1816.69" width="68.1" height="12.5" fill="#ded7f0" />
<rect x="1167.3" y="1816.69" width="12.5" height="12.5" fill="#e4def2" />
<rect x="621.2" y="1828.8" width="144.6" height="12.5" fill="#eddfe8" />
<rect x="769.5" y="1828.8" width="138.6" height="12.5" fill="#ead5de" />
<rect x="912.7" y="1828.8" width="93.5" height="12.5" fill="#dca2a8" />
<rect x="1010.8" y="1828.8" width="79.2" height="12.5" fill="#dcd6f0" />
<rect x="1094.6" y="1828.8" width="68.1" height="12.5" fill="#ded7f0" />
<rect x="1167.3" y="1828.8" width="12.5" height="12.5" fill="#e4def2" />
<rect x="621.2" y="1840.9" width="144.6" height="12.5" fill="#ede6f1" />
<rect x="769.5" y="1840.9" width="138.6" height="12.5" fill="#efe8f2" />
<rect x="912.7" y="1840.9" width="93.5" height="12.5" fill="#ede6f1" />
<rect x="1010.8" y="1840.9" width="79.2" height="12.5" fill="#e2b5bd" />
<rect x="1094.6" y="1840.9" width="68.1" height="12.5" fill="#eee5ef" />
<rect x="1167.3" y="1840.9" width="12.5" height="12.5" fill="#eee9f4" />
<rect x="621.2" y="1853" width="144.6" height="12.5" fill="#eae3f0" />
<rect x="769.5" y="1853" width="138.6" height="12.5" fill="#efe8f2" />
<rect x="912.7" y="1853" width="93.5" height="12.5" fill="#eae3f0" />
<rect x="1010.8" y="1853" width="79.2" height="12.5" fill="#e0aeb6" />
<rect x="1094.6" y="1853" width="68.1" height="12.5" fill="#ede2eb" />
<rect x="1167.3" y="1853" width="12.5" height="12.5" fill="#f1ecf5" />
<rect x="621.2" y="1865.11" width="144.6" height="12.5" fill="#e2d9ee" />
<rect x="769.5" y="1865.11" width="138.6" height="12.5" fill="#e9d1db" />
<rect x="912.7" y="1865.11" width="93.5" height="12.5" fill="#ead5de" />
<rect x="1010.8" y="1865.11" width="79.2" height="12.5" fill="#db9ba0" />
<rect x="1094.6" y="1865.11" width="68.1" height="12.5" fill="#e6deef" />
<rect x="1167.3" y="1865.11" width="12.5" height="12.5" fill="#e4def2" />
<rect x="621.2" y="1877.21" width="144.6" height="12.5" fill="#e6deef" />
<rect x="769.5" y="1877.21" width="138.6" height="12.5" fill="#ede6f1" />
<rect x="912.7" y="1877.21" width="93.5" height="12.5" fill="#efe8f2" />
<rect x="1010.8" y="1877.21" width="79.2" height="12.5" fill="#e0aeb6" />
<rect x="1094.6" y="1877.21" width="68.1" height="12.5" fill="#efe8f2" />
<rect x="1167.3" y="1877.21" width="12.5" height="12.5" fill="#eee9f4" />
<rect x="621.2" y="1889.31" width="144.6" height="12.5" fill="#dbd1eb" />
<rect x="769.5" y="1889.31" width="138.6" height="12.5" fill="#ddd4ec" />
<rect x="912.7" y="1889.31" width="93.5" height="12.5" fill="#e2d9ee" />
<rect x="1010.8" y="1889.31" width="79.2" height="12.5" fill="#dea8b0" />
<rect x="1094.6" y="1889.31" width="68.1" height="12.5" fill="#e2d9ee" />
<rect x="1167.3" y="1889.31" width="12.5" height="12.5" fill="#e4def2" />
<rect x="621.2" y="1901.42" width="144.6" height="12.5" fill="#e4dcef" />
<rect x="769.5" y="1901.42" width="138.6" height="12.5" fill="#e2d9ee" />
<rect x="912.7" y="1901.42" width="93.5" height="12.5" fill="#ead5de" />
<rect x="1010.8" y="1901.42" width="79.2" height="12.5" fill="#d79193" />
<rect x="1094.6" y="1901.42" width="68.1" height="12.5" fill="#efe8f2" />
<rect x="1167.3" y="1901.42" width="12.5" height="12.5" fill="#e9e3f3" />
<rect x="621.2" y="1913.52" width="144.6" height="12.5" fill="#f7f5fa" />
<rect x="769.5" y="1913.52" width="138.6" height="12.5" fill="#f7f5fa" />
<rect x="912.7" y="1913.52" width="93.5" height="12.5" fill="#f7f5fa" />
<rect x="1010.8" y="1913.52" width="79.2" height="12.5" fill="#f2e0e5" />
<rect x="1094.6" y="1913.52" width="68.1" height="12.5" fill="#f6f1f6" />
<rect x="1167.3" y="1913.52" width="12.5" height="12.5" fill="#f5edf2" />
<rect x="621.2" y="1925.62" width="144.6" height="12.5" fill="#f7f5fa" />
<rect x="769.5" y="1925.62" width="138.6" height="12.5" fill="#f7f5fa" />
<rect x="912.7" y="1925.62" width="93.5" height="12.5" fill="#f7f5fa" />
<rect x="1010.8" y="1925.62" width="79.2" height="12.5" fill="#f0d8dd" />
<rect x="1094.6" y="1925.62" width="68.1" height="12.5" fill="#f5edf2" />
<rect x="1167.3" y="1925.62" width="12.5" height="12.5" fill="#eac4c8" />
<rect x="621.2" y="1937.73" width="144.6" height="12.5" fill="#f7f5fa" />
<rect x="769.5" y="1937.73" width="138.6" height="12.5" fill="#f7f5fa" />
<rect x="912.7" y="1937.73" width="93.5" height="12.5" fill="#f7f5fa" />
<rect x="1010.8" y="1937.73" width="79.2" height="12.5" fill="#f5edf2" />
<rect x="1094.6" y="1937.73" width="68.1" height="12.5" fill="#f7f5fa" />
<rect x="1167.3" y="1937.73" width="12.5" height="12.5" fill="#f7f5fa" />
<rect x="621.2" y="1949.83" width="144.6" height="12.5" fill="#f6f1f6" />
<rect x="769.5" y="1949.83" width="138.6" height="12.5" fill="#f6f1f6" />
<rect x="912.7" y="1949.83" width="93.5" height="12.5" fill="#f6f1f6" />
<rect x="1010.8" y="1949.83" width="79.2" height="12.5" fill="#efd4d8" />
<rect x="1094.6" y="1949.83" width="68.1" height="12.5" fill="#f4e9ed" />
<rect x="1167.3" y="1949.83" width="12.5" height="12.5" fill="#ebc8cc" />
<rect x="621.2" y="1961.93" width="144.6" height="12.5" fill="#e9d1db" />
<rect x="769.5" y="1961.93" width="138.6" height="12.5" fill="#e9ced7" />
<rect x="912.7" y="1961.93" width="93.5" height="12.5" fill="#ead5de" />
<rect x="1010.8" y="1961.93" width="79.2" height="12.5" fill="#e4dcef" />
<rect x="1094.6" y="1961.93" width="68.1" height="12.5" fill="#e6c5ce" />
<rect x="1167.3" y="1961.93" width="12.5" height="12.5" fill="#e4def2" />
<rect x="621.2" y="1974.04" width="144.6" height="12.5" fill="#eddfe8" />
<rect x="769.5" y="1974.04" width="138.6" height="12.5" fill="#eddfe8" />
<rect x="912.7" y="1974.04" width="93.5" height="12.5" fill="#ede2eb" />
<rect x="1010.8" y="1974.04" width="79.2" height="12.5" fill="#ebd8e1" />
<rect x="1094.6" y="1974.04" width="68.1" height="12.5" fill="#e6c5ce" />
<rect x="1167.3" y="1974.04" width="12.5" height="12.5" fill="#edd5dc" />
<rect x="621.2" y="1986.14" width="144.6" height="12.5" fill="#ead5de" />
<rect x="769.5" y="1986.14" width="138.6" height="12.5" fill="#eee5ef" />
<rect x="912.7" y="1986.14" width="93.5" height="12.5" fill="#ede6f1" />
<rect x="1010.8" y="1986.14" width="79.2" height="12.5" fill="#e4dcef" />
<rect x="1094.6" y="1986.14" width="68.1" height="12.5" fill="#e1b1ba" />
<rect x="1167.3" y="1986.14" width="12.5" height="12.5" fill="#e9e3f3" />
<rect x="621.2" y="1998.24" width="144.6" height="12.5" fill="#ebd8e1" />
<rect x="769.5" y="1998.24" width="138.6" height="12.5" fill="#eddfe8" />
<rect x="912.7" y="1998.24" width="93.5" height="12.5" fill="#ede6f1" />
<rect x="1010.8" y="1998.24" width="79.2" height="12.5" fill="#e6deef" />
<rect x="1094.6" y="1998.24" width="68.1" height="12.5" fill="#e2b5bd" />
<rect x="1167.3" y="1998.24" width="12.5" height="12.5" fill="#e9e3f3" />
<rect x="621.2" y="2010.35" width="144.6" height="12.5" fill="#ecdce4" />
<rect x="769.5" y="2010.35" width="138.6" height="12.5" fill="#ede2eb" />
<rect x="912.7" y="2010.35" width="93.5" height="12.5" fill="#eae3f0" />
<rect x="1010.8" y="2010.35" width="79.2" height="12.5" fill="#ede2eb" />
<rect x="1094.6" y="2010.35" width="68.1" height="12.5" fill="#e2b8c0" />
<rect x="1167.3" y="2010.35" width="12.5" height="12.5" fill="#ebe6f4" />
<rect x="621.2" y="2022.45" width="144.6" height="12.5" fill="#eee5ef" />
<rect x="769.5" y="2022.45" width="138.6" height="12.5" fill="#ede2eb" />
<rect x="912.7" y="2022.45" width="93.5" height="12.5" fill="#ede6f1" />
<rect x="1010.8" y="2022.45" width="79.2" height="12.5" fill="#ede6f1" />
<rect x="1094.6" y="2022.45" width="68.1" height="12.5" fill="#e1b1ba" />
<rect x="1167.3" y="2022.45" width="12.5" height="12.5" fill="#eee9f4" />
<rect x="621.2" y="2034.55" width="144.6" height="12.5" fill="#ead5de" />
<rect x="769.5" y="2034.55" width="138.6" height="12.5" fill="#ede2eb" />
<rect x="912.7" y="2034.55" width="93.5" height="12.5" fill="#ecdce4" />
<rect x="1010.8" y="2034.55" width="79.2" height="12.5" fill="#ede2eb" />
<rect x="1094.6" y="2034.55" width="68.1" height="12.5" fill="#e5c2cb" />
<rect x="1167.3" y="2034.55" width="12.5" height="12.5" fill="#ecd1d8" />
<rect x="621.2" y="2046.66" width="144.6" height="12.5" fill="#eddfe8" />
<rect x="769.5" y="2046.66" width="138.6" height="12.5" fill="#efe8f2" />
<rect x="912.7" y="2046.66" width="93.5" height="12.5" fill="#ddd4ec" />
<rect x="1010.8" y="2046.66" width="79.2" height="12.5" fill="#dbd1eb" />
<rect x="1094.6" y="2046.66" width="68.1" height="12.5" fill="#dca2a8" />
<rect x="1167.3" y="2046.66" width="12.5" height="12.5" fill="#e1daf1" />
<rect x="621.2" y="2058.76" width="144.6" height="12.5" fill="#dfd6ed" />
<rect x="769.5" y="2058.76" width="138.6" height="12.5" fill="#e2d9ee" />
<rect x="912.7" y="2058.76" width="93.5" height="12.5" fill="#e6deef" />
<rect x="1010.8" y="2058.76" width="79.2" height="12.5" fill="#e2d9ee" />
<rect x="1094.6" y="2058.76" width="68.1" height="12.5" fill="#e6deef" />
<rect x="1167.3" y="2058.76" width="12.5" height="12.5" fill="#e9cad0" />
<rect x="621.2" y="2070.86" width="144.6" height="12.5" fill="#e2d9ee" />
<rect x="769.5" y="2070.86" width="138.6" height="12.5" fill="#e6deef" />
<rect x="912.7" y="2070.86" width="93.5" height="12.5" fill="#eae3f0" />
<rect x="1010.8" y="2070.86" width="79.2" height="12.5" fill="#eae3f0" />
<rect x="1094.6" y="2070.86" width="68.1" height="12.5" fill="#efe8f2" />
<rect x="1167.3" y="2070.86" width="12.5" height="12.5" fill="#e8c3c9" />
<rect x="621.2" y="2082.97" width="144.6" height="12.5" fill="#ede2eb" />
<rect x="769.5" y="2082.97" width="138.6" height="12.5" fill="#ede2eb" />
<rect x="912.7" y="2082.97" width="93.5" height="12.5" fill="#eee5ef" />
<rect x="1010.8" y="2082.97" width="79.2" height="12.5" fill="#ecdce4" />
<rect x="1094.6" y="2082.97" width="68.1" height="12.5" fill="#ecdce4" />
<rect x="1167.3" y="2082.97" width="12.5" height="12.5" fill="#d07168" />
<rect x="621.2" y="2095.07" width="144.6" height="12.5" fill="#efe8f2" />
<rect x="769.5" y="2095.07" width="138.6" height="12.5" fill="#efe8f2" />
<rect x="912.7" y="2095.07" width="93.5" height="12.5" fill="#efe8f2" />
<rect x="1010.8" y="2095.07" width="79.2" height="12.5" fill="#eee5ef" />
<rect x="1094.6" y="2095.07" width="68.1" height="12.5" fill="#efe8f2" />
<rect x="1167.3" y="2095.07" width="12.5" height="12.5" fill="#de9ea1" />
<rect x="621.2" y="2107.17" width="144.6" height="12.5" fill="#eddfe8" />
<rect x="769.5" y="2107.17" width="138.6" height="12.5" fill="#eddfe8" />
<rect x="912.7" y="2107.17" width="93.5" height="12.5" fill="#ede2eb" />
<rect x="1010.8" y="2107.17" width="79.2" height="12.5" fill="#eddfe8" />
<rect x="1094.6" y="2107.17" width="68.1" height="12.5" fill="#ede2eb" />
<rect x="1167.3" y="2107.17" width="12.5" height="12.5" fill="#dc9698" />
<rect x="621.2" y="2119.28" width="144.6" height="12.5" fill="#ede2eb" />
<rect x="769.5" y="2119.28" width="138.6" height="12.5" fill="#ede2eb" />
<rect x="912.7" y="2119.28" width="93.5" height="12.5" fill="#ede2eb" />
<rect x="1010.8" y="2119.28" width="79.2" height="12.5" fill="#eddfe8" />
<rect x="1094.6" y="2119.28" width="68.1" height="12.5" fill="#ede2eb" />
<rect x="1167.3" y="2119.28" width="12.5" height="12.5" fill="#d98f8e" />
<rect x="621.2" y="2131.38" width="144.6" height="12.5" fill="#eddfe8" />
<rect x="769.5" y="2131.38" width="138.6" height="12.5" fill="#ede2eb" />
<rect x="912.7" y="2131.38" width="93.5" height="12.5" fill="#eddfe8" />
<rect x="1010.8" y="2131.38" width="79.2" height="12.5" fill="#ecdce4" />
<rect x="1094.6" y="2131.38" width="68.1" height="12.5" fill="#ede2eb" />
<rect x="1167.3" y="2131.38" width="12.5" height="12.5" fill="#d98f8e" />
<rect x="621.2" y="2143.48" width="144.6" height="12.5" fill="#ebd8e1" />
<rect x="769.5" y="2143.48" width="138.6" height="12.5" fill="#ebd8e1" />
<rect x="912.7" y="2143.48" width="93.5" height="12.5" fill="#ecdce4" />
<rect x="1010.8" y="2143.48" width="79.2" height="12.5" fill="#eee5ef" />
<rect x="1094.6" y="2143.48" width="68.1" height="12.5" fill="#eddfe8" />
<rect x="1167.3" y="2143.48" width="12.5" height="12.5" fill="#de9ea1" />
<rect x="621.2" y="2155.59" width="144.6" height="12.5" fill="#ebd8e1" />
<rect x="769.5" y="2155.59" width="138.6" height="12.5" fill="#ecdce4" />
<rect x="912.7" y="2155.59" width="93.5" height="12.5" fill="#ecdce4" />
<rect x="1010.8" y="2155.59" width="79.2" height="12.5" fill="#eddfe8" />
<rect x="1094.6" y="2155.59" width="68.1" height="12.5" fill="#ede2eb" />
<rect x="1167.3" y="2155.59" width="12.5" height="12.5" fill="#d98f8e" />
<rect x="621.2" y="2167.69" width="144.6" height="12.5" fill="#eee5ef" />
<rect x="769.5" y="2167.69" width="138.6" height="12.5" fill="#eee5ef" />
<rect x="912.7" y="2167.69" width="93.5" height="12.5" fill="#eee5ef" />
<rect x="1010.8" y="2167.69" width="79.2" height="12.5" fill="#ede2eb" />
<rect x="1094.6" y="2167.69" width="68.1" height="12.5" fill="#eee5ef" />
<rect x="1167.3" y="2167.69" width="12.5" height="12.5" fill="#de9ea1" />
<rect x="621.2" y="2179.79" width="144.6" height="12.5" fill="#dfd6ed" />
<rect x="769.5" y="2179.79" width="138.6" height="12.5" fill="#e4dcef" />
<rect x="912.7" y="2179.79" width="93.5" height="12.5" fill="#e4dcef" />
<rect x="1010.8" y="2179.79" width="79.2" height="12.5" fill="#e4dcef" />
<rect x="1094.6" y="2179.79" width="68.1" height="12.5" fill="#e2d9ee" />
<rect x="1167.3" y="2179.79" width="12.5" height="12.5" fill="#dc9698" />
<rect x="621.2" y="2191.9" width="144.6" height="12.5" fill="#eee5ef" />
<rect x="769.5" y="2191.9" width="138.6" height="12.5" fill="#eee5ef" />
<rect x="912.7" y="2191.9" width="93.5" height="12.5" fill="#eee5ef" />
<rect x="1010.8" y="2191.9" width="79.2" height="12.5" fill="#ede2eb" />
<rect x="1094.6" y="2191.9" width="68.1" height="12.5" fill="#eee5ef" />
<rect x="1167.3" y="2191.9" width="12.5" height="12.5" fill="#e0a5ab" />
<rect x="621.2" y="1478" width="144.6" height="726.2" filter="url(#streak)" opacity="0.3"/>
<rect x="769.5" y="1478" width="138.6" height="726.2" filter="url(#streak)" opacity="0.3"/>
<rect x="912.7" y="1478" width="93.5" height="726.2" filter="url(#streak)" opacity="0.3"/>
<rect x="1010.8" y="1478" width="79.2" height="726.2" filter="url(#streak)" opacity="0.3"/>
<rect x="1094.6" y="1478" width="68.1" height="726.2" filter="url(#streak)" opacity="0.3"/>
<rect x="769.5" y="1599.03" width="26" height="121.03" fill="url(#g2fade)" />
<text x="1183.8" y="1489.75" font-size="14">THBS1</text>
<text x="1183.8" y="1501.86" font-size="14">NRG1</text>
<text x="1183.8" y="1513.96" font-size="14">DKK1</text>
<text x="1183.8" y="1526.06" font-size="14">CCN1</text>
<text x="1183.8" y="1538.16" font-size="14">FJX1</text>
<text x="1183.8" y="1550.27" font-size="14">DLK2</text>
<text x="1183.8" y="1562.37" font-size="14">F3</text>
<text x="1183.8" y="1574.48" font-size="14">PTHLH</text>
<text x="1183.8" y="1586.58" font-size="14">EMP3</text>
<text x="1183.8" y="1598.68" font-size="14">AMIGO2</text>
<text x="1183.8" y="1610.79" font-size="14">CENPF</text>
<text x="1183.8" y="1622.89" font-size="14" fill="#ff0000">CDC20</text>
<text x="1183.8" y="1634.99" font-size="14">CDKN3</text>
<text x="1183.8" y="1647.1" font-size="14" fill="#ff0000">CCNB1</text>
<text x="1183.8" y="1659.2" font-size="14" fill="#ff0000">CCNB2</text>
<text x="1183.8" y="1671.3" font-size="14">BIRC5</text>
<text x="1183.8" y="1683.4" font-size="14" fill="#ff0000">ASPM</text>
<text x="1183.8" y="1695.51" font-size="14">CENPE</text>
<text x="1183.8" y="1707.61" font-size="14">MKI67</text>
<text x="1183.8" y="1719.71" font-size="14" fill="#ff0000">PLK1</text>
<text x="1183.8" y="1731.82" font-size="14" fill="#ff0000">CLSPN</text>
<text x="1183.8" y="1743.92" font-size="14" fill="#ff0000">RRM2</text>
<text x="1183.8" y="1756.02" font-size="14" fill="#ff0000">CDCA5</text>
<text x="1183.8" y="1768.13" font-size="14" fill="#ff0000">CDK1</text>
<text x="1183.8" y="1780.23" font-size="14">CENPU</text>
<text x="1183.8" y="1792.34" font-size="14">PCLAF</text>
<text x="1183.8" y="1804.44" font-size="14">HELLS</text>
<text x="1183.8" y="1816.54" font-size="14">MCM7</text>
<text x="1183.8" y="1828.64" font-size="14" fill="#ff0000">CDC6</text>
<text x="1183.8" y="1840.75" font-size="14" fill="#ff0000">CDC45</text>
<text x="1183.8" y="1852.85" font-size="14">LYPD3</text>
<text x="1183.8" y="1864.95" font-size="14" fill="#ff0000">KRT16</text>
<text x="1183.8" y="1877.06" font-size="14">FABP5</text>
<text x="1183.8" y="1889.16" font-size="14" fill="#ff0000">KRT6B</text>
<text x="1183.8" y="1901.26" font-size="14" fill="#ff0000">S100A14</text>
<text x="1183.8" y="1913.37" font-size="14">LY6D</text>
<text x="1183.8" y="1925.47" font-size="14">S100A7</text>
<text x="1183.8" y="1937.58" font-size="14">S100A9</text>
<text x="1183.8" y="1949.68" font-size="14">KRT1</text>
<text x="1183.8" y="1961.78" font-size="14">S100A8</text>
<text x="1183.8" y="1973.88" font-size="14">KITLG</text>
<text x="1183.8" y="1985.99" font-size="14">EGLN3</text>
<text x="1183.8" y="1998.09" font-size="14" fill="#ff0000">MMP1</text>
<text x="1183.8" y="2010.19" font-size="14" fill="#ff0000">MMP13</text>
<text x="1183.8" y="2022.3" font-size="14" fill="#ff0000">ITGA2</text>
<text x="1183.8" y="2034.4" font-size="14" fill="#ff0000">PLAU</text>
<text x="1183.8" y="2046.5" font-size="14">SQSTM1</text>
<text x="1183.8" y="2058.61" font-size="14" fill="#ff0000">MMP10</text>
<text x="1183.8" y="2070.71" font-size="14">JUNB</text>
<text x="1183.8" y="2082.81" font-size="14">NFKBIA</text>
<text x="1183.8" y="2094.92" font-size="14" fill="#ff0000">C3</text>
<text x="1183.8" y="2107.02" font-size="14">LCN2</text>
<text x="1183.8" y="2119.12" font-size="14" fill="#ff0000">TNFAIP2</text>
<text x="1183.8" y="2131.23" font-size="14" fill="#ff0000">CCL28</text>
<text x="1183.8" y="2143.33" font-size="14" fill="#ff0000">CFB</text>
<text x="1183.8" y="2155.43" font-size="14">AGR2</text>
<text x="1183.8" y="2167.54" font-size="14" fill="#ff0000">CD74</text>
<text x="1183.8" y="2179.64" font-size="14" fill="#ff0000">HLA−DRA</text>
<text x="1183.8" y="2191.74" font-size="14">CD82</text>
<text x="1183.8" y="2203.85" font-size="14" fill="#ff0000">HLA−DRB1</text>
<text x="1262.5" y="1799.2" font-size="17.3" font-weight="bold">Gene expression</text>
<rect x="1272.2" y="1809.5" width="21.1" height="105.5" fill="url(#hmg)" />
<line x1="1273" y1="1813.3" x2="1277" y2="1813.3" stroke="#fff" stroke-width="1.2" />
<line x1="1288.5" y1="1813.3" x2="1292.5" y2="1813.3" stroke="#fff" stroke-width="1.2" />
<line x1="1273" y1="1838" x2="1277" y2="1838" stroke="#fff" stroke-width="1.2" />
<line x1="1288.5" y1="1838" x2="1292.5" y2="1838" stroke="#fff" stroke-width="1.2" />
<line x1="1273" y1="1886.7" x2="1277" y2="1886.7" stroke="#fff" stroke-width="1.2" />
<line x1="1288.5" y1="1886.7" x2="1292.5" y2="1886.7" stroke="#fff" stroke-width="1.2" />
<line x1="1273" y1="1911.3" x2="1277" y2="1911.3" stroke="#fff" stroke-width="1.2" />
<line x1="1288.5" y1="1911.3" x2="1292.5" y2="1911.3" stroke="#fff" stroke-width="1.2" />
<text x="1298" y="1819.5" font-size="16">2</text>
<text x="1298" y="1843.8" font-size="16">1</text>
<text x="1298" y="1868.8" font-size="16">0</text>
<text x="1298" y="1893" font-size="16">−1</text>
<text x="1298" y="1918" font-size="16">−2</text>
<text x="1271.7" y="1957.5" font-size="17.3" font-weight="bold">Cluster</text>
<rect x="1271.2" y="1968.7" width="18.5" height="18" fill="#48a8a6" />
<text x="1294.5" y="1984.2" font-size="17">1</text>
<rect x="1271.2" y="1988.58" width="18.5" height="18" fill="#f4b8c0" />
<text x="1294.5" y="2004.08" font-size="17">2</text>
<rect x="1271.2" y="2008.46" width="18.5" height="18" fill="#d04aa8" />
<text x="1294.5" y="2023.96" font-size="17">3</text>
<rect x="1271.2" y="2028.34" width="18.5" height="18" fill="#8ecb8e" />
<text x="1294.5" y="2043.84" font-size="17">4</text>
<rect x="1271.2" y="2048.22" width="18.5" height="18" fill="#6aa6dc" />
<text x="1294.5" y="2063.72" font-size="17">5</text>
<rect x="1271.2" y="2068.1" width="18.5" height="18" fill="#e08478" />
<text x="1294.5" y="2083.6" font-size="17">6</text>
<text x="1425" y="1447" font-size="47">o</text>
<text x="1576.7" y="1481.4" font-size="21.6">Hallmark pathways in tumor cells</text>
<text x="1576.7" y="1507.6" font-size="21.6">Pm versus Ctrl</text>
<line x1="1683.1" y1="1517.8" x2="1683.1" y2="2159.6" stroke="#000" stroke-width="1.5" />
<line x1="1682.3" y1="2158.6" x2="1940.6" y2="2158.6" stroke="#000" stroke-width="1.5" />
<line x1="1679.5" y1="1529" x2="1683.1" y2="1529" stroke="#000" stroke-width="1.2" />
<text x="1674.6" y="1534.3" font-size="14.8" text-anchor="end">ALLOGRAFT_REJECTION</text>
<line x1="1725" y1="1529" x2="1928.95" y2="1529" stroke="#d25880" stroke-width="2.2" />
<circle cx="1928.95" cy="1529" r="9.72" fill="#d25880" />
<line x1="1679.5" y1="1548.93" x2="1683.1" y2="1548.93" stroke="#000" stroke-width="1.2" />
<text x="1674.6" y="1554.23" font-size="14.8" text-anchor="end">GLYCOLYSIS</text>
<line x1="1725" y1="1548.93" x2="1879.68" y2="1548.93" stroke="#d9768e" stroke-width="2.2" />
<circle cx="1879.68" cy="1548.93" r="8.84" fill="#d9768e" />
<line x1="1679.5" y1="1568.86" x2="1683.1" y2="1568.86" stroke="#000" stroke-width="1.2" />
<text x="1674.6" y="1574.16" font-size="14.8" text-anchor="end">INTERFERON_GAMMA_RESPONSE</text>
<line x1="1725" y1="1568.86" x2="1869.67" y2="1568.86" stroke="#db7e91" stroke-width="2.2" />
<circle cx="1869.67" cy="1568.86" r="8.65" fill="#db7e91" />
<line x1="1679.5" y1="1588.79" x2="1683.1" y2="1588.79" stroke="#000" stroke-width="1.2" />
<text x="1674.6" y="1594.09" font-size="14.8" text-anchor="end">INTERFERON_ALPHA_RESPONSE</text>
<line x1="1725" y1="1588.79" x2="1869.2" y2="1588.79" stroke="#db7e91" stroke-width="2.2" />
<circle cx="1869.2" cy="1588.79" r="8.64" fill="#db7e91" />
<line x1="1679.5" y1="1608.72" x2="1683.1" y2="1608.72" stroke="#000" stroke-width="1.2" />
<text x="1674.6" y="1614.02" font-size="14.8" text-anchor="end">IL2_STAT5_SIGNALING</text>
<line x1="1725" y1="1608.72" x2="1862.48" y2="1608.72" stroke="#dc8394" stroke-width="2.2" />
<circle cx="1862.48" cy="1608.72" r="8.5" fill="#dc8394" />
<line x1="1679.5" y1="1628.65" x2="1683.1" y2="1628.65" stroke="#000" stroke-width="1.2" />
<text x="1674.6" y="1633.95" font-size="14.8" text-anchor="end">PI3K_AKT_MTOR_SIGNALING</text>
<line x1="1725" y1="1628.65" x2="1859.03" y2="1628.65" stroke="#dc8595" stroke-width="2.2" />
<circle cx="1859.03" cy="1628.65" r="8.43" fill="#dc8595" />
<line x1="1679.5" y1="1648.58" x2="1683.1" y2="1648.58" stroke="#000" stroke-width="1.2" />
<text x="1674.6" y="1653.88" font-size="14.8" text-anchor="end">P53_PATHWAY</text>
<line x1="1725" y1="1648.58" x2="1857.31" y2="1648.58" stroke="#dd8796" stroke-width="2.2" />
<circle cx="1857.31" cy="1648.58" r="8.4" fill="#dd8796" />
<line x1="1679.5" y1="1668.51" x2="1683.1" y2="1668.51" stroke="#000" stroke-width="1.2" />
<text x="1674.6" y="1673.81" font-size="14.8" text-anchor="end">HYPOXIA</text>
<line x1="1725" y1="1668.51" x2="1845.74" y2="1668.51" stroke="#df8f99" stroke-width="2.2" />
<circle cx="1845.74" cy="1668.51" r="8.15" fill="#df8f99" />
<line x1="1679.5" y1="1688.44" x2="1683.1" y2="1688.44" stroke="#000" stroke-width="1.2" />
<text x="1674.6" y="1693.74" font-size="14.8" text-anchor="end">ADIPOGENESIS</text>
<line x1="1725" y1="1688.44" x2="1844.02" y2="1688.44" stroke="#df909a" stroke-width="2.2" />
<circle cx="1844.02" cy="1688.44" r="8.11" fill="#df909a" />
<line x1="1679.5" y1="1708.37" x2="1683.1" y2="1708.37" stroke="#000" stroke-width="1.2" />
<text x="1674.6" y="1713.67" font-size="14.8" text-anchor="end">MYC_TARGETS_V1</text>
<line x1="1725" y1="1708.37" x2="1842.93" y2="1708.37" stroke="#df919a" stroke-width="2.2" />
<circle cx="1842.93" cy="1708.37" r="8.09" fill="#df919a" />
<line x1="1679.5" y1="1728.3" x2="1683.1" y2="1728.3" stroke="#000" stroke-width="1.2" />
<text x="1674.6" y="1733.6" font-size="14.8" text-anchor="end">MTORC1_SIGNALING</text>
<line x1="1725" y1="1728.3" x2="1836.2" y2="1728.3" stroke="#e0969c" stroke-width="2.2" />
<circle cx="1836.2" cy="1728.3" r="7.94" fill="#e0969c" />
<line x1="1679.5" y1="1748.23" x2="1683.1" y2="1748.23" stroke="#000" stroke-width="1.2" />
<text x="1674.6" y="1753.53" font-size="14.8" text-anchor="end">PROTEIN_SECRETION</text>
<line x1="1725" y1="1748.23" x2="1828.38" y2="1748.23" stroke="#e19b9e" stroke-width="2.2" />
<circle cx="1828.38" cy="1748.23" r="7.76" fill="#e19b9e" />
<line x1="1679.5" y1="1768.16" x2="1683.1" y2="1768.16" stroke="#000" stroke-width="1.2" />
<text x="1674.6" y="1773.46" font-size="14.8" text-anchor="end">TNFA_SIGNALING_VIA_NFKB</text>
<line x1="1725" y1="1768.16" x2="1826.03" y2="1768.16" stroke="#e29d9e" stroke-width="2.2" />
<circle cx="1826.03" cy="1768.16" r="7.7" fill="#e29d9e" />
<line x1="1679.5" y1="1788.09" x2="1683.1" y2="1788.09" stroke="#000" stroke-width="1.2" />
<text x="1674.6" y="1793.39" font-size="14.8" text-anchor="end">INFLAMMATORY_RESPONSE</text>
<line x1="1725" y1="1788.09" x2="1826.03" y2="1788.09" stroke="#e29d9e" stroke-width="2.2" />
<circle cx="1826.03" cy="1788.09" r="7.7" fill="#e29d9e" />
<line x1="1679.5" y1="1808.02" x2="1683.1" y2="1808.02" stroke="#000" stroke-width="1.2" />
<text x="1674.6" y="1813.32" font-size="14.8" text-anchor="end">FATTY_ACID_METABOLISM</text>
<line x1="1725" y1="1808.02" x2="1824.94" y2="1808.02" stroke="#e29e9e" stroke-width="2.2" />
<circle cx="1824.94" cy="1808.02" r="7.68" fill="#e29e9e" />
<line x1="1679.5" y1="1827.95" x2="1683.1" y2="1827.95" stroke="#000" stroke-width="1.2" />
<text x="1674.6" y="1833.25" font-size="14.8" text-anchor="end">HEME_METABOLISM</text>
<line x1="1725" y1="1827.95" x2="1823.22" y2="1827.95" stroke="#e29f9f" stroke-width="2.2" />
<circle cx="1823.22" cy="1827.95" r="7.64" fill="#e29f9f" />
<line x1="1679.5" y1="1847.88" x2="1683.1" y2="1847.88" stroke="#000" stroke-width="1.2" />
<text x="1674.6" y="1853.18" font-size="14.8" text-anchor="end">NOTCH_SIGNALING</text>
<line x1="1725" y1="1847.88" x2="1821.97" y2="1847.88" stroke="#e2a09f" stroke-width="2.2" />
<circle cx="1821.97" cy="1847.88" r="7.61" fill="#e2a09f" />
<line x1="1679.5" y1="1867.81" x2="1683.1" y2="1867.81" stroke="#000" stroke-width="1.2" />
<text x="1674.6" y="1873.11" font-size="14.8" text-anchor="end">EPITHELIAL_MESENCHYMAL_TRANSITION</text>
<line x1="1725" y1="1867.81" x2="1821.97" y2="1867.81" stroke="#e2a09f" stroke-width="2.2" />
<circle cx="1821.97" cy="1867.81" r="7.61" fill="#e2a09f" />
<line x1="1679.5" y1="1887.74" x2="1683.1" y2="1887.74" stroke="#000" stroke-width="1.2" />
<text x="1674.6" y="1893.04" font-size="14.8" text-anchor="end">KRAS_SIGNALING_UP</text>
<line x1="1725" y1="1887.74" x2="1814.93" y2="1887.74" stroke="#e4a5a1" stroke-width="2.2" />
<circle cx="1814.93" cy="1887.74" r="7.43" fill="#e4a5a1" />
<line x1="1679.5" y1="1907.67" x2="1683.1" y2="1907.67" stroke="#000" stroke-width="1.2" />
<text x="1674.6" y="1912.97" font-size="14.8" text-anchor="end">IL6_JAK_STAT3_SIGNALING</text>
<line x1="1725" y1="1907.67" x2="1811.49" y2="1907.67" stroke="#e4a7a2" stroke-width="2.2" />
<circle cx="1811.49" cy="1907.67" r="7.34" fill="#e4a7a2" />
<line x1="1679.5" y1="1927.6" x2="1683.1" y2="1927.6" stroke="#000" stroke-width="1.2" />
<text x="1674.6" y="1932.9" font-size="14.8" text-anchor="end">DNA_REPAIR</text>
<line x1="1725" y1="1927.6" x2="1798.82" y2="1927.6" stroke="#e6b0a5" stroke-width="2.2" />
<circle cx="1798.82" cy="1927.6" r="7.01" fill="#e6b0a5" />
<line x1="1679.5" y1="1947.53" x2="1683.1" y2="1947.53" stroke="#000" stroke-width="1.2" />
<text x="1674.6" y="1952.83" font-size="14.8" text-anchor="end">TGF_BETA_SIGNALING</text>
<line x1="1725" y1="1947.53" x2="1797.88" y2="1947.53" stroke="#e6b1a5" stroke-width="2.2" />
<circle cx="1797.88" cy="1947.53" r="6.98" fill="#e6b1a5" />
<line x1="1679.5" y1="1967.46" x2="1683.1" y2="1967.46" stroke="#000" stroke-width="1.2" />
<text x="1674.6" y="1972.76" font-size="14.8" text-anchor="end">APICAL_JUNCTION</text>
<line x1="1725" y1="1967.46" x2="1791.94" y2="1967.46" stroke="#e7b5a7" stroke-width="2.2" />
<circle cx="1791.94" cy="1967.46" r="6.81" fill="#e7b5a7" />
<line x1="1679.5" y1="1987.39" x2="1683.1" y2="1987.39" stroke="#000" stroke-width="1.2" />
<text x="1674.6" y="1992.69" font-size="14.8" text-anchor="end">WNT_BETA_CATENIN_SIGNALING</text>
<line x1="1725" y1="1987.39" x2="1789.28" y2="1987.39" stroke="#e8b7a8" stroke-width="2.2" />
<circle cx="1789.28" cy="1987.39" r="6.73" fill="#e8b7a8" />
<line x1="1679.5" y1="2007.32" x2="1683.1" y2="2007.32" stroke="#000" stroke-width="1.2" />
<text x="1674.6" y="2012.62" font-size="14.8" text-anchor="end">MITOTIC_SPINDLE</text>
<line x1="1725" y1="2007.32" x2="1784.12" y2="2007.32" stroke="#e8bbaa" stroke-width="2.2" />
<circle cx="1784.12" cy="2007.32" r="6.57" fill="#e8bbaa" />
<line x1="1679.5" y1="2027.25" x2="1683.1" y2="2027.25" stroke="#000" stroke-width="1.2" />
<text x="1674.6" y="2032.55" font-size="14.8" text-anchor="end">G2M_CHECKPOINT</text>
<line x1="1725" y1="2027.25" x2="1782.4" y2="2027.25" stroke="#e8bcab" stroke-width="2.2" />
<circle cx="1782.4" cy="2027.25" r="6.52" fill="#e8bcab" />
<line x1="1679.5" y1="2047.18" x2="1683.1" y2="2047.18" stroke="#000" stroke-width="1.2" />
<text x="1674.6" y="2052.48" font-size="14.8" text-anchor="end">MYC_TARGETS_V2</text>
<line x1="1725" y1="2047.18" x2="1780.05" y2="2047.18" stroke="#e8beac" stroke-width="2.2" />
<circle cx="1780.05" cy="2047.18" r="6.45" fill="#e8beac" />
<line x1="1679.5" y1="2067.11" x2="1683.1" y2="2067.11" stroke="#000" stroke-width="1.2" />
<text x="1674.6" y="2072.41" font-size="14.8" text-anchor="end">E2F_TARGETS</text>
<line x1="1725" y1="2067.11" x2="1776.61" y2="2067.11" stroke="#e9c0ae" stroke-width="2.2" />
<circle cx="1776.61" cy="2067.11" r="6.33" fill="#e9c0ae" />
<line x1="1679.5" y1="2087.04" x2="1683.1" y2="2087.04" stroke="#000" stroke-width="1.2" />
<text x="1674.6" y="2092.34" font-size="14.8" text-anchor="end">ANGIOGENESIS</text>
<line x1="1725" y1="2087.04" x2="1770.51" y2="2087.04" stroke="#e9c5b1" stroke-width="2.2" />
<circle cx="1770.51" cy="2087.04" r="6.12" fill="#e9c5b1" />
<line x1="1679.5" y1="2106.97" x2="1683.1" y2="2106.97" stroke="#000" stroke-width="1.2" />
<text x="1674.6" y="2112.27" font-size="14.8" text-anchor="end">MYOGENESIS</text>
<line x1="1725" y1="2106.97" x2="1751.74" y2="2106.97" stroke="#ead3ba" stroke-width="2.2" />
<circle cx="1751.74" cy="2106.97" r="5.37" fill="#ead3ba" />
<line x1="1679.5" y1="2126.9" x2="1683.1" y2="2126.9" stroke="#000" stroke-width="1.2" />
<text x="1674.6" y="2132.2" font-size="14.8" text-anchor="end">HEDGEHOG_SIGNALING</text>
<line x1="1725" y1="2126.9" x2="1709.67" y2="2126.9" stroke="#e3e3c4" stroke-width="2.2" />
<circle cx="1709.67" cy="2126.9" r="4.77" fill="#e3e3c4" />
<line x1="1679.5" y1="2146.83" x2="1683.1" y2="2146.83" stroke="#000" stroke-width="1.2" />
<text x="1674.6" y="2152.13" font-size="14.8" text-anchor="end">KRAS_SIGNALING_DN</text>
<line x1="1725" y1="2146.83" x2="1694.97" y2="2146.83" stroke="#dbdfc0" stroke-width="2.2" />
<circle cx="1694.97" cy="2146.83" r="5.52" fill="#dbdfc0" />
<line x1="1725" y1="2158.6" x2="1725" y2="2163" stroke="#000" stroke-width="1.2" />
<text x="1724" y="2185.6" font-size="21" text-anchor="middle">0</text>
<line x1="1803.2" y1="2158.6" x2="1803.2" y2="2163" stroke="#000" stroke-width="1.2" />
<text x="1808.6" y="2185.6" font-size="21" text-anchor="middle">500</text>
<line x1="1881.4" y1="2158.6" x2="1881.4" y2="2163" stroke="#000" stroke-width="1.2" />
<text x="1892" y="2185.6" font-size="21" text-anchor="middle">1000</text>
<text x="1836.2" y="2207.9" font-size="28" text-anchor="middle">score</text>
<text x="1897.4" y="1869" font-size="17">abs(score)</text>
<circle cx="1908.3" cy="1888.2" r="5.89" fill="#000" />
<text x="1926.3" y="1893.5" font-size="14.8">250</text>
<circle cx="1908.3" cy="1908.6" r="7.13" fill="#000" />
<text x="1926.3" y="1913.9" font-size="14.8">500</text>
<circle cx="1908.3" cy="1928.6" r="8.08" fill="#000" />
<text x="1926.3" y="1933.9" font-size="14.8">750</text>
<circle cx="1908.3" cy="1949" r="8.88" fill="#000" />
<text x="1926.3" y="1954.3" font-size="14.8">1000</text>
<circle cx="1908.3" cy="1972.2" r="9.58" fill="#000" />
<text x="1926.3" y="1977.5" font-size="14.8">1250</text>
<text x="1897.4" y="2016.4" font-size="17">score</text>
<rect x="1897.4" y="2029" width="20.4" height="103.7" fill="url(#scg)" />
<line x1="1898" y1="2034.5" x2="1901" y2="2034.5" stroke="#fff" stroke-width="1" />
<line x1="1914.5" y1="2034.5" x2="1917.5" y2="2034.5" stroke="#fff" stroke-width="1" />
<text x="1924.6" y="2040" font-size="14.8">1200</text>
<line x1="1898" y1="2061.9" x2="1901" y2="2061.9" stroke="#fff" stroke-width="1" />
<line x1="1914.5" y1="2061.9" x2="1917.5" y2="2061.9" stroke="#fff" stroke-width="1" />
<text x="1924.6" y="2067.4" font-size="14.8">800</text>
<line x1="1898" y1="2089.1" x2="1901" y2="2089.1" stroke="#fff" stroke-width="1" />
<line x1="1914.5" y1="2089.1" x2="1917.5" y2="2089.1" stroke="#fff" stroke-width="1" />
<text x="1924.6" y="2094.6" font-size="14.8">400</text>
<line x1="1898" y1="2116.3" x2="1901" y2="2116.3" stroke="#fff" stroke-width="1" />
<line x1="1914.5" y1="2116.3" x2="1917.5" y2="2116.3" stroke="#fff" stroke-width="1" />
<text x="1924.6" y="2121.8" font-size="14.8">0</text>
</svg>
</body></html>
